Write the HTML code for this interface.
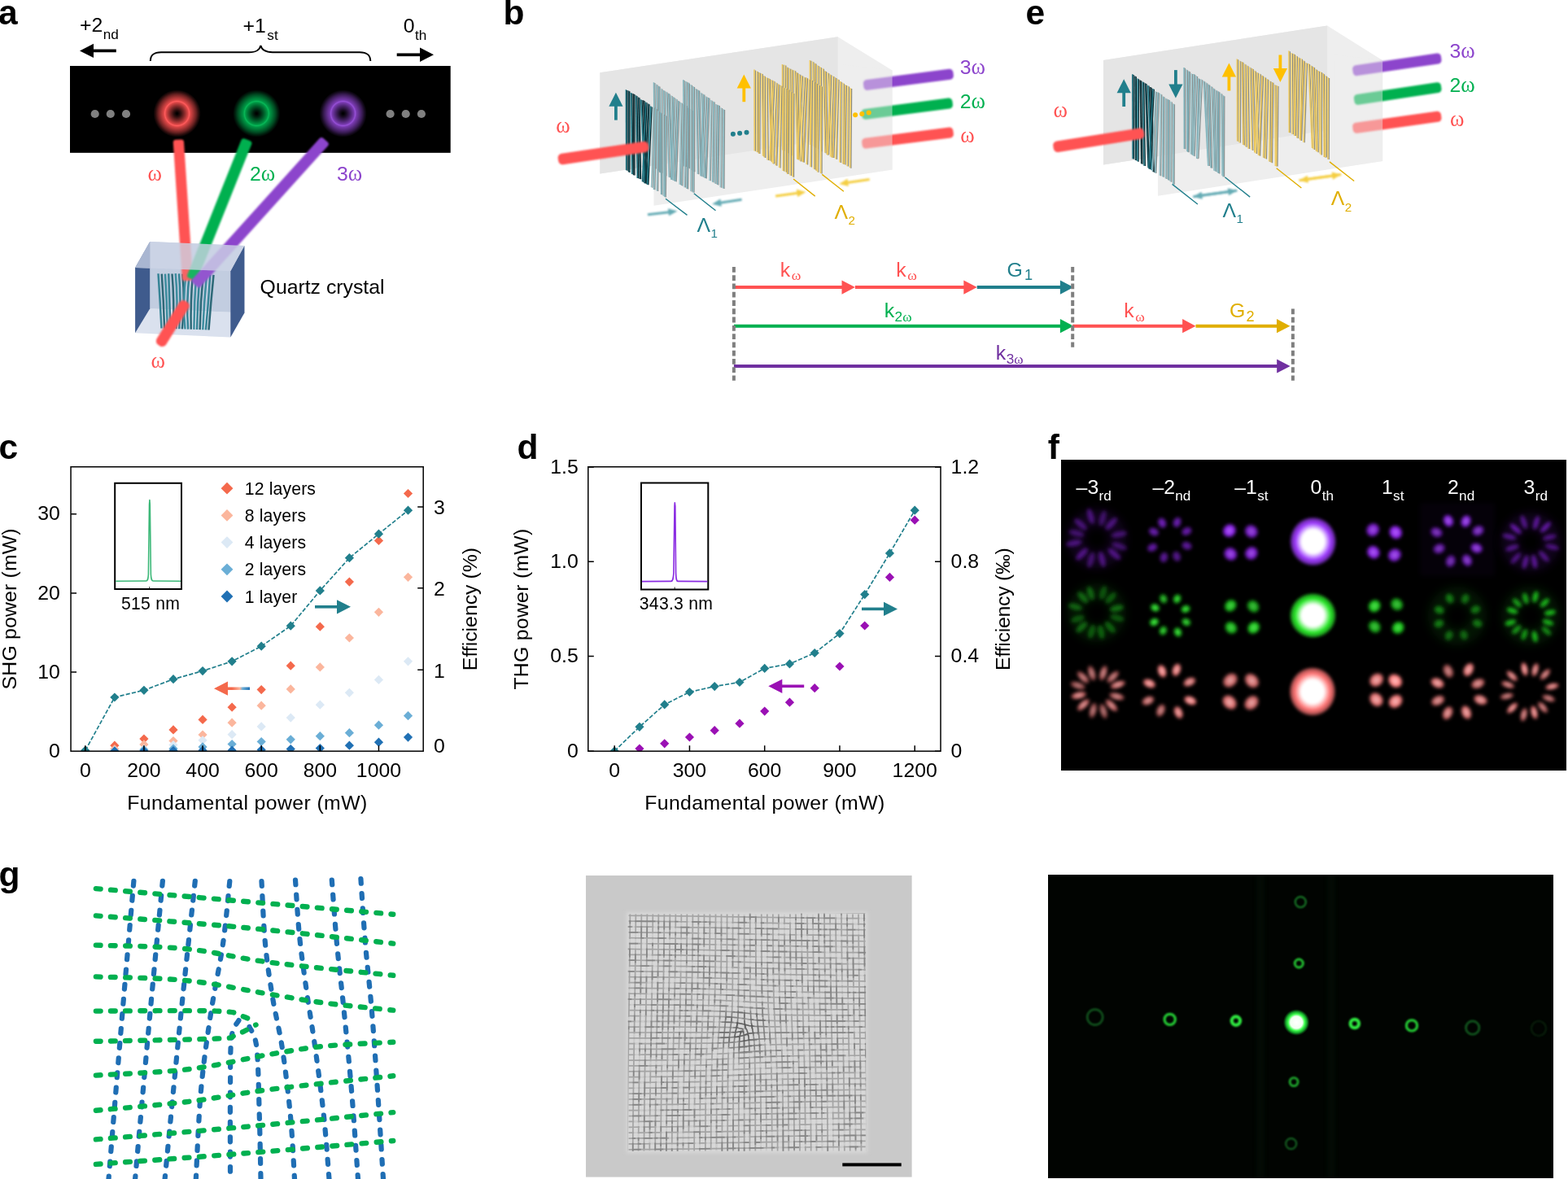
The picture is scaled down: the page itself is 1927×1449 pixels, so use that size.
<!DOCTYPE html>
<html lang="en"><head><meta charset="utf-8"><title>Figure</title>
<style>
html,body{margin:0;padding:0;background:#fff;overflow:hidden}
svg{display:block}
text{font-family:"Liberation Sans",sans-serif}
.om{font-family:"Liberation Serif",serif}
</style></head><body>
<svg width="1927" height="1449" viewBox="0 0 1927 1449">
<defs><radialGradient id="rgR"><stop offset="0" stop-color="#000000"/><stop offset="0.04" stop-color="#050101"/><stop offset="0.15" stop-color="#331010"/><stop offset="0.3" stop-color="#842a2a"/><stop offset="0.45" stop-color="#db4646"/><stop offset="0.5" stop-color="#ff5c5c"/><stop offset="0.55" stop-color="#db4646"/><stop offset="0.65" stop-color="#ad3737"/><stop offset="0.78" stop-color="#6b2222"/><stop offset="0.88" stop-color="#2d0e0e"/><stop offset="0.97" stop-color="#000000"/></radialGradient><radialGradient id="rgG"><stop offset="0" stop-color="#000000"/><stop offset="0.04" stop-color="#000301"/><stop offset="0.15" stop-color="#002310"/><stop offset="0.3" stop-color="#005b29"/><stop offset="0.45" stop-color="#009744"/><stop offset="0.5" stop-color="#08b858"/><stop offset="0.55" stop-color="#009744"/><stop offset="0.65" stop-color="#007736"/><stop offset="0.78" stop-color="#004921"/><stop offset="0.88" stop-color="#001f0e"/><stop offset="0.97" stop-color="#000000"/></radialGradient><radialGradient id="rgP"><stop offset="0" stop-color="#000000"/><stop offset="0.04" stop-color="#020104"/><stop offset="0.15" stop-color="#1c0d28"/><stop offset="0.3" stop-color="#48236a"/><stop offset="0.45" stop-color="#783aaf"/><stop offset="0.5" stop-color="#9650d6"/><stop offset="0.55" stop-color="#783aaf"/><stop offset="0.65" stop-color="#5f2e8a"/><stop offset="0.78" stop-color="#3a1c55"/><stop offset="0.88" stop-color="#190c24"/><stop offset="0.97" stop-color="#000000"/></radialGradient><filter id="b05" filterUnits="userSpaceOnUse" x="0" y="0" width="1927" height="1449"><feGaussianBlur stdDeviation="0.5"/></filter><filter id="b1" filterUnits="userSpaceOnUse" x="0" y="0" width="1927" height="1449"><feGaussianBlur stdDeviation="0.9"/></filter><filter id="b12" filterUnits="userSpaceOnUse" x="0" y="0" width="1927" height="1449"><feGaussianBlur stdDeviation="1.2"/></filter><filter id="b15" filterUnits="userSpaceOnUse" x="0" y="0" width="1927" height="1449"><feGaussianBlur stdDeviation="1.5"/></filter><filter id="b2" filterUnits="userSpaceOnUse" x="0" y="0" width="1927" height="1449"><feGaussianBlur stdDeviation="2"/></filter><filter id="b3" filterUnits="userSpaceOnUse" x="0" y="0" width="1927" height="1449"><feGaussianBlur stdDeviation="3"/></filter><filter id="b4" filterUnits="userSpaceOnUse" x="0" y="0" width="1927" height="1449"><feGaussianBlur stdDeviation="4"/></filter><filter id="b6" filterUnits="userSpaceOnUse" x="0" y="0" width="1927" height="1449"><feGaussianBlur stdDeviation="6"/></filter><linearGradient id="rb" x1="0" y1="0" x2="1" y2="0"><stop offset="0" stop-color="#f4694c"/><stop offset="0.5" stop-color="#f4694c"/><stop offset="0.72" stop-color="#fbb69d"/><stop offset="0.8" stop-color="#6aaed6"/><stop offset="1" stop-color="#2070b4"/></linearGradient><clipPath id="clipc"><rect x="87" y="573" width="434" height="350.5"/></clipPath><clipPath id="clipd"><rect x="722" y="573" width="435" height="350.5"/></clipPath><radialGradient id="z0"><stop offset="0" stop-color="#fff"/><stop offset="0.46" stop-color="#fff"/><stop offset="0.72" stop-color="#a03cff"/><stop offset="0.86" stop-color="#a03cff" stop-opacity="0.75"/><stop offset="1" stop-color="#a03cff" stop-opacity="0"/></radialGradient><radialGradient id="z1"><stop offset="0" stop-color="#fff"/><stop offset="0.46" stop-color="#fff"/><stop offset="0.72" stop-color="#2bea2b"/><stop offset="0.86" stop-color="#2bea2b" stop-opacity="0.75"/><stop offset="1" stop-color="#2bea2b" stop-opacity="0"/></radialGradient><radialGradient id="z2"><stop offset="0" stop-color="#fff"/><stop offset="0.46" stop-color="#fff"/><stop offset="0.72" stop-color="#ff7676"/><stop offset="0.86" stop-color="#ff7676" stop-opacity="0.75"/><stop offset="1" stop-color="#ff7676" stop-opacity="0"/></radialGradient><radialGradient id="gsp"><stop offset="0" stop-color="#fff"/><stop offset="0.45" stop-color="#f0fff0"/><stop offset="0.62" stop-color="#3dff4d"/><stop offset="0.8" stop-color="#18c030" stop-opacity="0.8"/><stop offset="1" stop-color="#0a6018" stop-opacity="0"/></radialGradient><clipPath id="clipc2"><ellipse cx="914" cy="1267" rx="30" ry="26"/></clipPath><clipPath id="clipc3"><ellipse cx="914" cy="1267" rx="14" ry="13"/></clipPath><clipPath id="clipm"><rect x="771.6" y="1122.5" width="292.6" height="292.6"/></clipPath><clipPath id="clipg"><rect x="1288" y="1075" width="621" height="373"/></clipPath></defs>
<text x="-2" y="29.8" font-size="42.5" font-weight="bold">a</text>
<rect x="86" y="81" width="467.7" height="106.8"/>
<circle cx="217.6" cy="139.5" r="30" fill="url(#rgR)"/>
<circle cx="315.3" cy="139.5" r="30" fill="url(#rgG)"/>
<circle cx="421.6" cy="139.5" r="30" fill="url(#rgP)"/>
<circle cx="116.7" cy="140" r="5.1" fill="#808080"/>
<circle cx="135.8" cy="140" r="5.1" fill="#808080"/>
<circle cx="155" cy="140" r="5.1" fill="#808080"/>
<circle cx="479.6" cy="140" r="5.1" fill="#808080"/>
<circle cx="498.7" cy="140" r="5.1" fill="#808080"/>
<circle cx="517.9" cy="140" r="5.1" fill="#808080"/>
<text x="98" y="39.1" font-size="24.8">+2<tspan font-size="17.2" dy="8.9" dx="0.5">nd</tspan></text>
<text x="298.5" y="40.4" font-size="24.8">+1<tspan font-size="17.2" dy="8.6" dx="1.5">st</tspan></text>
<text x="495.8" y="39.9" font-size="24.8">0<tspan font-size="17.2" dy="8.9" dx="0.5">th</tspan></text>
<g><line x1="142.8" y1="62.4" x2="114" y2="62.4" stroke="#000" stroke-width="3.7"/><polygon points="98,62.4 115,53.7 115,71.1" fill="#000"/></g>
<g><line x1="487.7" y1="67.3" x2="517" y2="67.3" stroke="#000" stroke-width="3.7"/><polygon points="533,67.3 516,76 516,58.6" fill="#000"/></g>
<path d="M184.8 75 C185 66.5 190 64.2 198 64.2 L306 64.2 C314 64.2 319 62.5 320.4 55.9 C321.8 62.5 327 64.2 335 64.2 L442 64.2 C450 64.2 455 66.5 455.3 75" fill="none" stroke="#000" stroke-width="2"/>
<polygon points="166.1,409.2 283.3,414.5 300.4,384.6 184.3,379.3" fill="#dde3ef"/><polygon points="184.3,297 300.4,302 300.4,384.6 184.3,379.3" fill="#c2cce0"/><polygon points="166.1,329 184.3,297 184.3,379.3 166.1,409.2" fill="#3f5b8d"/><polygon points="283.3,333.3 300.4,302 300.4,384.6 283.3,414.5" fill="#3f5b8d"/>
<g fill="none" stroke-width="2.5"><path d="M194.5 336.24 Q196.76 369.87 198.5 403.5" stroke="#23798b"/><path d="M198.75 336.54 Q201.07 370.08 202.12 403.62" stroke="#185a69"/><path d="M203 336.61 Q205.13 370.18 205.75 403.75" stroke="#2a8294"/><path d="M207.25 336.25 Q208.29 370.06 209.38 403.88" stroke="#23798b"/><path d="M211.5 336.52 Q214.25 370.26 213 404" stroke="#185a69"/><path d="M215.75 336.08 Q218.82 370.1 216.62 404.12" stroke="#2a8294"/><path d="M220 336.31 Q222.8 370.28 220.25 404.25" stroke="#23798b"/><path d="M224.25 336.73 Q227.42 370.55 223.88 404.38" stroke="#185a69"/><path d="M228.5 336.47 Q224.22 370.48 227.5 404.5" stroke="#2a8294"/><path d="M232.75 337.26 Q228.77 370.94 231.12 404.62" stroke="#23798b"/><path d="M237 336.6 Q233.96 370.67 234.75 404.75" stroke="#185a69"/><path d="M241.25 336.67 Q238.58 370.77 238.38 404.88" stroke="#2a8294"/><path d="M245.5 336.75 Q242.83 370.88 242 405" stroke="#23798b"/><path d="M249.75 337.59 Q246.26 371.36 245.62 405.12" stroke="#185a69"/><path d="M254 337.03 Q250.84 371.14 249.25 405.25" stroke="#2a8294"/><path d="M258.25 337.78 Q256.19 371.58 252.88 405.38" stroke="#23798b"/><path d="M262.5 337.96 Q259.11 371.73 256.5 405.5" stroke="#185a69"/></g>
<g filter="url(#b12)"><rect x="0" y="-6.6" width="173.77" height="13.2" rx="3.5" fill="#ff5252" transform="translate(230.6 345) rotate(-93.76)"/></g>
<g filter="url(#b12)"><rect x="0" y="-6.9" width="184.4" height="13.8" rx="3.5" fill="#00b050" transform="translate(235.5 343) rotate(-68.19)"/></g>
<g filter="url(#b12)"><rect x="0" y="-6.9" width="239.45" height="13.8" rx="3.5" fill="#8c44cc" transform="translate(239.5 350) rotate(-47.91)"/></g>
<polygon points="166.1,329 184.3,297 300.4,302 283.3,333.3" fill="#cdd5e6" fill-opacity="0.8"/>
<polygon points="184.3,329.7 283.3,333.3 283.3,414.5 184.3,410" fill="#c9d2e4" fill-opacity="0.12"/>
<polygon points="166.1,329 184.3,297 184.3,329.7" fill="#a9b5d0" fill-opacity="0.9"/>
<g filter="url(#b12)"><rect x="0" y="-6.75" width="63.55" height="13.5" rx="5.5" fill="#ff5252" transform="translate(195.5 424.5) rotate(-58.19)"/></g>
<text x="181.6" y="222" font-size="26.5" fill="#ff5252" class="om">ω</text>
<text x="307" y="222" font-size="24.8" fill="#00b050">2<tspan class="om" font-size="26.5">ω</tspan></text>
<text x="414" y="222" font-size="24.8" fill="#8c44cc">3<tspan class="om" font-size="26.5">ω</tspan></text>
<text x="185.6" y="451.6" font-size="26.5" fill="#ff5252" class="om">ω</text>
<text x="319.6" y="360.6" font-size="24.8">Quartz crystal</text>
<text x="618.5" y="29.8" font-size="42.5" font-weight="bold">b</text>
<polygon points="737.3,89.3 1029.6,45.2 1096.6,86.6 1096.6,208.6 803.5,252.7 803.5,203.51 737.3,213.5" fill="#eeeeee"/><polygon points="737.3,89.3 1029.6,45.2 1029.6,169.4 737.3,213.5" fill="#e5e5e5"/>
<g filter="url(#b12)"><rect x="0" y="-6.5" width="111.34" height="13" rx="4.5" fill="#8c44cc" transform="translate(1061.2 105) rotate(-7.43)"/></g>
<g filter="url(#b12)"><rect x="0" y="-6.5" width="112.62" height="13" rx="4.5" fill="#00b050" transform="translate(1059 140.9) rotate(-7.35)"/></g>
<g filter="url(#b12)"><rect x="0" y="-6.5" width="113.11" height="13" rx="4.5" fill="#ff5252" transform="translate(1059.4 176.7) rotate(-7.26)"/></g>
<polygon points="1036.6,79.6 1096.6,86.6 1096.6,208.6 1036.6,217.6" fill="#eeeeee" opacity="0.45"/>
<path d="M996.7 74.86L997 178.33M999.82 76.31L1000.92 179.99M1002.94 78.52L1002.46 181.59M1006.06 81.09L1005.98 182.91M1009.17 83.1L1010.19 186.24M1012.29 84.67L1014.97 188.24M1015.41 88.02L1017.76 190.62M1018.53 90.11L1023.27 193.74M1021.65 92.21L1018.62 190.34M1024.77 93.93L1021.73 192.86M1027.89 96L1024.78 194.09M1031.01 97.99L1028.43 195.87M1034.12 100.82L1033.41 199.99M1037.24 102.63L1036.86 201.67M1040.36 104.95L1038.97 202.47M1043.48 106.43L1042.44 204.61M1046.6 108.94L1045.88 206.73" stroke="#8f8f84" stroke-width="1.4" fill="none"/><g stroke-width="1.6" fill="none"><path d="M995.4 74.06L995.7 177.93" stroke="#ecc85f"/><path d="M998.52 75.51L999.62 179.59" stroke="#f2d475"/><path d="M1001.64 77.72L1001.16 181.19" stroke="#e3bd52"/><path d="M1004.76 80.29L1004.68 182.51" stroke="#f0cf6a"/><path d="M1007.88 82.3L1008.89 185.84" stroke="#ecc85f"/><path d="M1010.99 83.87L1013.67 187.84" stroke="#f2d475"/><path d="M1014.11 87.22L1016.46 190.22" stroke="#e3bd52"/><path d="M1017.23 89.31L1021.97 193.34" stroke="#f0cf6a"/><path d="M1020.35 91.41L1017.32 189.94" stroke="#ecc85f"/><path d="M1023.47 93.13L1020.43 192.46" stroke="#f2d475"/><path d="M1026.59 95.2L1023.48 193.69" stroke="#e3bd52"/><path d="M1029.71 97.19L1027.13 195.47" stroke="#f0cf6a"/><path d="M1032.83 100.02L1032.11 199.59" stroke="#ecc85f"/><path d="M1035.94 101.83L1035.56 201.27" stroke="#f2d475"/><path d="M1039.06 104.15L1037.67 202.07" stroke="#e3bd52"/><path d="M1042.18 105.63L1041.14 204.21" stroke="#f0cf6a"/><path d="M1045.3 108.14L1044.58 206.33" stroke="#ecc85f"/></g>
<path d="M962.8 79.82L963.1 184.82M965.77 80.58L965.04 185.61M968.74 83.37L968.59 188.26M971.71 84.69L972.85 190.87M974.67 86.19L975.3 191.69M977.64 87.33L981.09 196.21M980.61 89.87L982.78 196.58M983.58 91.76L987.28 198.93M986.55 93.53L981.21 195.84M989.52 95.3L984.51 198.51M992.49 96.18L988.21 199.67M995.46 98.13L992.58 202.42M998.42 99L997.39 205.42M1001.39 101.15L1001.33 208.22M1004.36 102.93L1004.17 209.93M1007.33 104.95L1005.91 211.83M1010.3 106.53L1010 213.51" stroke="#8f8f84" stroke-width="1.4" fill="none"/><g stroke-width="1.6" fill="none"><path d="M961.5 79.02L961.8 184.42" stroke="#ecc85f"/><path d="M964.47 79.78L963.74 185.21" stroke="#f2d475"/><path d="M967.44 82.57L967.29 187.86" stroke="#e3bd52"/><path d="M970.41 83.89L971.55 190.47" stroke="#f0cf6a"/><path d="M973.38 85.39L974 191.29" stroke="#ecc85f"/><path d="M976.34 86.53L979.79 195.81" stroke="#f2d475"/><path d="M979.31 89.07L981.48 196.18" stroke="#e3bd52"/><path d="M982.28 90.96L985.98 198.53" stroke="#f0cf6a"/><path d="M985.25 92.73L979.91 195.44" stroke="#ecc85f"/><path d="M988.22 94.5L983.21 198.11" stroke="#f2d475"/><path d="M991.19 95.38L986.91 199.27" stroke="#e3bd52"/><path d="M994.16 97.33L991.28 202.02" stroke="#f0cf6a"/><path d="M997.12 98.2L996.09 205.02" stroke="#ecc85f"/><path d="M1000.09 100.35L1000.03 207.82" stroke="#f2d475"/><path d="M1003.06 102.13L1002.87 209.53" stroke="#e3bd52"/><path d="M1006.03 104.15L1004.61 211.43" stroke="#f0cf6a"/><path d="M1009 105.73L1008.7 213.11" stroke="#ecc85f"/></g>
<path d="M928.3 86.38L928.6 185.81M931.27 88.08L931.38 187.3M934.24 89.85L933.86 189.12M937.21 91.04L938.85 192.19M940.17 93.81L940.66 194.01M943.14 95.82L944.35 197M946.11 97.07L949.78 199.72M949.08 98.72L951.77 200.98M952.05 100.09L947.04 197.6M955.02 102.14L950.98 201.52M957.99 104.18L954.77 203.72M960.96 105.7L958.99 206.4M963.92 108.22L963.67 210.5M966.89 109.04L966.55 211.68M969.86 110.46L968.87 214.07M972.83 113.32L972.38 216.02M975.8 115.09L975.5 217.69" stroke="#8f8f84" stroke-width="1.4" fill="none"/><g stroke-width="1.6" fill="none"><path d="M927 85.58L927.3 185.41" stroke="#ecc85f"/><path d="M929.97 87.28L930.08 186.9" stroke="#f2d475"/><path d="M932.94 89.05L932.56 188.72" stroke="#e3bd52"/><path d="M935.91 90.24L937.55 191.79" stroke="#f0cf6a"/><path d="M938.88 93.01L939.36 193.61" stroke="#ecc85f"/><path d="M941.84 95.02L943.05 196.6" stroke="#f2d475"/><path d="M944.81 96.27L948.48 199.32" stroke="#e3bd52"/><path d="M947.78 97.92L950.47 200.58" stroke="#f0cf6a"/><path d="M950.75 99.29L945.74 197.2" stroke="#ecc85f"/><path d="M953.72 101.34L949.68 201.12" stroke="#f2d475"/><path d="M956.69 103.38L953.47 203.32" stroke="#e3bd52"/><path d="M959.66 104.9L957.69 206" stroke="#f0cf6a"/><path d="M962.62 107.42L962.37 210.1" stroke="#ecc85f"/><path d="M965.59 108.24L965.25 211.28" stroke="#f2d475"/><path d="M968.56 109.66L967.57 213.67" stroke="#e3bd52"/><path d="M971.53 112.52L971.08 215.62" stroke="#f0cf6a"/><path d="M974.5 114.29L974.2 217.29" stroke="#ecc85f"/></g>
<path d="M841.1 98.93L842.28 204.94M844.19 100.74L843.3 204.88M847.27 102.39L847.8 207.17M850.36 104.83L851.1 209.47M853.45 106.95L853.76 211.37M856.54 109.85L858.73 214.3M859.62 111.52L862.53 216.59M862.71 114.66L866.89 218.9M865.8 116.56L862.82 216.73M868.89 119.16L864.6 217.63M871.97 120.78L868.22 219.48M875.06 123.8L873.24 222.36M878.15 125.53L876.98 224.16M881.24 128.72L879.9 225.89M884.33 130.03L882.88 227.41M887.41 133L886.63 230.69M890.5 135.02L889.98 231.9" stroke="#8d9393" stroke-width="1.4" fill="none"/><g stroke-width="1.6" fill="none"><path d="M839.8 98.13L840.98 204.54" stroke="#84b6be"/><path d="M842.89 99.94L842 204.48" stroke="#93bec6"/><path d="M845.97 101.59L846.5 206.77" stroke="#78abb4"/><path d="M849.06 104.03L849.8 209.07" stroke="#a0c6cc"/><path d="M852.15 106.15L852.46 210.97" stroke="#84b6be"/><path d="M855.24 109.05L857.43 213.9" stroke="#93bec6"/><path d="M858.33 110.72L861.23 216.19" stroke="#78abb4"/><path d="M861.41 113.86L865.59 218.5" stroke="#a0c6cc"/><path d="M864.5 115.76L861.52 216.33" stroke="#84b6be"/><path d="M867.59 118.36L863.3 217.23" stroke="#93bec6"/><path d="M870.67 119.98L866.92 219.08" stroke="#78abb4"/><path d="M873.76 123L871.94 221.96" stroke="#a0c6cc"/><path d="M876.85 124.73L875.68 223.76" stroke="#84b6be"/><path d="M879.94 127.92L878.6 225.49" stroke="#93bec6"/><path d="M883.03 129.23L881.58 227.01" stroke="#78abb4"/><path d="M886.11 132.2L885.33 230.29" stroke="#a0c6cc"/><path d="M889.2 134.22L888.68 231.5" stroke="#84b6be"/></g>
<path d="M804.8 102L806.07 207.51M807.83 104.21L809.32 209.65M810.86 106.6L811.7 212.18M813.89 109.61L814.08 212.85M816.92 111.73L818.73 216.22M819.96 113.57L823.45 218.23M822.99 115.56L827.25 220.93M826.02 118.08L829.16 222.48M829.05 120.13L825.99 221.06M832.08 122.18L828.31 222M835.11 124.7L831.21 223.37M838.14 126.86L836.48 227.08M841.17 128.83L838.7 228.46M844.21 129.9L842.51 230.61M847.24 133.28L845.58 232.46M850.27 134.72L850.12 235.47M853.3 136.73L853 236.84" stroke="#8d9393" stroke-width="1.4" fill="none"/><g stroke-width="1.6" fill="none"><path d="M803.5 101.2L804.77 207.11" stroke="#84b6be"/><path d="M806.53 103.41L808.02 209.25" stroke="#93bec6"/><path d="M809.56 105.8L810.4 211.78" stroke="#78abb4"/><path d="M812.59 108.81L812.78 212.45" stroke="#a0c6cc"/><path d="M815.62 110.93L817.43 215.82" stroke="#84b6be"/><path d="M818.66 112.77L822.15 217.83" stroke="#93bec6"/><path d="M821.69 114.76L825.95 220.53" stroke="#78abb4"/><path d="M824.72 117.28L827.86 222.08" stroke="#a0c6cc"/><path d="M827.75 119.33L824.69 220.66" stroke="#84b6be"/><path d="M830.78 121.38L827.01 221.6" stroke="#93bec6"/><path d="M833.81 123.9L829.91 222.97" stroke="#78abb4"/><path d="M836.84 126.06L835.18 226.68" stroke="#a0c6cc"/><path d="M839.88 128.03L837.4 228.06" stroke="#84b6be"/><path d="M842.91 129.1L841.21 230.21" stroke="#93bec6"/><path d="M845.94 132.48L844.28 232.06" stroke="#78abb4"/><path d="M848.97 133.92L848.82 235.07" stroke="#a0c6cc"/><path d="M852 135.93L851.7 236.44" stroke="#84b6be"/></g>
<path d="M770.7 110.97L771 209.7M773.74 112.31L773.88 211.9M776.77 114.73L778.02 214.35M779.81 116.02L780.01 215.53M782.85 118.12L784.62 219.3M785.89 120.36L787.58 220.3M788.92 123.07L793.49 225.53M791.96 124.09L796.21 226.64M795 126.21L790.79 223.78M798.04 128.27L793.75 225.63M801.07 131.36L796.83 227.24" stroke="#0c2a30" stroke-width="1.4" fill="none"/><path d="M804.11 132.55L801.85 230.75M807.15 134.13L804.79 233.31M810.19 137.17L808.62 235.03M813.22 139.34L814 239.5M816.26 140.91L816.75 241.36M819.3 142.77L818.24 242.53" stroke="#8d9393" stroke-width="1.4" fill="none"/><g stroke-width="1.6" fill="none"><path d="M769.4 110.17L769.7 209.3" stroke="#1c6f7d"/><path d="M772.44 111.51L772.58 211.5" stroke="#0f4852"/><path d="M775.48 113.93L776.72 213.95" stroke="#237f8d"/><path d="M778.51 115.22L778.71 215.13" stroke="#12343a"/><path d="M781.55 117.32L783.32 218.9" stroke="#1c6f7d"/><path d="M784.59 119.56L786.28 219.9" stroke="#0f4852"/><path d="M787.62 122.27L792.19 225.13" stroke="#237f8d"/><path d="M790.66 123.29L794.91 226.24" stroke="#12343a"/><path d="M793.7 125.41L789.49 223.38" stroke="#1c6f7d"/><path d="M796.74 127.47L792.45 225.23" stroke="#0f4852"/><path d="M799.77 130.56L795.53 226.84" stroke="#237f8d"/><path d="M802.81 131.75L800.55 230.35" stroke="#a0c6cc"/><path d="M805.85 133.33L803.49 232.91" stroke="#84b6be"/><path d="M808.89 136.37L807.32 234.63" stroke="#93bec6"/><path d="M811.92 138.54L812.7 239.1" stroke="#78abb4"/><path d="M814.96 140.11L815.45 240.96" stroke="#a0c6cc"/><path d="M818 141.97L816.94 242.13" stroke="#84b6be"/></g>
<circle cx="900.9" cy="164.7" r="3" fill="#217f8c"/>
<circle cx="909.1" cy="163.8" r="3" fill="#217f8c"/>
<circle cx="917.5" cy="162.7" r="3" fill="#217f8c"/>
<circle cx="1051.1" cy="141.2" r="3" fill="#ffc000"/>
<circle cx="1059.3" cy="139.9" r="3" fill="#ffc000"/>
<circle cx="1067.7" cy="138.6" r="3" fill="#ffc000"/>
<g><line x1="756.9" y1="147.6" x2="756.9" y2="129.8" stroke="#217f8c" stroke-width="3.8"/><polygon points="756.9,113.8 765.5,130.8 748.3,130.8" fill="#217f8c"/></g>
<g><line x1="914.3" y1="125.2" x2="914.3" y2="107.5" stroke="#ffc000" stroke-width="3.8"/><polygon points="914.3,91.5 922.9,108.5 905.7,108.5" fill="#ffc000"/></g>
<g filter="url(#b12)"><rect x="0" y="-6.75" width="112.2" height="13.5" rx="5" fill="#ff5252" transform="translate(686 196.2) rotate(-8.4)"/></g>
<text x="683.3" y="162.7" font-size="26.5" fill="#ff5252" class="om">ω</text>
<path d="M818 244.3L844.5 264.4M852.8 237.8L879.5 258.8" stroke="#217f8c" stroke-width="1.4" fill="none"/>
<path d="M975.1 220L1001.7 241.1M1010.3 214.4L1036.9 235.3" stroke="#e0ae00" stroke-width="1.4" fill="none"/>
<g filter="url(#b1)" opacity="0.8"><g><line x1="796" y1="263.8" x2="822.47" y2="260.67" stroke="#3f97a3" stroke-width="3"/><polygon points="832.4,259.5 822.02,265.36 820.94,256.22" fill="#3f97a3"/></g></g>
<g filter="url(#b1)" opacity="0.8"><g><line x1="911.5" y1="245.2" x2="885.08" y2="249.28" stroke="#3f97a3" stroke-width="3"/><polygon points="875.2,250.8 885.37,244.58 886.77,253.67" fill="#3f97a3"/></g></g>
<g filter="url(#b1)" opacity="0.8"><g><line x1="953.1" y1="241.1" x2="980.5" y2="237.28" stroke="#f2c318" stroke-width="3"/><polygon points="990.4,235.9 980.14,241.97 978.87,232.86" fill="#f2c318"/></g></g>
<g filter="url(#b1)" opacity="0.8"><g><line x1="1068.6" y1="220.4" x2="1041.19" y2="224.52" stroke="#f2c318" stroke-width="3"/><polygon points="1031.3,226 1041.5,219.82 1042.86,228.92" fill="#f2c318"/></g></g>
<text x="856.5" y="284.7" font-size="24.8" fill="#217f8c">Λ<tspan font-size="15.2" dy="7.6" dx="0.3">1</tspan></text>
<text x="1025.5" y="268.8" font-size="24.8" fill="#e0ae00">Λ<tspan font-size="15.2" dy="7.6" dx="0.3">2</tspan></text>
<text x="1179.8" y="91" font-size="24.8" fill="#8c44cc">3<tspan class="om" font-size="26.5">ω</tspan></text>
<text x="1179.8" y="132.8" font-size="24.8" fill="#00b050">2<tspan class="om" font-size="26.5">ω</tspan></text>
<text x="1180.2" y="174.9" font-size="26.5" fill="#ff5252" class="om">ω</text>
<g><line x1="901.9" y1="353.1" x2="1035.5" y2="353.1" stroke="#ff5252" stroke-width="4"/><polygon points="1050.9,353.1 1034.5,361.7 1034.5,344.5" fill="#ff5252"/></g>
<g><line x1="1050.9" y1="353.1" x2="1185.3" y2="353.1" stroke="#ff5252" stroke-width="4"/><polygon points="1200.7,353.1 1184.3,361.7 1184.3,344.5" fill="#ff5252"/></g>
<g><line x1="1200.7" y1="353.1" x2="1303.9" y2="353.1" stroke="#217f8c" stroke-width="4"/><polygon points="1319.3,353.1 1302.9,361.7 1302.9,344.5" fill="#217f8c"/></g>
<g><line x1="901.9" y1="400.7" x2="1303.9" y2="400.7" stroke="#00b050" stroke-width="4"/><polygon points="1319.3,400.7 1302.9,409.3 1302.9,392.1" fill="#00b050"/></g>
<g><line x1="1318.2" y1="400.7" x2="1454.1" y2="400.7" stroke="#ff5252" stroke-width="4"/><polygon points="1469.5,400.7 1453.1,409.3 1453.1,392.1" fill="#ff5252"/></g>
<g><line x1="1469.5" y1="400.7" x2="1570" y2="400.7" stroke="#e0ae00" stroke-width="4"/><polygon points="1585.4,400.7 1569,409.3 1569,392.1" fill="#e0ae00"/></g>
<g><line x1="901.9" y1="450" x2="1570.2" y2="450" stroke="#7030a0" stroke-width="4"/><polygon points="1585.6,450 1569.2,458.6 1569.2,441.4" fill="#7030a0"/></g>
<path d="M901.9 328V467.8M1318.2 328V426.8M1588.9 379.4V467.8" stroke="#7f7f7f" stroke-width="4" stroke-dasharray="6.8 3.47" fill="none"/>
<text x="958.8" y="339.6" font-size="24.8" fill="#ff5252">k<tspan font-size="17.6" dy="4.8" dx="1.6"><tspan class="om">ω</tspan></tspan></text>
<text x="1101.3" y="339.6" font-size="24.8" fill="#ff5252">k<tspan font-size="17.6" dy="4.8" dx="1.6"><tspan class="om">ω</tspan></tspan></text>
<text x="1237.6" y="339.6" font-size="24.8" fill="#217f8c">G<tspan font-size="18.2" dy="4.5" dx="2">1</tspan></text>
<text x="1086.7" y="390.2" font-size="24.8" fill="#00b050">k<tspan font-size="17.2" dy="4.5" dx="0.5">2<tspan class="om">ω</tspan></tspan></text>
<text x="1381.2" y="390.2" font-size="24.8" fill="#ff5252">k<tspan font-size="17.6" dy="4.8" dx="1.6"><tspan class="om">ω</tspan></tspan></text>
<text x="1511" y="390.2" font-size="24.8" fill="#e0ae00">G<tspan font-size="18.2" dy="4.5" dx="1.2">2</tspan></text>
<text x="1223.8" y="442" font-size="24.8" fill="#7030a0">k<tspan font-size="17.2" dy="4.5" dx="0.5">3<tspan class="om">ω</tspan></tspan></text>
<text x="1260.5" y="29.8" font-size="42.5" font-weight="bold">e</text>
<polygon points="1356,74 1631.1,31.4 1699.2,74.2 1699.2,197.9 1423.1,240.8 1423.1,192.21 1356,202.6" fill="#eeeeee"/><polygon points="1356,74 1631.1,31.4 1631.1,160 1356,202.6" fill="#e5e5e5"/>
<g filter="url(#b12)"><rect x="0" y="-6.5" width="109.87" height="13" rx="4.5" fill="#8c44cc" transform="translate(1662.5 87.3) rotate(-8.37)"/></g>
<g filter="url(#b12)"><rect x="0" y="-6.5" width="108.19" height="13" rx="4.5" fill="#00b050" transform="translate(1664.2 123) rotate(-8.5)"/></g>
<g filter="url(#b12)"><rect x="0" y="-6.5" width="109.77" height="13" rx="4.5" fill="#ff5252" transform="translate(1662.5 157.9) rotate(-8.01)"/></g>
<polygon points="1639.2,67.2 1699.2,74.2 1699.2,197.9 1639.2,206.9" fill="#eeeeee" opacity="0.45"/>
<path d="M1585.3 63.32L1585.6 163.29M1588.31 65.74L1589.15 165.11M1591.33 67.11L1592.05 167.06M1594.34 69.24L1592.4 167.1M1597.35 71.38L1595.22 169.94M1600.36 72.65L1598.63 171.33M1603.38 75.31L1599.47 173.01M1606.39 77.85L1603.22 175.29M1609.4 78.96L1613.96 182.43M1612.41 81.31L1615.59 183.99M1615.42 83.11L1618.89 186.05M1618.44 85.71L1620.18 187.17M1621.45 87.71L1623.64 189.18M1624.46 88.98L1624.35 190.55M1627.47 91.16L1628.68 193.4M1630.49 93.81L1630.27 193.56M1633.5 95.97L1633.2 196.08" stroke="#8f8f84" stroke-width="1.4" fill="none"/><g stroke-width="1.6" fill="none"><path d="M1584 62.52L1584.3 162.89" stroke="#ecc85f"/><path d="M1587.01 64.94L1587.85 164.71" stroke="#f2d475"/><path d="M1590.03 66.31L1590.75 166.66" stroke="#e3bd52"/><path d="M1593.04 68.44L1591.1 166.7" stroke="#f0cf6a"/><path d="M1596.05 70.58L1593.92 169.54" stroke="#ecc85f"/><path d="M1599.06 71.85L1597.33 170.93" stroke="#f2d475"/><path d="M1602.08 74.51L1598.17 172.61" stroke="#e3bd52"/><path d="M1605.09 77.05L1601.92 174.89" stroke="#f0cf6a"/><path d="M1608.1 78.16L1612.66 182.03" stroke="#ecc85f"/><path d="M1611.11 80.51L1614.29 183.59" stroke="#f2d475"/><path d="M1614.12 82.31L1617.59 185.65" stroke="#e3bd52"/><path d="M1617.14 84.91L1618.88 186.77" stroke="#f0cf6a"/><path d="M1620.15 86.91L1622.34 188.78" stroke="#ecc85f"/><path d="M1623.16 88.18L1623.05 190.15" stroke="#f2d475"/><path d="M1626.17 90.36L1627.38 193" stroke="#e3bd52"/><path d="M1629.19 93.01L1628.97 193.16" stroke="#f0cf6a"/><path d="M1632.2 95.17L1631.9 195.68" stroke="#ecc85f"/></g>
<path d="M1521.6 73.19L1521.9 173.84M1524.69 75.31L1524.3 175.53M1527.77 76.75L1529.28 178.48M1530.86 79.29L1532.05 180.75M1533.95 81.3L1535.57 183.04M1537.04 83.19L1539.78 184.93M1540.12 84.94L1543.39 187.73M1543.21 87.55L1547.77 190.96M1546.3 89.83L1543.21 187.72M1549.39 91.22L1544.45 188.95M1552.47 93.54L1548.64 191.6M1555.56 95.5L1553.82 194.21M1558.65 97.81L1556.44 195.5M1561.74 99.94L1560.92 199M1564.83 101.77L1563.56 200.24M1567.91 104.75L1568.69 204.36M1571 106.01L1569.95 204.57" stroke="#8f8f84" stroke-width="1.4" fill="none"/><g stroke-width="1.6" fill="none"><path d="M1520.3 72.39L1520.6 173.44" stroke="#ecc85f"/><path d="M1523.39 74.51L1523 175.13" stroke="#f2d475"/><path d="M1526.47 75.95L1527.98 178.08" stroke="#e3bd52"/><path d="M1529.56 78.49L1530.75 180.35" stroke="#f0cf6a"/><path d="M1532.65 80.5L1534.27 182.64" stroke="#ecc85f"/><path d="M1535.74 82.39L1538.48 184.53" stroke="#f2d475"/><path d="M1538.83 84.14L1542.09 187.33" stroke="#e3bd52"/><path d="M1541.91 86.75L1546.47 190.56" stroke="#f0cf6a"/><path d="M1545 89.03L1541.91 187.32" stroke="#ecc85f"/><path d="M1548.09 90.42L1543.15 188.55" stroke="#f2d475"/><path d="M1551.17 92.74L1547.34 191.2" stroke="#e3bd52"/><path d="M1554.26 94.7L1552.52 193.81" stroke="#f0cf6a"/><path d="M1557.35 97.01L1555.14 195.1" stroke="#ecc85f"/><path d="M1560.44 99.14L1559.62 198.6" stroke="#f2d475"/><path d="M1563.53 100.97L1562.26 199.84" stroke="#e3bd52"/><path d="M1566.61 103.95L1567.39 203.96" stroke="#f0cf6a"/><path d="M1569.7 105.21L1568.65 204.17" stroke="#ecc85f"/></g>
<path d="M1456.4 83.7L1456.7 183.34M1459.42 86.19L1460.27 186.47M1462.45 88.31L1460.97 187.14M1465.47 91.02L1464.65 189.82M1468.5 91.8L1466.62 191.04M1471.52 93.91L1468.16 192.11M1474.55 97.17L1472.17 195.28M1477.57 98.21L1472.85 194.6M1480.6 100.36L1486.04 204.05M1483.62 102.37L1486.32 204.08M1486.65 104.63L1489.54 206.76M1489.67 106.73L1493.18 210.06M1492.7 109.4L1494.86 210.92M1495.72 111.52L1497.31 212.18M1498.75 113.14L1498.75 213.45M1501.77 115.5L1503.24 216.18M1504.8 118.14L1504.5 217.61" stroke="#8d9393" stroke-width="1.4" fill="none"/><g stroke-width="1.6" fill="none"><path d="M1455.1 82.9L1455.4 182.94" stroke="#84b6be"/><path d="M1458.12 85.39L1458.97 186.07" stroke="#93bec6"/><path d="M1461.15 87.51L1459.67 186.74" stroke="#78abb4"/><path d="M1464.17 90.22L1463.35 189.42" stroke="#a0c6cc"/><path d="M1467.2 91L1465.32 190.64" stroke="#84b6be"/><path d="M1470.22 93.11L1466.86 191.71" stroke="#93bec6"/><path d="M1473.25 96.37L1470.87 194.88" stroke="#78abb4"/><path d="M1476.27 97.41L1471.55 194.2" stroke="#a0c6cc"/><path d="M1479.3 99.56L1484.74 203.65" stroke="#84b6be"/><path d="M1482.33 101.57L1485.02 203.68" stroke="#93bec6"/><path d="M1485.35 103.83L1488.24 206.36" stroke="#78abb4"/><path d="M1488.38 105.93L1491.88 209.66" stroke="#a0c6cc"/><path d="M1491.4 108.6L1493.56 210.52" stroke="#84b6be"/><path d="M1494.42 110.72L1496.01 211.78" stroke="#93bec6"/><path d="M1497.45 112.34L1497.45 213.05" stroke="#78abb4"/><path d="M1500.47 114.7L1501.94 215.78" stroke="#a0c6cc"/><path d="M1503.5 117.34L1503.2 217.21" stroke="#84b6be"/></g>
<path d="M1393.1 91.96L1393.4 195.53M1396.24 94.21L1396.92 197.29M1399.39 97.29L1399.13 198.69M1402.53 99.36L1404.04 201.67M1405.67 101.28L1407.31 204.05M1408.82 102.99L1412.5 206.67M1411.96 105.64L1416.38 209.28M1415.11 107.8L1418.61 211.71M1418.25 109.8L1413.3 207.95" stroke="#0c2a30" stroke-width="1.4" fill="none"/><path d="M1421.39 113.05L1417.57 210.91M1424.54 114.21L1420.89 212.93M1427.68 116.18L1426.56 216.25M1430.82 119.26L1430.24 217.77M1433.97 121.58L1433.86 219.95M1437.11 123.08L1437.04 221.67M1440.26 125.46L1439.63 223.76M1443.4 128.37L1443.1 226.66" stroke="#8d9393" stroke-width="1.4" fill="none"/><g stroke-width="1.6" fill="none"><path d="M1391.8 91.16L1392.1 195.13" stroke="#1c6f7d"/><path d="M1394.94 93.41L1395.62 196.89" stroke="#0f4852"/><path d="M1398.09 96.49L1397.83 198.29" stroke="#237f8d"/><path d="M1401.23 98.56L1402.74 201.27" stroke="#12343a"/><path d="M1404.38 100.48L1406.01 203.65" stroke="#1c6f7d"/><path d="M1407.52 102.19L1411.2 206.27" stroke="#0f4852"/><path d="M1410.66 104.84L1415.08 208.88" stroke="#237f8d"/><path d="M1413.81 107L1417.31 211.31" stroke="#12343a"/><path d="M1416.95 109L1412 207.55" stroke="#1c6f7d"/><path d="M1420.09 112.25L1416.27 210.51" stroke="#93bec6"/><path d="M1423.24 113.41L1419.59 212.53" stroke="#78abb4"/><path d="M1426.38 115.38L1425.26 215.85" stroke="#a0c6cc"/><path d="M1429.52 118.46L1428.94 217.37" stroke="#84b6be"/><path d="M1432.67 120.78L1432.56 219.55" stroke="#93bec6"/><path d="M1435.81 122.28L1435.74 221.27" stroke="#78abb4"/><path d="M1438.96 124.66L1438.33 223.36" stroke="#a0c6cc"/><path d="M1442.1 127.57L1441.8 226.26" stroke="#84b6be"/></g>
<g><line x1="1381.2" y1="131" x2="1381.2" y2="113.3" stroke="#217f8c" stroke-width="3.8"/><polygon points="1381.2,97.3 1389.8,114.3 1372.6,114.3" fill="#217f8c"/></g>
<g><line x1="1444.9" y1="86.1" x2="1444.9" y2="104.6" stroke="#217f8c" stroke-width="3.8"/><polygon points="1444.9,120.6 1436.3,103.6 1453.5,103.6" fill="#217f8c"/></g>
<g><line x1="1510.4" y1="111.5" x2="1510.4" y2="93.4" stroke="#ffc000" stroke-width="3.8"/><polygon points="1510.4,77.4 1519,94.4 1501.8,94.4" fill="#ffc000"/></g>
<g><line x1="1573.4" y1="67.5" x2="1573.4" y2="85" stroke="#ffc000" stroke-width="3.8"/><polygon points="1573.4,101 1564.8,84 1582,84" fill="#ffc000"/></g>
<g filter="url(#b12)"><rect x="0" y="-6.75" width="112.9" height="13.5" rx="5" fill="#ff5252" transform="translate(1294.5 181) rotate(-9.02)"/></g>
<text x="1294.4" y="144.4" font-size="26.5" fill="#ff5252" class="om">ω</text>
<path d="M1440.6 226.4L1471.9 251M1505.4 217.8L1536.2 242.1" stroke="#217f8c" stroke-width="1.4" fill="none"/>
<path d="M1568.7 206.8L1599.4 231M1634 198.9L1664.2 222.5" stroke="#e0ae00" stroke-width="1.4" fill="none"/>
<g filter="url(#b1)" opacity="0.8"><g><line x1="1466.3" y1="241.7" x2="1510.4" y2="235.58" stroke="#3f97a3" stroke-width="3"/><polygon points="1520.3,234.2 1510.04,240.27 1508.77,231.16" fill="#3f97a3"/></g><g><line x1="1520.3" y1="234.2" x2="1476.2" y2="240.32" stroke="#3f97a3" stroke-width="3"/><polygon points="1466.3,241.7 1476.56,235.63 1477.83,244.74" fill="#3f97a3"/></g></g>
<g filter="url(#b1)" opacity="0.8"><g><line x1="1596.5" y1="221.7" x2="1638.29" y2="215.96" stroke="#f2c318" stroke-width="3"/><polygon points="1648.2,214.6 1637.93,220.65 1636.68,211.54" fill="#f2c318"/></g><g><line x1="1648.2" y1="214.6" x2="1606.41" y2="220.34" stroke="#f2c318" stroke-width="3"/><polygon points="1596.5,221.7 1606.77,215.65 1608.02,224.76" fill="#f2c318"/></g></g>
<text x="1502.5" y="266.8" font-size="24.8" fill="#217f8c">Λ<tspan font-size="15.2" dy="7.6" dx="0.3">1</tspan></text>
<text x="1635.8" y="252.4" font-size="24.8" fill="#e0ae00">Λ<tspan font-size="15.2" dy="7.6" dx="0.3">2</tspan></text>
<text x="1781.4" y="70.6" font-size="24.8" fill="#8c44cc">3<tspan class="om" font-size="26.5">ω</tspan></text>
<text x="1781.4" y="113" font-size="24.8" fill="#00b050">2<tspan class="om" font-size="26.5">ω</tspan></text>
<text x="1782" y="155" font-size="26.5" fill="#ff5252" class="om">ω</text>
<text x="-1.5" y="564" font-size="42.5" font-weight="bold">c</text>
<g clip-path="url(#clipc)"><path d="M140.87 910.6 l5.6 5.6 l-5.6 5.6 l-5.6 -5.6 z" fill="#f4694c"/><path d="M176.93 902.5 l5.6 5.6 l-5.6 5.6 l-5.6 -5.6 z" fill="#f4694c"/><path d="M213 891.3 l5.6 5.6 l-5.6 5.6 l-5.6 -5.6 z" fill="#f4694c"/><path d="M249.06 878.8 l5.6 5.6 l-5.6 5.6 l-5.6 -5.6 z" fill="#f4694c"/><path d="M285.12 863.6 l5.6 5.6 l-5.6 5.6 l-5.6 -5.6 z" fill="#f4694c"/><path d="M321.19 842 l5.6 5.6 l-5.6 5.6 l-5.6 -5.6 z" fill="#f4694c"/><path d="M357.25 812.6 l5.6 5.6 l-5.6 5.6 l-5.6 -5.6 z" fill="#f4694c"/><path d="M393.32 764.6 l5.6 5.6 l-5.6 5.6 l-5.6 -5.6 z" fill="#f4694c"/><path d="M429.38 709.5 l5.6 5.6 l-5.6 5.6 l-5.6 -5.6 z" fill="#f4694c"/><path d="M465.45 658.8 l5.6 5.6 l-5.6 5.6 l-5.6 -5.6 z" fill="#f4694c"/><path d="M501.51 600.9 l5.6 5.6 l-5.6 5.6 l-5.6 -5.6 z" fill="#f4694c"/><path d="M140.87 915 l5.6 5.6 l-5.6 5.6 l-5.6 -5.6 z" fill="#fbb69d"/><path d="M176.93 909.3 l5.6 5.6 l-5.6 5.6 l-5.6 -5.6 z" fill="#fbb69d"/><path d="M213 904.9 l5.6 5.6 l-5.6 5.6 l-5.6 -5.6 z" fill="#fbb69d"/><path d="M249.06 897.4 l5.6 5.6 l-5.6 5.6 l-5.6 -5.6 z" fill="#fbb69d"/><path d="M285.12 882.6 l5.6 5.6 l-5.6 5.6 l-5.6 -5.6 z" fill="#fbb69d"/><path d="M321.19 861.6 l5.6 5.6 l-5.6 5.6 l-5.6 -5.6 z" fill="#fbb69d"/><path d="M357.25 841.3 l5.6 5.6 l-5.6 5.6 l-5.6 -5.6 z" fill="#fbb69d"/><path d="M393.32 814.3 l5.6 5.6 l-5.6 5.6 l-5.6 -5.6 z" fill="#fbb69d"/><path d="M429.38 778.4 l5.6 5.6 l-5.6 5.6 l-5.6 -5.6 z" fill="#fbb69d"/><path d="M465.45 746.7 l5.6 5.6 l-5.6 5.6 l-5.6 -5.6 z" fill="#fbb69d"/><path d="M501.51 703.7 l5.6 5.6 l-5.6 5.6 l-5.6 -5.6 z" fill="#fbb69d"/><path d="M140.87 916.9 l5.6 5.6 l-5.6 5.6 l-5.6 -5.6 z" fill="#dce9f5"/><path d="M176.93 914.9 l5.6 5.6 l-5.6 5.6 l-5.6 -5.6 z" fill="#dce9f5"/><path d="M213 909.9 l5.6 5.6 l-5.6 5.6 l-5.6 -5.6 z" fill="#dce9f5"/><path d="M249.06 904.2 l5.6 5.6 l-5.6 5.6 l-5.6 -5.6 z" fill="#dce9f5"/><path d="M285.12 897.1 l5.6 5.6 l-5.6 5.6 l-5.6 -5.6 z" fill="#dce9f5"/><path d="M321.19 887.3 l5.6 5.6 l-5.6 5.6 l-5.6 -5.6 z" fill="#dce9f5"/><path d="M357.25 876.5 l5.6 5.6 l-5.6 5.6 l-5.6 -5.6 z" fill="#dce9f5"/><path d="M393.32 860.6 l5.6 5.6 l-5.6 5.6 l-5.6 -5.6 z" fill="#dce9f5"/><path d="M429.38 845.7 l5.6 5.6 l-5.6 5.6 l-5.6 -5.6 z" fill="#dce9f5"/><path d="M465.45 829.8 l5.6 5.6 l-5.6 5.6 l-5.6 -5.6 z" fill="#dce9f5"/><path d="M501.51 807.2 l5.6 5.6 l-5.6 5.6 l-5.6 -5.6 z" fill="#dce9f5"/><path d="M140.87 917.4 l5.6 5.6 l-5.6 5.6 l-5.6 -5.6 z" fill="#6aaed6"/><path d="M176.93 915.9 l5.6 5.6 l-5.6 5.6 l-5.6 -5.6 z" fill="#6aaed6"/><path d="M213 914.4 l5.6 5.6 l-5.6 5.6 l-5.6 -5.6 z" fill="#6aaed6"/><path d="M249.06 912.3 l5.6 5.6 l-5.6 5.6 l-5.6 -5.6 z" fill="#6aaed6"/><path d="M285.12 908.9 l5.6 5.6 l-5.6 5.6 l-5.6 -5.6 z" fill="#6aaed6"/><path d="M321.19 905.9 l5.6 5.6 l-5.6 5.6 l-5.6 -5.6 z" fill="#6aaed6"/><path d="M357.25 903.2 l5.6 5.6 l-5.6 5.6 l-5.6 -5.6 z" fill="#6aaed6"/><path d="M393.32 899.1 l5.6 5.6 l-5.6 5.6 l-5.6 -5.6 z" fill="#6aaed6"/><path d="M429.38 895.1 l5.6 5.6 l-5.6 5.6 l-5.6 -5.6 z" fill="#6aaed6"/><path d="M465.45 885.6 l5.6 5.6 l-5.6 5.6 l-5.6 -5.6 z" fill="#6aaed6"/><path d="M501.51 874.1 l5.6 5.6 l-5.6 5.6 l-5.6 -5.6 z" fill="#6aaed6"/><path d="M104.8 917.4 l5.6 5.6 l-5.6 5.6 l-5.6 -5.6 z" fill="#2070b4"/><path d="M140.87 917.4 l5.6 5.6 l-5.6 5.6 l-5.6 -5.6 z" fill="#2070b4"/><path d="M176.93 917.4 l5.6 5.6 l-5.6 5.6 l-5.6 -5.6 z" fill="#2070b4"/><path d="M213 917 l5.6 5.6 l-5.6 5.6 l-5.6 -5.6 z" fill="#2070b4"/><path d="M249.06 916.7 l5.6 5.6 l-5.6 5.6 l-5.6 -5.6 z" fill="#2070b4"/><path d="M285.12 916.6 l5.6 5.6 l-5.6 5.6 l-5.6 -5.6 z" fill="#2070b4"/><path d="M321.19 916 l5.6 5.6 l-5.6 5.6 l-5.6 -5.6 z" fill="#2070b4"/><path d="M357.25 915 l5.6 5.6 l-5.6 5.6 l-5.6 -5.6 z" fill="#2070b4"/><path d="M393.32 914 l5.6 5.6 l-5.6 5.6 l-5.6 -5.6 z" fill="#2070b4"/><path d="M429.38 910.6 l5.6 5.6 l-5.6 5.6 l-5.6 -5.6 z" fill="#2070b4"/><path d="M465.45 906.6 l5.6 5.6 l-5.6 5.6 l-5.6 -5.6 z" fill="#2070b4"/><path d="M501.51 900.5 l5.6 5.6 l-5.6 5.6 l-5.6 -5.6 z" fill="#2070b4"/><polyline points="104.8,922.3 140.87,857 176.93,848.3 213,834.7 249.06,824.6 285.12,812.8 321.19,794.2 357.25,769.2 393.32,725.9 429.38,685.7 465.45,656.2 501.51,627.2" fill="none" stroke="#217f8c" stroke-width="1.7" stroke-dasharray="5.2 2.2"/><path d="M104.8 916.7 l5.6 5.6 l-5.6 5.6 l-5.6 -5.6 z" fill="#217f8c"/><path d="M140.87 851.4 l5.6 5.6 l-5.6 5.6 l-5.6 -5.6 z" fill="#217f8c"/><path d="M176.93 842.7 l5.6 5.6 l-5.6 5.6 l-5.6 -5.6 z" fill="#217f8c"/><path d="M213 829.1 l5.6 5.6 l-5.6 5.6 l-5.6 -5.6 z" fill="#217f8c"/><path d="M249.06 819 l5.6 5.6 l-5.6 5.6 l-5.6 -5.6 z" fill="#217f8c"/><path d="M285.12 807.2 l5.6 5.6 l-5.6 5.6 l-5.6 -5.6 z" fill="#217f8c"/><path d="M321.19 788.6 l5.6 5.6 l-5.6 5.6 l-5.6 -5.6 z" fill="#217f8c"/><path d="M357.25 763.6 l5.6 5.6 l-5.6 5.6 l-5.6 -5.6 z" fill="#217f8c"/><path d="M393.32 720.3 l5.6 5.6 l-5.6 5.6 l-5.6 -5.6 z" fill="#217f8c"/><path d="M429.38 680.1 l5.6 5.6 l-5.6 5.6 l-5.6 -5.6 z" fill="#217f8c"/><path d="M465.45 650.6 l5.6 5.6 l-5.6 5.6 l-5.6 -5.6 z" fill="#217f8c"/><path d="M501.51 621.6 l5.6 5.6 l-5.6 5.6 l-5.6 -5.6 z" fill="#217f8c"/></g>
<rect x="87.05" y="573.75" width="433.15" height="349.45" fill="none" stroke="#000" stroke-width="1.5"/>
<text x="73.9" y="930.9" font-size="24.8" text-anchor="end">0</text>
<text x="73.9" y="833.75" font-size="24.8" text-anchor="end">10</text>
<text x="73.9" y="736.6" font-size="24.8" text-anchor="end">20</text>
<text x="73.9" y="639.45" font-size="24.8" text-anchor="end">30</text>
<text x="533" y="924.6" font-size="24.8">0</text>
<text x="533" y="832.5" font-size="24.8">1</text>
<text x="533" y="732.1" font-size="24.8">2</text>
<text x="533" y="632.4" font-size="24.8">3</text>
<text x="104.8" y="954.6" font-size="24.8" text-anchor="middle">0</text>
<text x="176.93" y="954.6" font-size="24.8" text-anchor="middle">200</text>
<text x="249.06" y="954.6" font-size="24.8" text-anchor="middle">400</text>
<text x="321.19" y="954.6" font-size="24.8" text-anchor="middle">600</text>
<text x="393.32" y="954.6" font-size="24.8" text-anchor="middle">800</text>
<text x="465.45" y="954.6" font-size="24.8" text-anchor="middle">1000</text>
<path d="M87.05 826.05h7M87.05 728.9h7M87.05 631.75h7M520.2 823.2h-7M520.2 722.8h-7M520.2 623.1h-7M104.8 923.2v-7M176.93 923.2v-7M249.06 923.2v-7M321.19 923.2v-7M393.32 923.2v-7M465.45 923.2v-7" stroke="#000" stroke-width="1.5" fill="none"/>
<text x="303.9" y="994.6" font-size="24.8" text-anchor="middle" letter-spacing="0.4">Fundamental power (mW)</text>
<text x="0" y="0" font-size="24.8" text-anchor="middle" letter-spacing="0.18" transform="translate(19.8 748.3) rotate(-90)">SHG power (mW)</text>
<text x="0" y="0" font-size="24.8" text-anchor="middle" transform="translate(585.6 748.6) rotate(-90)">Efficiency (%)</text>
<rect x="141.2" y="593.8" width="81.8" height="130.2" fill="#fff" stroke="#000" stroke-width="2"/>
<path d="M142.2 714.2 L179.5 714 C181.5 714 182 712 182.4 706 L183.5 620 L183.9 614.5 L184.3 620 L185.4 706 C185.8 712 186.3 714 188.3 714 L222 714.2" fill="none" stroke="#3cb878" stroke-width="1.6" stroke-linejoin="round"/>
<path d="M183.7 724v-3" stroke="#000" stroke-width="0.8"/>
<text x="185" y="748.7" font-size="21.2" text-anchor="middle" letter-spacing="0.25">515 nm</text>
<path d="M279 592.8 l7.4 7.4 l-7.4 7.4 l-7.4 -7.4 z" fill="#f4694c"/>
<text x="300.8" y="607.7" font-size="21.2" letter-spacing="0.15">12 layers</text>
<path d="M279 626 l7.4 7.4 l-7.4 7.4 l-7.4 -7.4 z" fill="#fbb69d"/>
<text x="300.8" y="640.9" font-size="21.2" letter-spacing="0.15">8 layers</text>
<path d="M279 659.2 l7.4 7.4 l-7.4 7.4 l-7.4 -7.4 z" fill="#dce9f5"/>
<text x="300.8" y="674.1" font-size="21.2" letter-spacing="0.15">4 layers</text>
<path d="M279 692.4 l7.4 7.4 l-7.4 7.4 l-7.4 -7.4 z" fill="#6aaed6"/>
<text x="300.8" y="707.3" font-size="21.2" letter-spacing="0.15">2 layers</text>
<path d="M279 725.6 l7.4 7.4 l-7.4 7.4 l-7.4 -7.4 z" fill="#2070b4"/>
<text x="300.8" y="740.5" font-size="21.2" letter-spacing="0.15">1 layer</text>
<g><line x1="387" y1="745.8" x2="415" y2="745.8" stroke="#217f8c" stroke-width="3.6"/><polygon points="431,745.8 414,754.4 414,737.2" fill="#217f8c"/></g>
<g fill="url(#rb)"><path d="M263 846.2 l17 -8.6 v6.8 h27 v3.6 h-27 v6.8 z"/></g>
<text x="635.5" y="564" font-size="42.5" font-weight="bold">d</text>
<g clip-path="url(#clipd)"><path d="M785.95 914.4 l5.6 5.6 l-5.6 5.6 l-5.6 -5.6 z" fill="#9a10b4"/><path d="M816.7 908.2 l5.6 5.6 l-5.6 5.6 l-5.6 -5.6 z" fill="#9a10b4"/><path d="M847.45 900.4 l5.6 5.6 l-5.6 5.6 l-5.6 -5.6 z" fill="#9a10b4"/><path d="M878.2 892.1 l5.6 5.6 l-5.6 5.6 l-5.6 -5.6 z" fill="#9a10b4"/><path d="M908.95 883.6 l5.6 5.6 l-5.6 5.6 l-5.6 -5.6 z" fill="#9a10b4"/><path d="M939.7 868.5 l5.6 5.6 l-5.6 5.6 l-5.6 -5.6 z" fill="#9a10b4"/><path d="M970.45 857.6 l5.6 5.6 l-5.6 5.6 l-5.6 -5.6 z" fill="#9a10b4"/><path d="M1001.2 840.1 l5.6 5.6 l-5.6 5.6 l-5.6 -5.6 z" fill="#9a10b4"/><path d="M1031.95 813.4 l5.6 5.6 l-5.6 5.6 l-5.6 -5.6 z" fill="#9a10b4"/><path d="M1062.7 763.4 l5.6 5.6 l-5.6 5.6 l-5.6 -5.6 z" fill="#9a10b4"/><path d="M1093.45 703.8 l5.6 5.6 l-5.6 5.6 l-5.6 -5.6 z" fill="#9a10b4"/><path d="M1124.2 633.6 l5.6 5.6 l-5.6 5.6 l-5.6 -5.6 z" fill="#9a10b4"/><polyline points="755.2,923 785.95,893.3 816.7,865.9 847.45,850.5 878.2,843.6 908.95,838.5 939.7,821.4 970.45,815.9 1001.2,802.5 1031.95,778.6 1062.7,730.6 1093.45,679.9 1124.2,627.2" fill="none" stroke="#217f8c" stroke-width="1.7" stroke-dasharray="5.2 2.2"/><path d="M755.2 917.4 l5.6 5.6 l-5.6 5.6 l-5.6 -5.6 z" fill="#217f8c"/><path d="M785.95 887.7 l5.6 5.6 l-5.6 5.6 l-5.6 -5.6 z" fill="#217f8c"/><path d="M816.7 860.3 l5.6 5.6 l-5.6 5.6 l-5.6 -5.6 z" fill="#217f8c"/><path d="M847.45 844.9 l5.6 5.6 l-5.6 5.6 l-5.6 -5.6 z" fill="#217f8c"/><path d="M878.2 838 l5.6 5.6 l-5.6 5.6 l-5.6 -5.6 z" fill="#217f8c"/><path d="M908.95 832.9 l5.6 5.6 l-5.6 5.6 l-5.6 -5.6 z" fill="#217f8c"/><path d="M939.7 815.8 l5.6 5.6 l-5.6 5.6 l-5.6 -5.6 z" fill="#217f8c"/><path d="M970.45 810.3 l5.6 5.6 l-5.6 5.6 l-5.6 -5.6 z" fill="#217f8c"/><path d="M1001.2 796.9 l5.6 5.6 l-5.6 5.6 l-5.6 -5.6 z" fill="#217f8c"/><path d="M1031.95 773 l5.6 5.6 l-5.6 5.6 l-5.6 -5.6 z" fill="#217f8c"/><path d="M1062.7 725 l5.6 5.6 l-5.6 5.6 l-5.6 -5.6 z" fill="#217f8c"/><path d="M1093.45 674.3 l5.6 5.6 l-5.6 5.6 l-5.6 -5.6 z" fill="#217f8c"/><path d="M1124.2 621.6 l5.6 5.6 l-5.6 5.6 l-5.6 -5.6 z" fill="#217f8c"/></g>
<rect x="722.8" y="573.75" width="433.2" height="349.45" fill="none" stroke="#000" stroke-width="1.5"/>
<text x="710.8" y="930.8" font-size="24.8" text-anchor="end">0</text>
<text x="1168.6" y="930.8" font-size="24.8">0</text>
<text x="710.8" y="814" font-size="24.8" text-anchor="end">0.5</text>
<text x="1168.6" y="814" font-size="24.8">0.4</text>
<text x="710.8" y="697.8" font-size="24.8" text-anchor="end">1.0</text>
<text x="1168.6" y="697.8" font-size="24.8">0.8</text>
<text x="710.8" y="581.5" font-size="24.8" text-anchor="end">1.5</text>
<text x="1168.6" y="581.5" font-size="24.8">1.2</text>
<text x="755.2" y="955" font-size="24.8" text-anchor="middle">0</text>
<text x="847.45" y="955" font-size="24.8" text-anchor="middle">300</text>
<text x="939.7" y="955" font-size="24.8" text-anchor="middle">600</text>
<text x="1031.95" y="955" font-size="24.8" text-anchor="middle">900</text>
<text x="1124.2" y="955" font-size="24.8" text-anchor="middle">1200</text>
<path d="M722.8 923.2h7M1156 923.2h-7M722.8 806.4h7M1156 806.4h-7M722.8 690.2h7M1156 690.2h-7M722.8 573.9h7M1156 573.9h-7M755.2 923.2v-7M847.45 923.2v-7M939.7 923.2v-7M1031.95 923.2v-7M1124.2 923.2v-7" stroke="#000" stroke-width="1.5" fill="none"/>
<text x="939.9" y="994.8" font-size="24.8" text-anchor="middle" letter-spacing="0.4">Fundamental power (mW)</text>
<text x="0" y="0" font-size="24.8" text-anchor="middle" letter-spacing="0.28" transform="translate(648.6 748.5) rotate(-90)">THG power (mW)</text>
<text x="0" y="0" font-size="24.8" text-anchor="middle" letter-spacing="-0.25" transform="translate(1241 748.7) rotate(-90)">Efficiency (‰)</text>
<rect x="788" y="593.5" width="82.3" height="131" fill="#fff" stroke="#000" stroke-width="2"/>
<path d="M789 714.6 L824.5 714.4 C826.8 714.4 827.4 712 827.9 704 L829 622 L829.3 617.8 L829.8 622 L830.6 704 C830.9 712 831.3 714.4 833.3 714.4 L869.3 714.6" fill="none" stroke="#8a2be2" stroke-width="1.6" stroke-linejoin="round"/>
<path d="M829.2 724.5v-3" stroke="#000" stroke-width="0.8"/>
<text x="831" y="748.9" font-size="21.2" text-anchor="middle" letter-spacing="0.25">343.3 nm</text>
<g><line x1="1059" y1="748.4" x2="1087" y2="748.4" stroke="#217f8c" stroke-width="3.6"/><polygon points="1103,748.4 1086,757 1086,739.8" fill="#217f8c"/></g>
<g><line x1="988.2" y1="843.3" x2="960.3" y2="843.3" stroke="#9a10b4" stroke-width="3.6"/><polygon points="944.3,843.3 961.3,834.7 961.3,851.9" fill="#9a10b4"/></g>
<text x="1287.7" y="564" font-size="42.5" font-weight="bold">f</text>
<rect x="1304" y="565" width="621" height="382"/>
<text x="1322.6" y="606.6" font-size="24.8" fill="#fff">–3<tspan font-size="17.2" dy="8.2" dx="0.3">rd</tspan></text>
<text x="1416.4" y="606.6" font-size="24.8" fill="#fff">–2<tspan font-size="17.2" dy="8.2" dx="0.3">nd</tspan></text>
<text x="1517.3" y="606.6" font-size="24.8" fill="#fff">–1<tspan font-size="17.2" dy="8.2" dx="0.3">st</tspan></text>
<text x="1610.6" y="606.6" font-size="24.8" fill="#fff">0<tspan font-size="17.2" dy="8.2" dx="0.3">th</tspan></text>
<text x="1698" y="606.6" font-size="24.8" fill="#fff">1<tspan font-size="17.2" dy="8.2" dx="0.3">st</tspan></text>
<text x="1779" y="606.6" font-size="24.8" fill="#fff">2<tspan font-size="17.2" dy="8.2" dx="0.3">nd</tspan></text>
<text x="1872.6" y="606.6" font-size="24.8" fill="#fff">3<tspan font-size="17.2" dy="8.2" dx="0.3">rd</tspan></text>
<rect x="1745" y="618" width="92" height="90" fill="#2a0a48" opacity="0.13" filter="url(#b3)"/>
<circle cx="1348" cy="662" r="26" fill="none" stroke="#3a0e62" stroke-width="20" opacity="0.3" filter="url(#b6)"/>
<circle cx="1348" cy="753" r="26" fill="none" stroke="#0e4a0e" stroke-width="20" opacity="0.3" filter="url(#b6)"/>
<circle cx="1791" cy="757" r="26" fill="none" stroke="#0e4a0e" stroke-width="20" opacity="0.3" filter="url(#b6)"/>
<circle cx="1881" cy="757" r="26" fill="none" stroke="#0e4a0e" stroke-width="20" opacity="0.3" filter="url(#b6)"/>
<circle cx="1881" cy="666" r="26" fill="none" stroke="#3a0e62" stroke-width="20" opacity="0.3" filter="url(#b6)"/>
<g fill="#9a28ff" filter="url(#b2)"><ellipse cx="1375.62" cy="671.25" rx="9.9" ry="3.74" transform="rotate(18.65 1375.62 671.25)" opacity="0.36"/><ellipse cx="1369.45" cy="680.92" rx="9.9" ry="3.74" transform="rotate(41.68 1369.45 680.92)" opacity="0.46"/><ellipse cx="1354.37" cy="687.43" rx="9.9" ry="3.74" transform="rotate(76.36 1354.37 687.43)" opacity="0.44"/><ellipse cx="1340.73" cy="688.31" rx="9.9" ry="3.74" transform="rotate(105.85 1340.73 688.31)" opacity="0.37"/><ellipse cx="1329.62" cy="680.95" rx="9.9" ry="3.74" transform="rotate(134.45 1329.62 680.95)" opacity="0.46"/><ellipse cx="1319.79" cy="667.54" rx="9.9" ry="3.74" transform="rotate(168.96 1319.79 667.54)" opacity="0.43"/><ellipse cx="1323.04" cy="655.46" rx="9.9" ry="3.74" transform="rotate(194.56 1323.04 655.46)" opacity="0.36"/><ellipse cx="1328" cy="644.31" rx="9.9" ry="3.74" transform="rotate(221.22 1328 644.31)" opacity="0.4"/><ellipse cx="1340.31" cy="634.41" rx="9.9" ry="3.74" transform="rotate(254.04 1340.31 634.41)" opacity="0.43"/><ellipse cx="1355.1" cy="637.08" rx="9.9" ry="3.74" transform="rotate(285.48 1355.1 637.08)" opacity="0.35"/><ellipse cx="1365.74" cy="643.58" rx="9.9" ry="3.74" transform="rotate(313.6 1365.74 643.58)" opacity="0.43"/><ellipse cx="1375.44" cy="656.7" rx="9.9" ry="3.74" transform="rotate(348.99 1375.44 656.7)" opacity="0.38"/></g>
<g fill="#9a28ff" filter="url(#b2)"><ellipse cx="1458.57" cy="670.72" rx="6.16" ry="4.62" transform="rotate(20.4 1458.57 670.72)" opacity="0.58"/><ellipse cx="1446.09" cy="683.86" rx="6.16" ry="4.62" transform="rotate(68.33 1446.09 683.86)" opacity="0.52"/><ellipse cx="1430.4" cy="684.98" rx="6.16" ry="4.62" transform="rotate(108.61 1430.4 684.98)" opacity="0.56"/><ellipse cx="1416.21" cy="672.89" rx="6.16" ry="4.62" transform="rotate(155.37 1416.21 672.89)" opacity="0.61"/><ellipse cx="1417.97" cy="653.67" rx="6.16" ry="4.62" transform="rotate(205.19 1417.97 653.67)" opacity="0.64"/><ellipse cx="1428.2" cy="642.68" rx="6.16" ry="4.62" transform="rotate(244.7 1428.2 642.68)" opacity="0.69"/><ellipse cx="1446.61" cy="641.92" rx="6.16" ry="4.62" transform="rotate(292.69 1446.61 641.92)" opacity="0.65"/><ellipse cx="1458.39" cy="652.96" rx="6.16" ry="4.62" transform="rotate(334.01 1458.39 652.96)" opacity="0.63"/></g>
<g fill="#9a28ff" filter="url(#b2)"><ellipse cx="1537.88" cy="679.93" rx="8.02" ry="7.32" transform="rotate(132.89 1537.88 679.93)" opacity="0.82"/><ellipse cx="1512.3" cy="680.94" rx="8.02" ry="7.32" transform="rotate(222.24 1512.3 680.94)" opacity="0.82"/><ellipse cx="1510.92" cy="652.23" rx="8.02" ry="7.32" transform="rotate(318.34 1510.92 652.23)" opacity="0.93"/><ellipse cx="1537.82" cy="653.1" rx="8.02" ry="7.32" transform="rotate(402.78 1537.82 653.1)" opacity="0.78"/></g>
<g fill="#e0c0ff" filter="url(#b2)"><ellipse cx="1537.88" cy="679.93" rx="3.4" ry="3.1" transform="rotate(132.89 1537.88 679.93)" opacity="0.33"/><ellipse cx="1512.3" cy="680.94" rx="3.4" ry="3.1" transform="rotate(222.24 1512.3 680.94)" opacity="0.33"/><ellipse cx="1510.92" cy="652.23" rx="3.4" ry="3.1" transform="rotate(318.34 1510.92 652.23)" opacity="0.37"/><ellipse cx="1537.82" cy="653.1" rx="3.4" ry="3.1" transform="rotate(402.78 1537.82 653.1)" opacity="0.31"/></g>
<g fill="#9a28ff" filter="url(#b2)"><ellipse cx="1713.88" cy="682.09" rx="8.02" ry="7.32" transform="rotate(140.35 1713.88 682.09)" opacity="0.85"/><ellipse cx="1687.87" cy="678.74" rx="8.02" ry="7.32" transform="rotate(226.09 1687.87 678.74)" opacity="0.9"/><ellipse cx="1687.15" cy="651.26" rx="8.02" ry="7.32" transform="rotate(317.76 1687.15 651.26)" opacity="0.81"/><ellipse cx="1715.23" cy="654.26" rx="8.02" ry="7.32" transform="rotate(410.16 1715.23 654.26)" opacity="0.94"/></g>
<g fill="#e0c0ff" filter="url(#b2)"><ellipse cx="1713.88" cy="682.09" rx="3.4" ry="3.1" transform="rotate(140.35 1713.88 682.09)" opacity="0.34"/><ellipse cx="1687.87" cy="678.74" rx="3.4" ry="3.1" transform="rotate(226.09 1687.87 678.74)" opacity="0.36"/><ellipse cx="1687.15" cy="651.26" rx="3.4" ry="3.1" transform="rotate(317.76 1687.15 651.26)" opacity="0.32"/><ellipse cx="1715.23" cy="654.26" rx="3.4" ry="3.1" transform="rotate(410.16 1715.23 654.26)" opacity="0.38"/></g>
<g fill="#9a28ff" filter="url(#b2)"><ellipse cx="1814.64" cy="673.6" rx="7.26" ry="5.72" transform="rotate(21.09 1814.64 673.6)" opacity="0.76"/><ellipse cx="1802.95" cy="688.57" rx="7.26" ry="5.72" transform="rotate(64.08 1802.95 688.57)" opacity="0.69"/><ellipse cx="1782.68" cy="689.69" rx="7.26" ry="5.72" transform="rotate(108.96 1782.68 689.69)" opacity="0.6"/><ellipse cx="1768.59" cy="674.25" rx="7.26" ry="5.72" transform="rotate(156.97 1768.59 674.25)" opacity="0.62"/><ellipse cx="1765.43" cy="654.2" rx="7.26" ry="5.72" transform="rotate(201.9 1765.43 654.2)" opacity="0.63"/><ellipse cx="1779.99" cy="640.04" rx="7.26" ry="5.72" transform="rotate(245.29 1779.99 640.04)" opacity="0.84"/><ellipse cx="1801.53" cy="640.63" rx="7.26" ry="5.72" transform="rotate(293.12 1801.53 640.63)" opacity="0.84"/><ellipse cx="1816.46" cy="652.26" rx="7.26" ry="5.72" transform="rotate(333.87 1816.46 652.26)" opacity="0.67"/></g>
<g fill="#e0c0ff" filter="url(#b2)"><ellipse cx="1814.64" cy="673.6" rx="3.3" ry="2.6" transform="rotate(21.09 1814.64 673.6)" opacity="0.3"/><ellipse cx="1802.95" cy="688.57" rx="3.3" ry="2.6" transform="rotate(64.08 1802.95 688.57)" opacity="0.28"/><ellipse cx="1782.68" cy="689.69" rx="3.3" ry="2.6" transform="rotate(108.96 1782.68 689.69)" opacity="0.24"/><ellipse cx="1768.59" cy="674.25" rx="3.3" ry="2.6" transform="rotate(156.97 1768.59 674.25)" opacity="0.25"/><ellipse cx="1765.43" cy="654.2" rx="3.3" ry="2.6" transform="rotate(201.9 1765.43 654.2)" opacity="0.25"/><ellipse cx="1779.99" cy="640.04" rx="3.3" ry="2.6" transform="rotate(245.29 1779.99 640.04)" opacity="0.33"/><ellipse cx="1801.53" cy="640.63" rx="3.3" ry="2.6" transform="rotate(293.12 1801.53 640.63)" opacity="0.34"/><ellipse cx="1816.46" cy="652.26" rx="3.3" ry="2.6" transform="rotate(333.87 1816.46 652.26)" opacity="0.27"/></g>
<g fill="#9a28ff" filter="url(#b2)"><ellipse cx="1907.7" cy="672.37" rx="8.8" ry="3.08" transform="rotate(12.81 1907.7 672.37)" opacity="0.46"/><ellipse cx="1897.35" cy="683.61" rx="8.8" ry="3.08" transform="rotate(46.64 1897.35 683.61)" opacity="0.48"/><ellipse cx="1885.64" cy="690.17" rx="8.8" ry="3.08" transform="rotate(78.99 1885.64 690.17)" opacity="0.55"/><ellipse cx="1874.59" cy="690.78" rx="8.8" ry="3.08" transform="rotate(104.67 1874.59 690.78)" opacity="0.53"/><ellipse cx="1862.85" cy="686.08" rx="8.8" ry="3.08" transform="rotate(132.54 1862.85 686.08)" opacity="0.45"/><ellipse cx="1858.5" cy="673.23" rx="8.8" ry="3.08" transform="rotate(162.87 1858.5 673.23)" opacity="0.48"/><ellipse cx="1854.7" cy="659.61" rx="8.8" ry="3.08" transform="rotate(194.26 1854.7 659.61)" opacity="0.5"/><ellipse cx="1862.76" cy="649.93" rx="8.8" ry="3.08" transform="rotate(221.91 1862.76 649.93)" opacity="0.62"/><ellipse cx="1872.76" cy="641.65" rx="8.8" ry="3.08" transform="rotate(251.5 1872.76 641.65)" opacity="0.5"/><ellipse cx="1887.97" cy="642.46" rx="8.8" ry="3.08" transform="rotate(286.29 1887.97 642.46)" opacity="0.56"/><ellipse cx="1899.46" cy="647.83" rx="8.8" ry="3.08" transform="rotate(314.98 1899.46 647.83)" opacity="0.6"/><ellipse cx="1904.29" cy="660.34" rx="8.8" ry="3.08" transform="rotate(345.65 1904.29 660.34)" opacity="0.45"/></g>
<ellipse cx="1613.7" cy="665.5" rx="29.5" ry="31" fill="url(#z0)" filter="url(#b15)"/>
<g fill="#22e622" filter="url(#b2)"><ellipse cx="1372.84" cy="759.47" rx="8.8" ry="3.96" transform="rotate(14.7 1372.84 759.47)" opacity="0.31"/><ellipse cx="1364.24" cy="770.78" rx="8.8" ry="3.96" transform="rotate(47.93 1364.24 770.78)" opacity="0.36"/><ellipse cx="1353.17" cy="776.74" rx="8.8" ry="3.96" transform="rotate(78.19 1353.17 776.74)" opacity="0.36"/><ellipse cx="1341.59" cy="776.16" rx="8.8" ry="3.96" transform="rotate(105.93 1341.59 776.16)" opacity="0.34"/><ellipse cx="1329.45" cy="770.72" rx="8.8" ry="3.96" transform="rotate(136.63 1329.45 770.72)" opacity="0.39"/><ellipse cx="1324.47" cy="760.59" rx="8.8" ry="3.96" transform="rotate(162.26 1324.47 760.59)" opacity="0.31"/><ellipse cx="1321.39" cy="745.79" rx="8.8" ry="3.96" transform="rotate(195.05 1321.39 745.79)" opacity="0.37"/><ellipse cx="1330.86" cy="734.28" rx="8.8" ry="3.96" transform="rotate(227.19 1330.86 734.28)" opacity="0.39"/><ellipse cx="1340.36" cy="729.12" rx="8.8" ry="3.96" transform="rotate(251.81 1340.36 729.12)" opacity="0.38"/><ellipse cx="1355.62" cy="728.42" rx="8.8" ry="3.96" transform="rotate(286.81 1355.62 728.42)" opacity="0.31"/><ellipse cx="1365.15" cy="734.91" rx="8.8" ry="3.96" transform="rotate(313.13 1365.15 734.91)" opacity="0.33"/><ellipse cx="1372.36" cy="747.63" rx="8.8" ry="3.96" transform="rotate(347.48 1372.36 747.63)" opacity="0.41"/></g>
<g fill="#22e622" filter="url(#b2)"><ellipse cx="1457.81" cy="764.52" rx="5.5" ry="4.4" transform="rotate(23.07 1457.81 764.52)" opacity="0.8"/><ellipse cx="1447.51" cy="776.96" rx="5.5" ry="4.4" transform="rotate(65.15 1447.51 776.96)" opacity="0.87"/><ellipse cx="1429.43" cy="775.05" rx="5.5" ry="4.4" transform="rotate(113.73 1429.43 775.05)" opacity="0.79"/><ellipse cx="1418.49" cy="764.55" rx="5.5" ry="4.4" transform="rotate(156.12 1418.49 764.55)" opacity="0.91"/><ellipse cx="1419.54" cy="746.91" rx="5.5" ry="4.4" transform="rotate(206.47 1419.54 746.91)" opacity="0.88"/><ellipse cx="1429.83" cy="735.94" rx="5.5" ry="4.4" transform="rotate(248.33 1429.83 735.94)" opacity="0.72"/><ellipse cx="1446.65" cy="736.03" rx="5.5" ry="4.4" transform="rotate(293.9 1446.65 736.03)" opacity="0.83"/><ellipse cx="1457.11" cy="748.51" rx="5.5" ry="4.4" transform="rotate(338.79 1457.11 748.51)" opacity="0.86"/></g>
<g fill="#b0ffb0" filter="url(#b2)"><ellipse cx="1457.81" cy="764.52" rx="2.5" ry="2" transform="rotate(23.07 1457.81 764.52)" opacity="0.32"/><ellipse cx="1447.51" cy="776.96" rx="2.5" ry="2" transform="rotate(65.15 1447.51 776.96)" opacity="0.35"/><ellipse cx="1429.43" cy="775.05" rx="2.5" ry="2" transform="rotate(113.73 1429.43 775.05)" opacity="0.32"/><ellipse cx="1418.49" cy="764.55" rx="2.5" ry="2" transform="rotate(156.12 1418.49 764.55)" opacity="0.36"/><ellipse cx="1419.54" cy="746.91" rx="2.5" ry="2" transform="rotate(206.47 1419.54 746.91)" opacity="0.35"/><ellipse cx="1429.83" cy="735.94" rx="2.5" ry="2" transform="rotate(248.33 1429.83 735.94)" opacity="0.29"/><ellipse cx="1446.65" cy="736.03" rx="2.5" ry="2" transform="rotate(293.9 1446.65 736.03)" opacity="0.33"/><ellipse cx="1457.11" cy="748.51" rx="2.5" ry="2" transform="rotate(338.79 1457.11 748.51)" opacity="0.34"/></g>
<g fill="#22e622" filter="url(#b2)"><ellipse cx="1540.71" cy="771.43" rx="7.67" ry="6.61" transform="rotate(134.62 1540.71 771.43)" opacity="0.88"/><ellipse cx="1512.96" cy="771.47" rx="7.67" ry="6.61" transform="rotate(224.73 1512.96 771.47)" opacity="0.79"/><ellipse cx="1512.29" cy="744.41" rx="7.67" ry="6.61" transform="rotate(312.48 1512.29 744.41)" opacity="0.8"/><ellipse cx="1540.11" cy="745.24" rx="7.67" ry="6.61" transform="rotate(407.34 1540.11 745.24)" opacity="0.71"/></g>
<g fill="#b0ffb0" filter="url(#b2)"><ellipse cx="1540.71" cy="771.43" rx="3.25" ry="2.8" transform="rotate(134.62 1540.71 771.43)" opacity="0.35"/><ellipse cx="1512.96" cy="771.47" rx="3.25" ry="2.8" transform="rotate(224.73 1512.96 771.47)" opacity="0.32"/><ellipse cx="1512.29" cy="744.41" rx="3.25" ry="2.8" transform="rotate(312.48 1512.29 744.41)" opacity="0.32"/><ellipse cx="1540.11" cy="745.24" rx="3.25" ry="2.8" transform="rotate(407.34 1540.11 745.24)" opacity="0.28"/></g>
<g fill="#22e622" filter="url(#b2)"><ellipse cx="1718.19" cy="771.52" rx="7.67" ry="6.84" transform="rotate(133.07 1718.19 771.52)" opacity="0.86"/><ellipse cx="1689.37" cy="770.23" rx="7.67" ry="6.84" transform="rotate(227.79 1689.37 770.23)" opacity="0.73"/><ellipse cx="1689.27" cy="744.89" rx="7.67" ry="6.84" transform="rotate(312.18 1689.27 744.89)" opacity="0.87"/><ellipse cx="1716.63" cy="742.82" rx="7.67" ry="6.84" transform="rotate(402.04 1716.63 742.82)" opacity="0.73"/></g>
<g fill="#b0ffb0" filter="url(#b2)"><ellipse cx="1718.19" cy="771.52" rx="3.25" ry="2.9" transform="rotate(133.07 1718.19 771.52)" opacity="0.34"/><ellipse cx="1689.37" cy="770.23" rx="3.25" ry="2.9" transform="rotate(227.79 1689.37 770.23)" opacity="0.29"/><ellipse cx="1689.27" cy="744.89" rx="3.25" ry="2.9" transform="rotate(312.18 1689.27 744.89)" opacity="0.35"/><ellipse cx="1716.63" cy="742.82" rx="3.25" ry="2.9" transform="rotate(402.04 1716.63 742.82)" opacity="0.29"/></g>
<g fill="#22e622" filter="url(#b2)"><ellipse cx="1815.65" cy="766.15" rx="6.05" ry="4.62" transform="rotate(19.35 1815.65 766.15)" opacity="0.45"/><ellipse cx="1799.13" cy="780.38" rx="6.05" ry="4.62" transform="rotate(71.02 1799.13 780.38)" opacity="0.39"/><ellipse cx="1780.72" cy="780.95" rx="6.05" ry="4.62" transform="rotate(114.37 1780.72 780.95)" opacity="0.4"/><ellipse cx="1768.35" cy="766.42" rx="6.05" ry="4.62" transform="rotate(158.97 1768.35 766.42)" opacity="0.47"/><ellipse cx="1768.77" cy="749.65" rx="6.05" ry="4.62" transform="rotate(199.45 1768.77 749.65)" opacity="0.49"/><ellipse cx="1781.66" cy="735.58" rx="6.05" ry="4.62" transform="rotate(246.36 1781.66 735.58)" opacity="0.47"/><ellipse cx="1800.73" cy="735.97" rx="6.05" ry="4.62" transform="rotate(293.55 1800.73 735.97)" opacity="0.43"/><ellipse cx="1813.36" cy="749.05" rx="6.05" ry="4.62" transform="rotate(338.81 1813.36 749.05)" opacity="0.45"/></g>
<g fill="#22e622" filter="url(#b2)"><ellipse cx="1902.39" cy="764.85" rx="7.15" ry="3.3" transform="rotate(18.72 1902.39 764.85)" opacity="0.72"/><ellipse cx="1900.54" cy="775.36" rx="7.15" ry="3.3" transform="rotate(42.26 1900.54 775.36)" opacity="0.55"/><ellipse cx="1886.23" cy="782.26" rx="7.15" ry="3.3" transform="rotate(78.04 1886.23 782.26)" opacity="0.75"/><ellipse cx="1873.36" cy="779.8" rx="7.15" ry="3.3" transform="rotate(109 1873.36 779.8)" opacity="0.63"/><ellipse cx="1863.81" cy="773.82" rx="7.15" ry="3.3" transform="rotate(136.67 1863.81 773.82)" opacity="0.61"/><ellipse cx="1856.25" cy="765.25" rx="7.15" ry="3.3" transform="rotate(162.83 1856.25 765.25)" opacity="0.75"/><ellipse cx="1858.65" cy="750.61" rx="7.15" ry="3.3" transform="rotate(197.38 1858.65 750.61)" opacity="0.76"/><ellipse cx="1864.45" cy="740.99" rx="7.15" ry="3.3" transform="rotate(225.09 1864.45 740.99)" opacity="0.65"/><ellipse cx="1874.84" cy="735.6" rx="7.15" ry="3.3" transform="rotate(254.36 1874.84 735.6)" opacity="0.68"/><ellipse cx="1886.94" cy="733.55" rx="7.15" ry="3.3" transform="rotate(283.88 1886.94 733.55)" opacity="0.76"/><ellipse cx="1898.4" cy="740.89" rx="7.15" ry="3.3" transform="rotate(316.16 1898.4 740.89)" opacity="0.75"/><ellipse cx="1905.01" cy="752.92" rx="7.15" ry="3.3" transform="rotate(348.96 1905.01 752.92)" opacity="0.77"/></g>
<ellipse cx="1613.5" cy="756.5" rx="29.5" ry="28.5" fill="url(#z1)" filter="url(#b15)"/>
<g fill="#ff8080" filter="url(#b2)"><ellipse cx="1372.51" cy="855.86" rx="9.35" ry="3.96" transform="rotate(13.89 1372.51 855.86)" opacity="0.66"/><ellipse cx="1366" cy="866.95" rx="9.35" ry="3.96" transform="rotate(44.57 1366 866.95)" opacity="0.72"/><ellipse cx="1356.09" cy="873.94" rx="9.35" ry="3.96" transform="rotate(73.07 1356.09 873.94)" opacity="0.56"/><ellipse cx="1343.27" cy="873.2" rx="9.35" ry="3.96" transform="rotate(103.42 1343.27 873.2)" opacity="0.59"/><ellipse cx="1331.44" cy="866.22" rx="9.35" ry="3.96" transform="rotate(136.95 1331.44 866.22)" opacity="0.75"/><ellipse cx="1325.73" cy="854.63" rx="9.35" ry="3.96" transform="rotate(168.65 1325.73 854.63)" opacity="0.77"/><ellipse cx="1324.8" cy="842.45" rx="9.35" ry="3.96" transform="rotate(197.46 1324.8 842.45)" opacity="0.57"/><ellipse cx="1331.02" cy="832.43" rx="9.35" ry="3.96" transform="rotate(224.65 1331.02 832.43)" opacity="0.63"/><ellipse cx="1341.77" cy="827.31" rx="9.35" ry="3.96" transform="rotate(252.79 1341.77 827.31)" opacity="0.62"/><ellipse cx="1355.91" cy="827.18" rx="9.35" ry="3.96" transform="rotate(287.3 1355.91 827.18)" opacity="0.66"/><ellipse cx="1367.73" cy="831.81" rx="9.35" ry="3.96" transform="rotate(316.14 1367.73 831.81)" opacity="0.63"/><ellipse cx="1373.77" cy="841.57" rx="9.35" ry="3.96" transform="rotate(341.35 1373.77 841.57)" opacity="0.76"/></g>
<g fill="#ffd8d8" filter="url(#b2)"><ellipse cx="1372.51" cy="855.86" rx="5.1" ry="2.16" transform="rotate(13.89 1372.51 855.86)" opacity="0.4"/><ellipse cx="1366" cy="866.95" rx="5.1" ry="2.16" transform="rotate(44.57 1366 866.95)" opacity="0.43"/><ellipse cx="1356.09" cy="873.94" rx="5.1" ry="2.16" transform="rotate(73.07 1356.09 873.94)" opacity="0.34"/><ellipse cx="1343.27" cy="873.2" rx="5.1" ry="2.16" transform="rotate(103.42 1343.27 873.2)" opacity="0.36"/><ellipse cx="1331.44" cy="866.22" rx="5.1" ry="2.16" transform="rotate(136.95 1331.44 866.22)" opacity="0.45"/><ellipse cx="1325.73" cy="854.63" rx="5.1" ry="2.16" transform="rotate(168.65 1325.73 854.63)" opacity="0.46"/><ellipse cx="1324.8" cy="842.45" rx="5.1" ry="2.16" transform="rotate(197.46 1324.8 842.45)" opacity="0.34"/><ellipse cx="1331.02" cy="832.43" rx="5.1" ry="2.16" transform="rotate(224.65 1331.02 832.43)" opacity="0.38"/><ellipse cx="1341.77" cy="827.31" rx="5.1" ry="2.16" transform="rotate(252.79 1341.77 827.31)" opacity="0.37"/><ellipse cx="1355.91" cy="827.18" rx="5.1" ry="2.16" transform="rotate(287.3 1355.91 827.18)" opacity="0.4"/><ellipse cx="1367.73" cy="831.81" rx="5.1" ry="2.16" transform="rotate(316.14 1367.73 831.81)" opacity="0.38"/><ellipse cx="1373.77" cy="841.57" rx="5.1" ry="2.16" transform="rotate(341.35 1373.77 841.57)" opacity="0.46"/></g>
<g fill="#ff8080" filter="url(#b2)"><ellipse cx="1462.84" cy="860.92" rx="7.7" ry="4.73" transform="rotate(22.68 1462.84 860.92)" opacity="0.91"/><ellipse cx="1448.23" cy="875.68" rx="7.7" ry="4.73" transform="rotate(65.82 1448.23 875.68)" opacity="0.84"/><ellipse cx="1426.49" cy="873.16" rx="7.7" ry="4.73" transform="rotate(113.79 1426.49 873.16)" opacity="0.65"/><ellipse cx="1410.95" cy="861.16" rx="7.7" ry="4.73" transform="rotate(156.57 1410.95 861.16)" opacity="0.71"/><ellipse cx="1412.49" cy="839.96" rx="7.7" ry="4.73" transform="rotate(202.51 1412.49 839.96)" opacity="0.88"/><ellipse cx="1428.08" cy="824.86" rx="7.7" ry="4.73" transform="rotate(251.06 1428.08 824.86)" opacity="0.92"/><ellipse cx="1445.93" cy="823.19" rx="7.7" ry="4.73" transform="rotate(289 1445.93 823.19)" opacity="0.89"/><ellipse cx="1461.91" cy="838.09" rx="7.7" ry="4.73" transform="rotate(334.71 1461.91 838.09)" opacity="0.8"/></g>
<g fill="#ffd8d8" filter="url(#b2)"><ellipse cx="1462.84" cy="860.92" rx="4.2" ry="2.58" transform="rotate(22.68 1462.84 860.92)" opacity="0.55"/><ellipse cx="1448.23" cy="875.68" rx="4.2" ry="2.58" transform="rotate(65.82 1448.23 875.68)" opacity="0.5"/><ellipse cx="1426.49" cy="873.16" rx="4.2" ry="2.58" transform="rotate(113.79 1426.49 873.16)" opacity="0.39"/><ellipse cx="1410.95" cy="861.16" rx="4.2" ry="2.58" transform="rotate(156.57 1410.95 861.16)" opacity="0.43"/><ellipse cx="1412.49" cy="839.96" rx="4.2" ry="2.58" transform="rotate(202.51 1412.49 839.96)" opacity="0.53"/><ellipse cx="1428.08" cy="824.86" rx="4.2" ry="2.58" transform="rotate(251.06 1428.08 824.86)" opacity="0.55"/><ellipse cx="1445.93" cy="823.19" rx="4.2" ry="2.58" transform="rotate(289 1445.93 823.19)" opacity="0.53"/><ellipse cx="1461.91" cy="838.09" rx="4.2" ry="2.58" transform="rotate(334.71 1461.91 838.09)" opacity="0.48"/></g>
<g fill="#ff8080" filter="url(#b2)"><ellipse cx="1538.03" cy="863.74" rx="9.44" ry="7.32" transform="rotate(135.45 1538.03 863.74)" opacity="0.8"/><ellipse cx="1511.09" cy="863.14" rx="9.44" ry="7.32" transform="rotate(225.58 1511.09 863.14)" opacity="0.85"/><ellipse cx="1511.97" cy="836.16" rx="9.44" ry="7.32" transform="rotate(317.84 1511.97 836.16)" opacity="0.78"/><ellipse cx="1538.45" cy="836.55" rx="9.44" ry="7.32" transform="rotate(406.03 1538.45 836.55)" opacity="0.8"/></g>
<g fill="#ffd8d8" filter="url(#b2)"><ellipse cx="1538.03" cy="863.74" rx="4.8" ry="3.72" transform="rotate(135.45 1538.03 863.74)" opacity="0.48"/><ellipse cx="1511.09" cy="863.14" rx="4.8" ry="3.72" transform="rotate(225.58 1511.09 863.14)" opacity="0.51"/><ellipse cx="1511.97" cy="836.16" rx="4.8" ry="3.72" transform="rotate(317.84 1511.97 836.16)" opacity="0.47"/><ellipse cx="1538.45" cy="836.55" rx="4.8" ry="3.72" transform="rotate(406.03 1538.45 836.55)" opacity="0.48"/></g>
<g fill="#ff8080" filter="url(#b2)"><ellipse cx="1715.02" cy="861.91" rx="8.85" ry="7.32" transform="rotate(138.25 1715.02 861.91)" opacity="0.93"/><ellipse cx="1691.45" cy="859.76" rx="8.85" ry="7.32" transform="rotate(228.24 1691.45 859.76)" opacity="0.89"/><ellipse cx="1691.64" cy="835.72" rx="8.85" ry="7.32" transform="rotate(318.24 1691.64 835.72)" opacity="0.87"/><ellipse cx="1714.66" cy="836.76" rx="8.85" ry="7.32" transform="rotate(402.36 1714.66 836.76)" opacity="1"/></g>
<g fill="#ffd8d8" filter="url(#b2)"><ellipse cx="1715.02" cy="861.91" rx="4.5" ry="3.72" transform="rotate(138.25 1715.02 861.91)" opacity="0.56"/><ellipse cx="1691.45" cy="859.76" rx="4.5" ry="3.72" transform="rotate(228.24 1691.45 859.76)" opacity="0.53"/><ellipse cx="1691.64" cy="835.72" rx="4.5" ry="3.72" transform="rotate(318.24 1691.64 835.72)" opacity="0.52"/><ellipse cx="1714.66" cy="836.76" rx="4.5" ry="3.72" transform="rotate(402.36 1714.66 836.76)" opacity="0.6"/></g>
<g fill="#ff8080" filter="url(#b2)"><ellipse cx="1819.51" cy="860.13" rx="8.36" ry="5.5" transform="rotate(19.82 1819.51 860.13)" opacity="0.8"/><ellipse cx="1802.07" cy="875.54" rx="8.36" ry="5.5" transform="rotate(67.33 1802.07 875.54)" opacity="0.84"/><ellipse cx="1779.14" cy="876.34" rx="8.36" ry="5.5" transform="rotate(114.96 1779.14 876.34)" opacity="0.77"/><ellipse cx="1767.13" cy="861.12" rx="8.36" ry="5.5" transform="rotate(155.39 1767.13 861.12)" opacity="0.73"/><ellipse cx="1766.58" cy="839.37" rx="8.36" ry="5.5" transform="rotate(203.18 1766.58 839.37)" opacity="0.84"/><ellipse cx="1779.83" cy="824.77" rx="8.36" ry="5.5" transform="rotate(245.36 1779.83 824.77)" opacity="0.64"/><ellipse cx="1804.82" cy="823.05" rx="8.36" ry="5.5" transform="rotate(296.48 1804.82 823.05)" opacity="0.87"/><ellipse cx="1816.36" cy="840.13" rx="8.36" ry="5.5" transform="rotate(338.43 1816.36 840.13)" opacity="0.72"/></g>
<g fill="#ffd8d8" filter="url(#b2)"><ellipse cx="1819.51" cy="860.13" rx="4.56" ry="3" transform="rotate(19.82 1819.51 860.13)" opacity="0.48"/><ellipse cx="1802.07" cy="875.54" rx="4.56" ry="3" transform="rotate(67.33 1802.07 875.54)" opacity="0.51"/><ellipse cx="1779.14" cy="876.34" rx="4.56" ry="3" transform="rotate(114.96 1779.14 876.34)" opacity="0.46"/><ellipse cx="1767.13" cy="861.12" rx="4.56" ry="3" transform="rotate(155.39 1767.13 861.12)" opacity="0.44"/><ellipse cx="1766.58" cy="839.37" rx="4.56" ry="3" transform="rotate(203.18 1766.58 839.37)" opacity="0.51"/><ellipse cx="1779.83" cy="824.77" rx="4.56" ry="3" transform="rotate(245.36 1779.83 824.77)" opacity="0.38"/><ellipse cx="1804.82" cy="823.05" rx="4.56" ry="3" transform="rotate(296.48 1804.82 823.05)" opacity="0.52"/><ellipse cx="1816.36" cy="840.13" rx="4.56" ry="3" transform="rotate(338.43 1816.36 840.13)" opacity="0.43"/></g>
<g fill="#ff8080" filter="url(#b2)"><ellipse cx="1903.31" cy="858.14" rx="8.25" ry="3.52" transform="rotate(18.67 1903.31 858.14)" opacity="0.65"/><ellipse cx="1896.02" cy="869.34" rx="8.25" ry="3.52" transform="rotate(48.99 1896.02 869.34)" opacity="0.68"/><ellipse cx="1885.48" cy="875.57" rx="8.25" ry="3.52" transform="rotate(76.21 1885.48 875.57)" opacity="0.89"/><ellipse cx="1872.75" cy="878.26" rx="8.25" ry="3.52" transform="rotate(102.85 1872.75 878.26)" opacity="0.73"/><ellipse cx="1858.5" cy="870.12" rx="8.25" ry="3.52" transform="rotate(135.81 1858.5 870.12)" opacity="0.83"/><ellipse cx="1851.87" cy="855.61" rx="8.25" ry="3.52" transform="rotate(168.39 1851.87 855.61)" opacity="0.66"/><ellipse cx="1853.16" cy="841.51" rx="8.25" ry="3.52" transform="rotate(198.05 1853.16 841.51)" opacity="0.73"/><ellipse cx="1858.19" cy="830.73" rx="8.25" ry="3.52" transform="rotate(222.52 1858.19 830.73)" opacity="0.8"/><ellipse cx="1873.58" cy="822.38" rx="8.25" ry="3.52" transform="rotate(258.5 1873.58 822.38)" opacity="0.91"/><ellipse cx="1886.66" cy="823.16" rx="8.25" ry="3.52" transform="rotate(285.53 1886.66 823.16)" opacity="0.81"/><ellipse cx="1898.98" cy="828.83" rx="8.25" ry="3.52" transform="rotate(313.07 1898.98 828.83)" opacity="0.73"/><ellipse cx="1907.45" cy="843.61" rx="8.25" ry="3.52" transform="rotate(347.25 1907.45 843.61)" opacity="0.82"/></g>
<g fill="#ffd8d8" filter="url(#b2)"><ellipse cx="1903.31" cy="858.14" rx="4.5" ry="1.92" transform="rotate(18.67 1903.31 858.14)" opacity="0.39"/><ellipse cx="1896.02" cy="869.34" rx="4.5" ry="1.92" transform="rotate(48.99 1896.02 869.34)" opacity="0.41"/><ellipse cx="1885.48" cy="875.57" rx="4.5" ry="1.92" transform="rotate(76.21 1885.48 875.57)" opacity="0.53"/><ellipse cx="1872.75" cy="878.26" rx="4.5" ry="1.92" transform="rotate(102.85 1872.75 878.26)" opacity="0.44"/><ellipse cx="1858.5" cy="870.12" rx="4.5" ry="1.92" transform="rotate(135.81 1858.5 870.12)" opacity="0.5"/><ellipse cx="1851.87" cy="855.61" rx="4.5" ry="1.92" transform="rotate(168.39 1851.87 855.61)" opacity="0.39"/><ellipse cx="1853.16" cy="841.51" rx="4.5" ry="1.92" transform="rotate(198.05 1853.16 841.51)" opacity="0.44"/><ellipse cx="1858.19" cy="830.73" rx="4.5" ry="1.92" transform="rotate(222.52 1858.19 830.73)" opacity="0.48"/><ellipse cx="1873.58" cy="822.38" rx="4.5" ry="1.92" transform="rotate(258.5 1873.58 822.38)" opacity="0.55"/><ellipse cx="1886.66" cy="823.16" rx="4.5" ry="1.92" transform="rotate(285.53 1886.66 823.16)" opacity="0.49"/><ellipse cx="1898.98" cy="828.83" rx="4.5" ry="1.92" transform="rotate(313.07 1898.98 828.83)" opacity="0.44"/><ellipse cx="1907.45" cy="843.61" rx="4.5" ry="1.92" transform="rotate(347.25 1907.45 843.61)" opacity="0.49"/></g>
<ellipse cx="1613" cy="850" rx="29.5" ry="31" fill="url(#z2)" filter="url(#b15)"/>
<text x="-1.5" y="1089" font-size="42.5" font-weight="bold">g</text>
<path d="M164.4 1082.8C162 1110.67 155.15 1188.97 150 1250C144.85 1311.03 136.25 1415.83 133.5 1449M199.9 1082.8C197.25 1110.67 189.63 1188.97 184 1250C178.37 1311.03 169.08 1415.83 166.1 1449M239.8 1082.8C236.83 1110.67 228.2 1188.97 222 1250C215.8 1311.03 205.83 1415.83 202.6 1449M282.3 1083.2C280.92 1096 277.88 1132.87 274 1160C270.12 1187.13 263.5 1216 259 1246C254.5 1276 250.03 1306.17 247 1340C243.97 1373.83 241.83 1430.83 240.8 1449M293.5 1254C292 1257.5 286.25 1260.67 284.5 1275C282.75 1289.33 283.25 1311 283 1340C282.75 1369 283 1430.83 283 1449M306.5 1262C308 1266.33 313.45 1269.67 315.5 1288C317.55 1306.33 317.97 1345.17 318.8 1372C319.63 1398.83 320.22 1436.17 320.5 1449M321.5 1083.2C322.25 1096 323.75 1136.2 326 1160C328.25 1183.8 331.5 1204.5 335 1226C338.5 1247.5 343.33 1264.67 347 1289C350.67 1313.33 354.5 1345.33 357 1372C359.5 1398.67 361.17 1436.17 362 1449M363 1081.5C363.83 1092.92 365.75 1127.58 368 1150C370.25 1172.42 373.25 1192.83 376.5 1216C379.75 1239.17 383.92 1263 387.5 1289C391.08 1315 395.17 1345.33 398 1372C400.83 1398.67 403.42 1436.17 404.5 1449M407.8 1081.5C408.83 1094.58 411.55 1133.58 414 1160C416.45 1186.42 419.5 1210 422.5 1240C425.5 1270 429.08 1305.17 432 1340C434.92 1374.83 438.67 1430.83 440 1449M443.4 1080C444.33 1093.33 446.78 1133.33 449 1160C451.22 1186.67 454.2 1210 456.7 1240C459.2 1270 461.62 1305.17 464 1340C466.38 1374.83 469.83 1430.83 471 1449" fill="none" stroke="#1f6eb4" stroke-width="6.2" stroke-linecap="round" stroke-dasharray="5.8 12.4"/>
<path d="M117.9 1092.1L483.2 1123.7M117.9 1125.4C148.25 1127.83 239.12 1134.3 300 1140C360.88 1145.7 452.67 1156.33 483.2 1159.6M117.9 1161.6C136.45 1162.37 193.5 1162.67 229.2 1166.2C264.9 1169.73 289.77 1177.37 332.1 1182.8C374.43 1188.23 458.02 1196.13 483.2 1198.8M117.9 1200.4C136.45 1201.18 193.5 1201.5 229.2 1205.1C264.9 1208.7 303.88 1217.42 332.1 1222C360.32 1226.58 373.32 1229.33 398.5 1232.6C423.68 1235.87 469.08 1240.1 483.2 1241.6M117.9 1242.6C142.53 1242.6 235.53 1241.5 265.7 1242.6C295.87 1243.7 290.77 1246.6 298.9 1249.2C307.03 1251.8 311.9 1256.7 314.5 1258.2M117.9 1279.8C142.53 1279.25 237.2 1277.72 265.7 1276.5C294.2 1275.28 280.77 1275.33 288.9 1272.5C297.03 1269.67 310.23 1261.67 314.5 1259.5M117.9 1321.6C137 1320.33 196.8 1318.32 232.5 1314C268.2 1309.68 304.43 1300.4 332.1 1295.7C359.77 1291 373.32 1288.28 398.5 1285.8C423.68 1283.32 469.08 1281.63 483.2 1280.8M117.9 1364.8C137 1362.97 196.8 1358.12 232.5 1353.8C268.2 1349.48 290.32 1344.15 332.1 1338.9C373.88 1333.65 458.02 1325.07 483.2 1322.3M117.9 1400.4C148.25 1397.83 239.12 1390.55 300 1385C360.88 1379.45 452.67 1370.08 483.2 1367.1M117.9 1430.9C148.25 1428.67 239.12 1422.32 300 1417.5C360.88 1412.68 452.67 1404.58 483.2 1402" fill="none" stroke="#00b050" stroke-width="6.4" stroke-linecap="round" stroke-dasharray="5.7 12.5"/>
<rect x="720" y="1076" width="400.6" height="370.6" fill="#c9c9c9"/>
<rect x="770" y="1121" width="296" height="296" fill="#d8d8d8" filter="url(#b2)"/><g clip-path="url(#clipm)"><g filter="url(#b05)" fill="none" stroke="#6c6c6c" stroke-width="1.7" opacity="0.48"><path d="M746.44 1123.5L746.39 1130.5L746.33 1137.5L746.27 1144.5L746.21 1151.5L746.15 1158.5L746.08 1165.5L746.01 1172.5L745.94 1179.5L745.86 1186.5L745.79 1193.5L745.71 1200.5L745.63 1207.5L745.54 1214.5L745.46 1221.5L745.37 1228.5L745.28 1235.5L745.19 1242.5L745.1 1249.5L745.01 1256.5L744.92 1263.5L744.88 1266.49M758.74 1266.51L758.64 1273.51L758.54 1280.51L758.44 1287.51L758.34 1294.51L758.25 1301.51L758.16 1308.51L758.06 1315.51L757.98 1322.51L757.89 1329.51L757.81 1336.51L757.73 1343.51L757.65 1350.51L757.57 1357.51L757.5 1364.51L757.43 1371.51L757.37 1378.51L757.3 1385.51L757.24 1392.51L757.18 1399.51L757.13 1406.51L757.07 1413.51L757.07 1414.56M753.42 1123.5L753.36 1130.5L753.31 1137.5L753.25 1144.5L753.18 1151.5L753.12 1158.5L753.05 1165.5L752.98 1172.5L752.91 1179.5L752.83 1186.5L752.75 1193.5L752.67 1200.5L752.59 1207.5L752.5 1214.5L752.41 1221.5L752.32 1228.5L752.23 1235.5L752.14 1242.5L752.04 1249.5L751.95 1256.5L751.85 1263.5L751.81 1266.49M765.67 1266.51L765.56 1273.51L765.46 1280.51L765.36 1287.51L765.26 1294.51L765.16 1301.51L765.06 1308.51L764.97 1315.51L764.87 1322.51L764.78 1329.51L764.7 1336.51L764.62 1343.51L764.54 1350.51L764.46 1357.51L764.39 1364.51L764.32 1371.51L764.25 1378.51L764.18 1385.51L764.12 1392.51L764.06 1399.51L764.01 1406.51L763.96 1413.51L763.95 1414.56M760.4 1123.5L760.34 1130.5L760.29 1137.5L760.22 1144.5L760.16 1151.5L760.09 1158.5L760.03 1165.5L759.95 1172.5L759.88 1179.5L759.8 1186.5L759.72 1193.5L759.64 1200.5L759.55 1207.5L759.46 1214.5L759.37 1221.5L759.27 1228.5L759.18 1235.5L759.08 1242.5L758.98 1249.5L758.88 1256.5L758.78 1263.5L758.74 1266.49M772.6 1266.51L772.49 1273.51L772.38 1280.51L772.27 1287.51L772.17 1294.51L772.06 1301.51L771.96 1308.51L771.86 1315.51L771.77 1322.51L771.68 1329.51L771.59 1336.51L771.5 1343.51L771.42 1350.51L771.34 1357.51L771.27 1364.51L771.2 1371.51L771.13 1378.51L771.06 1385.51L771 1392.51L770.94 1399.51L770.89 1406.51L770.83 1413.51L770.83 1414.56M767.38 1123.5L767.32 1130.5L767.27 1137.5L767.2 1144.5L767.14 1151.5L767.07 1158.5L767 1165.5L766.93 1172.5L766.85 1179.5L766.77 1186.5L766.69 1193.5L766.6 1200.5L766.51 1207.5L766.42 1214.5L766.33 1221.5L766.23 1228.5L766.13 1235.5L766.03 1242.5L765.92 1249.5L765.82 1256.5L765.72 1263.5L765.67 1266.49M779.53 1266.51L779.41 1273.51L779.3 1280.51L779.19 1287.51L779.08 1294.51L778.97 1301.51L778.86 1308.51L778.76 1315.51L778.66 1322.51L778.56 1329.51L778.47 1336.51L778.39 1343.51L778.3 1350.51L778.22 1357.51L778.15 1364.51L778.07 1371.51L778 1378.51L777.94 1385.51L777.88 1392.51L777.82 1399.51L777.76 1406.51L777.71 1413.51L777.7 1414.56M774.36 1123.5L774.31 1130.5L774.25 1137.5L774.19 1144.5L774.12 1151.5L774.06 1158.5L773.98 1165.5L773.91 1172.5L773.83 1179.5L773.75 1186.5L773.66 1193.5L773.57 1200.5L773.48 1207.5L773.39 1214.5L773.29 1221.5L773.19 1228.5L773.08 1235.5L772.97 1242.5L772.87 1249.5L772.76 1256.5L772.65 1263.5L772.6 1266.49M786.46 1266.51L786.34 1273.51L786.22 1280.51L786.1 1287.51L785.98 1294.51L785.87 1301.51L785.76 1308.51L785.65 1315.51L785.55 1322.51L785.45 1329.51L785.36 1336.51L785.27 1343.51L785.18 1350.51L785.1 1357.51L785.02 1364.51L784.95 1371.51L784.88 1378.51L784.81 1385.51L784.75 1392.51L784.69 1399.51L784.63 1406.51L784.58 1413.51L784.57 1414.56M781.35 1123.5L781.3 1130.5L781.24 1137.5L781.17 1144.5L781.11 1151.5L781.04 1158.5L780.97 1165.5L780.89 1172.5L780.81 1179.5L780.73 1186.5L780.64 1193.5L780.55 1200.5L780.45 1207.5L780.35 1214.5L780.25 1221.5L780.14 1228.5L780.04 1235.5L779.92 1242.5L779.81 1249.5L779.7 1256.5L779.58 1263.5L779.53 1266.49M793.39 1266.51L793.26 1273.51L793.13 1280.51L793.01 1287.51L792.89 1294.51L792.77 1301.51L792.65 1308.51L792.54 1315.51L792.43 1322.51L792.33 1329.51L792.23 1336.51L792.14 1343.51L792.05 1350.51L791.97 1357.51L791.89 1364.51L791.82 1371.51L791.75 1378.51L791.68 1385.51L791.62 1392.51L791.56 1399.51L791.5 1406.51L791.45 1413.51L791.44 1414.56M788.34 1123.5L788.28 1130.5L788.23 1137.5L788.16 1144.5L788.1 1151.5L788.03 1158.5L787.96 1165.5L787.88 1172.5L787.8 1179.5L787.71 1186.5L787.62 1193.5L787.53 1200.5L787.43 1207.5L787.32 1214.5L787.22 1221.5L787.11 1228.5L786.99 1235.5L786.87 1242.5L786.76 1249.5L786.64 1256.5L786.51 1263.5L786.46 1266.49M800.32 1266.51L800.18 1273.51L800.05 1280.51L799.91 1287.51L799.79 1294.51L799.66 1301.51L799.54 1308.51L799.42 1315.51L799.31 1322.51L799.21 1329.51L799.11 1336.51L799.01 1343.51L798.92 1350.51L798.84 1357.51L798.76 1364.51L798.68 1371.51L798.61 1378.51L798.55 1385.51L798.49 1392.51L798.43 1399.51L798.37 1406.51L798.32 1413.51L798.31 1414.56M795.33 1123.5L795.28 1130.5L795.22 1137.5L795.16 1144.5L795.09 1151.5L795.02 1158.5L794.95 1165.5L794.87 1172.5L794.79 1179.5L794.7 1186.5L794.61 1193.5L794.51 1200.5L794.41 1207.5L794.3 1214.5L794.19 1221.5L794.07 1228.5L793.95 1235.5L793.83 1242.5L793.7 1249.5L793.58 1256.5L793.45 1263.5L793.39 1266.49M807.25 1266.51L807.1 1273.51L806.96 1280.51L806.82 1287.51L806.68 1294.51L806.55 1301.51L806.42 1308.51L806.3 1315.51L806.19 1322.51L806.08 1329.51L805.98 1336.51L805.88 1343.51L805.79 1350.51L805.7 1357.51L805.62 1364.51L805.55 1371.51L805.48 1378.51L805.41 1385.51L805.35 1392.51L805.29 1399.51L805.24 1406.51L805.18 1413.51L805.18 1414.56M802.33 1123.5L802.27 1130.5L802.22 1137.5L802.15 1144.5L802.09 1151.5L802.02 1158.5L801.94 1165.5L801.87 1172.5L801.78 1179.5L801.69 1186.5L801.6 1193.5L801.5 1200.5L801.39 1207.5L801.28 1214.5L801.16 1221.5L801.04 1228.5L800.91 1235.5L800.78 1242.5L800.65 1249.5L800.52 1256.5L800.38 1263.5L800.32 1266.49M814.18 1266.51L814.02 1273.51L813.87 1280.51L813.72 1287.51L813.58 1294.51L813.44 1301.51L813.3 1308.51L813.18 1315.51L813.06 1322.51L812.94 1329.51L812.84 1336.51L812.74 1343.51L812.65 1350.51L812.56 1357.51L812.48 1364.51L812.4 1371.51L812.33 1378.51L812.27 1385.51L812.21 1392.51L812.15 1399.51L812.1 1406.51L812.05 1413.51L812.04 1414.56M809.33 1123.5L809.27 1130.5L809.22 1137.5L809.16 1144.5L809.09 1151.5L809.02 1158.5L808.95 1165.5L808.87 1172.5L808.78 1179.5L808.69 1186.5L808.59 1193.5L808.49 1200.5L808.38 1207.5L808.26 1214.5L808.14 1221.5L808.01 1228.5L807.88 1235.5L807.74 1242.5L807.6 1249.5L807.46 1256.5L807.31 1263.5L807.25 1266.49M821.11 1266.51L820.94 1273.51L820.78 1280.51L820.62 1287.51L820.46 1294.51L820.32 1301.51L820.18 1308.51L820.04 1315.51L819.92 1322.51L819.8 1329.51L819.69 1336.51L819.59 1343.51L819.5 1350.51L819.41 1357.51L819.33 1364.51L819.26 1371.51L819.19 1378.51L819.12 1385.51L819.06 1392.51L819.01 1399.51L818.95 1406.51L818.91 1413.51L818.9 1414.56M816.33 1123.5L816.28 1130.5L816.22 1137.5L816.16 1144.5L816.1 1151.5L816.03 1158.5L815.95 1165.5L815.87 1172.5L815.79 1179.5L815.69 1186.5L815.59 1193.5L815.49 1200.5L815.38 1207.5L815.26 1214.5L815.13 1221.5L814.99 1228.5L814.85 1235.5L814.71 1242.5L814.56 1249.5L814.4 1256.5L814.25 1263.5L814.18 1266.49M828.04 1266.51L827.86 1273.51L827.68 1280.51L827.51 1287.51L827.35 1294.51L827.19 1301.51L827.04 1308.51L826.9 1315.51L826.77 1322.51L826.65 1329.51L826.54 1336.51L826.44 1343.51L826.35 1350.51L826.26 1357.51L826.18 1364.51L826.11 1371.51L826.04 1378.51L825.97 1385.51L825.91 1392.51L825.86 1399.51L825.81 1406.51L825.76 1413.51L825.75 1414.56M823.34 1123.5L823.28 1130.5L823.23 1137.5L823.17 1144.5L823.11 1151.5L823.04 1158.5L822.96 1165.5L822.88 1172.5L822.8 1179.5L822.7 1186.5L822.6 1193.5L822.5 1200.5L822.38 1207.5L822.25 1214.5L822.12 1221.5L821.98 1228.5L821.83 1235.5L821.68 1242.5L821.51 1249.5L821.35 1256.5L821.18 1263.5L821.11 1266.49M834.97 1266.51L834.77 1273.51L834.58 1280.51L834.4 1287.51L834.22 1294.51L834.05 1301.51L833.9 1308.51L833.75 1315.51L833.62 1322.51L833.5 1329.51L833.38 1336.51L833.28 1343.51L833.19 1350.51L833.1 1357.51L833.02 1364.51L832.95 1371.51L832.88 1378.51L832.82 1385.51L832.76 1392.51L832.71 1399.51L832.66 1406.51L832.61 1413.51L832.61 1414.56M830.34 1123.5L830.3 1130.5L830.24 1137.5L830.18 1144.5L830.12 1151.5L830.06 1158.5L829.98 1165.5L829.9 1172.5L829.82 1179.5L829.72 1186.5L829.62 1193.5L829.51 1200.5L829.39 1207.5L829.26 1214.5L829.12 1221.5L828.97 1228.5L828.82 1235.5L828.65 1242.5L828.48 1249.5L828.3 1256.5L828.12 1263.5L828.04 1266.49M841.9 1266.51L841.68 1273.51L841.47 1280.51L841.27 1287.51L841.08 1294.51L840.91 1301.51L840.74 1308.51L840.59 1315.51L840.46 1322.51L840.33 1329.51L840.22 1336.51L840.11 1343.51L840.02 1350.51L839.93 1357.51L839.86 1364.51L839.78 1371.51L839.72 1378.51L839.66 1385.51L839.6 1392.51L839.55 1399.51L839.51 1406.51L839.46 1413.51L839.46 1414.56M837.36 1123.5L837.31 1130.5L837.26 1137.5L837.2 1144.5L837.14 1151.5L837.08 1158.5L837.01 1165.5L836.93 1172.5L836.84 1179.5L836.75 1186.5L836.65 1193.5L836.54 1200.5L836.41 1207.5L836.28 1214.5L836.13 1221.5L835.98 1228.5L835.81 1235.5L835.63 1242.5L835.44 1249.5L835.25 1256.5L835.06 1263.5L834.97 1266.49M848.83 1266.51L848.59 1273.51L848.36 1280.51L848.14 1287.51L847.94 1294.51L847.75 1301.51L847.58 1308.51L847.42 1315.51L847.28 1322.51L847.15 1329.51L847.04 1336.51L846.94 1343.51L846.84 1350.51L846.76 1357.51L846.68 1364.51L846.62 1371.51L846.55 1378.51L846.5 1385.51L846.44 1392.51L846.39 1399.51L846.35 1406.51L846.31 1413.51L846.3 1414.56M844.37 1123.5L844.33 1130.5L844.28 1137.5L844.23 1144.5L844.17 1151.5L844.11 1158.5L844.04 1165.5L843.96 1172.5L843.88 1179.5L843.79 1186.5L843.68 1193.5L843.57 1200.5L843.45 1207.5L843.31 1214.5L843.16 1221.5L842.99 1228.5L842.81 1235.5L842.62 1242.5L842.42 1249.5L842.21 1256.5L841.99 1263.5L841.9 1266.49M855.76 1266.51L855.49 1273.51L855.24 1280.51L855 1287.51L854.78 1294.51L854.58 1301.51L854.4 1308.51L854.23 1315.51L854.09 1322.51L853.96 1329.51L853.85 1336.51L853.75 1343.51L853.66 1350.51L853.58 1357.51L853.51 1364.51L853.44 1371.51L853.38 1378.51L853.33 1385.51L853.28 1392.51L853.23 1399.51L853.19 1406.51L853.15 1413.51L853.15 1414.56M851.39 1123.5L851.35 1130.5L851.31 1137.5L851.26 1144.5L851.2 1151.5L851.14 1158.5L851.08 1165.5L851 1172.5L850.92 1179.5L850.83 1186.5L850.73 1193.5L850.62 1200.5L850.49 1207.5L850.35 1214.5L850.19 1221.5L850.02 1228.5L849.83 1235.5L849.62 1242.5L849.4 1249.5L849.17 1256.5L848.93 1263.5L848.83 1266.49M862.69 1266.51L862.39 1273.51L862.1 1280.51L861.84 1287.51L861.6 1294.51L861.38 1301.51L861.2 1308.51L861.03 1315.51L860.89 1322.51L860.76 1329.51L860.65 1336.51L860.55 1343.51L860.47 1350.51L860.39 1357.51L860.32 1364.51L860.26 1371.51L860.2 1378.51L860.15 1385.51L860.11 1392.51L860.07 1399.51L860.03 1406.51L859.99 1413.51L859.99 1414.56M858.42 1123.5L858.38 1130.5L858.33 1137.5L858.29 1144.5L858.24 1151.5L858.18 1158.5L858.12 1165.5L858.05 1172.5L857.97 1179.5L857.89 1186.5L857.79 1193.5L857.68 1200.5L857.55 1207.5L857.41 1214.5L857.25 1221.5L857.07 1228.5L856.87 1235.5L856.64 1242.5L856.4 1249.5L856.14 1256.5L855.88 1263.5L855.76 1266.49M869.62 1266.51L869.27 1273.51L868.95 1280.51L868.65 1287.51L868.39 1294.51L868.17 1301.51L867.98 1308.51L867.81 1315.51L867.67 1322.51L867.54 1329.51L867.44 1336.51L867.35 1343.51L867.26 1350.51L867.19 1357.51L867.13 1364.51L867.07 1371.51L867.02 1378.51L866.98 1385.51L866.93 1392.51L866.9 1399.51L866.86 1406.51L866.83 1413.51L866.83 1414.56M865.44 1123.5L865.41 1130.5L865.37 1137.5L865.33 1144.5L865.28 1151.5L865.23 1158.5L865.17 1165.5L865.11 1172.5L865.04 1179.5L864.95 1186.5L864.86 1193.5L864.75 1200.5L864.63 1207.5L864.49 1214.5L864.33 1221.5L864.14 1228.5L863.92 1235.5L863.68 1242.5L863.41 1249.5L863.12 1256.5L862.82 1263.5L862.69 1266.49M876.55 1266.51L876.14 1273.51L875.76 1280.51L875.44 1287.51L875.16 1294.51L874.92 1301.51L874.73 1308.51L874.57 1315.51L874.43 1322.51L874.31 1329.51L874.21 1336.51L874.13 1343.51L874.05 1350.51L873.99 1357.51L873.93 1364.51L873.88 1371.51L873.83 1378.51L873.79 1385.51L873.76 1392.51L873.73 1399.51L873.7 1406.51L873.67 1413.51L873.66 1414.56M872.47 1123.5L872.44 1130.5L872.41 1137.5L872.37 1144.5L872.33 1151.5L872.28 1158.5L872.23 1165.5L872.17 1172.5L872.11 1179.5L872.03 1186.5L871.94 1193.5L871.84 1200.5L871.73 1207.5L871.59 1214.5L871.43 1221.5L871.24 1228.5L871.01 1235.5L870.75 1242.5L870.45 1249.5L870.12 1256.5L869.77 1263.5L869.62 1266.49M883.48 1266.51L882.98 1273.51L882.54 1280.51L882.18 1287.51L881.88 1294.51L881.64 1301.51L881.45 1308.51L881.3 1315.51L881.17 1322.51L881.06 1329.51L880.97 1336.51L880.9 1343.51L880.83 1350.51L880.78 1357.51L880.73 1364.51L880.68 1371.51L880.64 1378.51L880.61 1385.51L880.58 1392.51L880.55 1399.51L880.52 1406.51L880.5 1413.51L880.5 1414.56M879.5 1123.5L879.48 1130.5L879.45 1137.5L879.42 1144.5L879.38 1151.5L879.34 1158.5L879.3 1165.5L879.25 1172.5L879.19 1179.5L879.12 1186.5L879.04 1193.5L878.95 1200.5L878.85 1207.5L878.72 1214.5L878.56 1221.5L878.37 1228.5L878.14 1235.5L877.86 1242.5L877.53 1249.5L877.14 1256.5L876.73 1263.5L876.55 1266.49M890.41 1266.51L889.78 1273.51L889.25 1280.51L888.85 1287.51L888.55 1294.51L888.32 1301.51L888.14 1308.51L888 1315.51L887.89 1322.51L887.8 1329.51L887.72 1336.51L887.66 1343.51L887.6 1350.51L887.56 1357.51L887.52 1364.51L887.48 1371.51L887.45 1378.51L887.42 1385.51L887.39 1392.51L887.37 1399.51L887.35 1406.51L887.33 1413.51L887.33 1414.56M886.53 1123.5L886.51 1130.5L886.49 1137.5L886.47 1144.5L886.44 1151.5L886.4 1158.5L886.37 1165.5L886.33 1172.5L886.28 1179.5L886.22 1186.5L886.16 1193.5L886.08 1200.5L885.98 1207.5L885.87 1214.5L885.73 1221.5L885.55 1228.5L885.32 1235.5L885.03 1242.5L884.66 1249.5L884.21 1256.5L883.7 1263.5L883.48 1266.49M897.34 1266.51L896.48 1273.51L895.86 1280.51L895.44 1287.51L895.15 1294.51L894.95 1301.51L894.8 1308.51L894.68 1315.51L894.59 1322.51L894.52 1329.51L894.46 1336.51L894.41 1343.51L894.37 1350.51L894.33 1357.51L894.3 1364.51L894.27 1371.51L894.25 1378.51L894.23 1385.51L894.21 1392.51L894.19 1399.51L894.18 1406.51L894.16 1413.51L894.16 1414.56M893.57 1123.5L893.55 1130.5L893.54 1137.5L893.52 1144.5L893.5 1151.5L893.47 1158.5L893.44 1165.5L893.41 1172.5L893.37 1179.5L893.33 1186.5L893.28 1193.5L893.22 1200.5L893.14 1207.5L893.05 1214.5L892.93 1221.5L892.78 1228.5L892.57 1235.5L892.28 1242.5L891.88 1249.5L891.35 1256.5L890.7 1263.5L890.41 1266.49M904.27 1266.51L902.97 1273.51L902.29 1280.51L901.92 1287.51L901.69 1294.51L901.53 1301.51L901.42 1308.51L901.34 1315.51L901.28 1322.51L901.23 1329.51L901.19 1336.51L901.15 1343.51L901.13 1350.51L901.1 1357.51L901.08 1364.51L901.06 1371.51L901.05 1378.51L901.03 1385.51L901.02 1392.51L901.01 1399.51L901 1406.51L900.99 1413.51L900.99 1414.56M900.61 1123.5L900.6 1130.5L900.59 1137.5L900.57 1144.5L900.56 1151.5L900.54 1158.5L900.52 1165.5L900.5 1172.5L900.48 1179.5L900.45 1186.5L900.42 1193.5L900.37 1200.5L900.32 1207.5L900.26 1214.5L900.17 1221.5L900.06 1228.5L899.89 1235.5L899.65 1242.5L899.27 1249.5L898.65 1256.5L897.76 1263.5L897.34 1266.49M911.19 1266.51L908.99 1273.51L908.49 1280.51L908.27 1287.51L908.15 1294.51L908.07 1301.51L908.02 1308.51L907.98 1315.51L907.95 1322.51L907.93 1329.51L907.91 1336.51L907.89 1343.51L907.88 1350.51L907.87 1357.51L907.86 1364.51L907.85 1371.51L907.85 1378.51L907.84 1385.51L907.83 1392.51L907.83 1399.51L907.82 1406.51L907.82 1413.51L907.82 1414.56M907.65 1123.5L907.64 1130.5L907.64 1137.5L907.63 1144.5L907.62 1151.5L907.62 1158.5L907.61 1165.5L907.6 1172.5L907.59 1179.5L907.57 1186.5L907.56 1193.5L907.54 1200.5L907.51 1207.5L907.48 1214.5L907.44 1221.5L907.38 1228.5L907.3 1235.5L907.17 1242.5L906.92 1249.5L906.37 1256.5L905.02 1263.5L904.27 1266.49M913.42 1266.51L914.39 1273.51L914.51 1280.51L914.55 1287.51L914.58 1294.51L914.6 1301.51L914.61 1308.51L914.61 1315.51L914.62 1322.51L914.63 1329.51L914.63 1336.51L914.63 1343.51L914.63 1350.51L914.64 1357.51L914.64 1364.51L914.64 1371.51L914.64 1378.51L914.64 1385.51L914.64 1392.51L914.65 1399.51L914.65 1406.51L914.65 1413.51L914.65 1414.56M914.68 1123.5L914.69 1130.5L914.69 1137.5L914.69 1144.5L914.69 1151.5L914.69 1158.5L914.69 1165.5L914.69 1172.5L914.7 1179.5L914.7 1186.5L914.7 1193.5L914.71 1200.5L914.71 1207.5L914.72 1214.5L914.73 1221.5L914.74 1228.5L914.76 1235.5L914.79 1242.5L914.84 1249.5L915 1256.5L916.35 1263.5L918.13 1266.49M918.13 1266.51L919.95 1273.51L920.56 1280.51L920.85 1287.51L921.02 1294.51L921.12 1301.51L921.19 1308.51L921.25 1315.51L921.29 1322.51L921.32 1329.51L921.35 1336.51L921.37 1343.51L921.39 1350.51L921.4 1357.51L921.42 1364.51L921.43 1371.51L921.44 1378.51L921.45 1385.51L921.46 1392.51L921.46 1399.51L921.47 1406.51L921.47 1413.51L921.48 1414.56M921.72 1123.5L921.73 1130.5L921.74 1137.5L921.74 1144.5L921.75 1151.5L921.76 1158.5L921.78 1165.5L921.79 1172.5L921.81 1179.5L921.82 1186.5L921.85 1193.5L921.87 1200.5L921.91 1207.5L921.95 1214.5L922.01 1221.5L922.09 1228.5L922.2 1235.5L922.38 1242.5L922.69 1249.5L923.31 1256.5L924.47 1263.5L925.06 1266.49M925.06 1266.51L926.17 1273.51L926.85 1280.51L927.25 1287.51L927.5 1294.51L927.68 1301.51L927.8 1308.51L927.89 1315.51L927.97 1322.51L928.02 1329.51L928.07 1336.51L928.11 1343.51L928.14 1350.51L928.17 1357.51L928.2 1364.51L928.22 1371.51L928.24 1378.51L928.25 1385.51L928.27 1392.51L928.28 1399.51L928.29 1406.51L928.3 1413.51L928.3 1414.56M928.76 1123.5L928.77 1130.5L928.79 1137.5L928.8 1144.5L928.82 1151.5L928.84 1158.5L928.86 1165.5L928.88 1172.5L928.91 1179.5L928.95 1186.5L928.99 1193.5L929.04 1200.5L929.1 1207.5L929.17 1214.5L929.27 1221.5L929.4 1228.5L929.58 1235.5L929.84 1242.5L930.24 1249.5L930.84 1256.5L931.63 1263.5L931.99 1266.49M931.99 1266.51L932.76 1273.51L933.35 1280.51L933.76 1287.51L934.06 1294.51L934.27 1301.51L934.43 1308.51L934.56 1315.51L934.66 1322.51L934.74 1329.51L934.8 1336.51L934.86 1343.51L934.9 1350.51L934.94 1357.51L934.98 1364.51L935.01 1371.51L935.04 1378.51L935.06 1385.51L935.08 1392.51L935.1 1399.51L935.12 1406.51L935.13 1413.51L935.13 1414.56M935.8 1123.5L935.81 1130.5L935.83 1137.5L935.86 1144.5L935.88 1151.5L935.91 1158.5L935.94 1165.5L935.97 1172.5L936.01 1179.5L936.06 1186.5L936.12 1193.5L936.19 1200.5L936.27 1207.5L936.37 1214.5L936.5 1221.5L936.66 1228.5L936.88 1235.5L937.17 1242.5L937.56 1249.5L938.07 1256.5L938.66 1263.5L938.92 1266.49M938.92 1266.51L939.5 1273.51L939.99 1280.51L940.38 1287.51L940.69 1294.51L940.92 1301.51L941.1 1308.51L941.25 1315.51L941.37 1322.51L941.46 1329.51L941.54 1336.51L941.61 1343.51L941.67 1350.51L941.72 1357.51L941.77 1364.51L941.8 1371.51L941.84 1378.51L941.87 1385.51L941.9 1392.51L941.92 1399.51L941.94 1406.51L941.96 1413.51L941.97 1414.56M942.83 1123.5L942.85 1130.5L942.88 1137.5L942.91 1144.5L942.94 1151.5L942.97 1158.5L943.01 1165.5L943.06 1172.5L943.11 1179.5L943.17 1186.5L943.24 1193.5L943.32 1200.5L943.42 1207.5L943.54 1214.5L943.69 1221.5L943.87 1228.5L944.1 1235.5L944.39 1242.5L944.75 1249.5L945.18 1256.5L945.64 1263.5L945.85 1266.49M945.85 1266.51L946.31 1273.51L946.73 1280.51L947.08 1287.51L947.37 1294.51L947.61 1301.51L947.8 1308.51L947.96 1315.51L948.09 1322.51L948.2 1329.51L948.3 1336.51L948.38 1343.51L948.44 1350.51L948.5 1357.51L948.56 1364.51L948.6 1371.51L948.64 1378.51L948.68 1385.51L948.71 1392.51L948.74 1399.51L948.77 1406.51L948.79 1413.51L948.8 1414.56M949.87 1123.5L949.89 1130.5L949.92 1137.5L949.96 1144.5L949.99 1151.5L950.04 1158.5L950.08 1165.5L950.14 1172.5L950.2 1179.5L950.27 1186.5L950.35 1193.5L950.44 1200.5L950.55 1207.5L950.69 1214.5L950.84 1221.5L951.03 1228.5L951.26 1235.5L951.54 1242.5L951.86 1249.5L952.22 1256.5L952.61 1263.5L952.78 1266.49M952.78 1266.51L953.17 1273.51L953.52 1280.51L953.84 1287.51L954.11 1294.51L954.34 1301.51L954.54 1308.51L954.7 1315.51L954.84 1322.51L954.96 1329.51L955.06 1336.51L955.15 1343.51L955.23 1350.51L955.29 1357.51L955.35 1364.51L955.41 1371.51L955.45 1378.51L955.5 1385.51L955.53 1392.51L955.57 1399.51L955.6 1406.51L955.63 1413.51L955.63 1414.56M956.9 1123.5L956.93 1130.5L956.96 1137.5L957 1144.5L957.04 1151.5L957.09 1158.5L957.15 1165.5L957.21 1172.5L957.27 1179.5L957.35 1186.5L957.44 1193.5L957.54 1200.5L957.66 1207.5L957.8 1214.5L957.96 1221.5L958.16 1228.5L958.38 1235.5L958.63 1242.5L958.92 1249.5L959.24 1256.5L959.57 1263.5L959.71 1266.49M959.71 1266.51L960.04 1273.51L960.35 1280.51L960.63 1287.51L960.89 1294.51L961.11 1301.51L961.3 1308.51L961.47 1315.51L961.61 1322.51L961.73 1329.51L961.84 1336.51L961.94 1343.51L962.02 1350.51L962.09 1357.51L962.16 1364.51L962.22 1371.51L962.27 1378.51L962.32 1385.51L962.36 1392.51L962.4 1399.51L962.43 1406.51L962.47 1413.51L962.47 1414.56M963.92 1123.5L963.96 1130.5L964 1137.5L964.04 1144.5L964.09 1151.5L964.14 1158.5L964.2 1165.5L964.27 1172.5L964.34 1179.5L964.43 1186.5L964.52 1193.5L964.63 1200.5L964.75 1207.5L964.9 1214.5L965.06 1221.5L965.24 1228.5L965.45 1235.5L965.69 1242.5L965.95 1249.5L966.23 1256.5L966.52 1263.5L966.64 1266.49M966.64 1266.51L966.93 1273.51L967.2 1280.51L967.46 1287.51L967.69 1294.51L967.9 1301.51L968.09 1308.51L968.25 1315.51L968.39 1322.51L968.52 1329.51L968.63 1336.51L968.73 1343.51L968.82 1350.51L968.9 1357.51L968.97 1364.51L969.03 1371.51L969.09 1378.51L969.14 1385.51L969.19 1392.51L969.23 1399.51L969.27 1406.51L969.3 1413.51L969.31 1414.56M970.95 1123.5L970.99 1130.5L971.03 1137.5L971.08 1144.5L971.13 1151.5L971.19 1158.5L971.25 1165.5L971.32 1172.5L971.4 1179.5L971.49 1186.5L971.59 1193.5L971.7 1200.5L971.83 1207.5L971.97 1214.5L972.13 1221.5L972.3 1228.5L972.5 1235.5L972.72 1242.5L972.96 1249.5L973.2 1256.5L973.46 1263.5L973.57 1266.49M973.57 1266.51L973.83 1273.51L974.07 1280.51L974.3 1287.51L974.52 1294.51L974.72 1301.51L974.89 1308.51L975.05 1315.51L975.2 1322.51L975.32 1329.51L975.44 1336.51L975.54 1343.51L975.63 1350.51L975.71 1357.51L975.79 1364.51L975.85 1371.51L975.91 1378.51L975.97 1385.51L976.02 1392.51L976.06 1399.51L976.11 1406.51L976.15 1413.51L976.15 1414.56M977.97 1123.5L978.01 1130.5L978.06 1137.5L978.11 1144.5L978.17 1151.5L978.23 1158.5L978.29 1165.5L978.37 1172.5L978.45 1179.5L978.54 1186.5L978.64 1193.5L978.76 1200.5L978.88 1207.5L979.02 1214.5L979.18 1221.5L979.35 1228.5L979.53 1235.5L979.73 1242.5L979.95 1249.5L980.17 1256.5L980.4 1263.5L980.5 1266.49M980.5 1266.51L980.73 1273.51L980.95 1280.51L981.16 1287.51L981.36 1294.51L981.55 1301.51L981.72 1308.51L981.87 1315.51L982.01 1322.51L982.14 1329.51L982.25 1336.51L982.36 1343.51L982.45 1350.51L982.53 1357.51L982.61 1364.51L982.68 1371.51L982.74 1378.51L982.8 1385.51L982.85 1392.51L982.9 1399.51L982.95 1406.51L982.99 1413.51L983 1414.56M984.99 1123.5L985.03 1130.5L985.08 1137.5L985.14 1144.5L985.2 1151.5L985.26 1158.5L985.33 1165.5L985.41 1172.5L985.49 1179.5L985.58 1186.5L985.69 1193.5L985.8 1200.5L985.92 1207.5L986.06 1214.5L986.21 1221.5L986.37 1228.5L986.54 1235.5L986.73 1242.5L986.93 1249.5L987.13 1256.5L987.34 1263.5L987.43 1266.49M987.43 1266.51L987.64 1273.51L987.84 1280.51L988.04 1287.51L988.22 1294.51L988.39 1301.51L988.56 1308.51L988.7 1315.51L988.84 1322.51L988.96 1329.51L989.08 1336.51L989.18 1343.51L989.28 1350.51L989.36 1357.51L989.44 1364.51L989.51 1371.51L989.58 1378.51L989.64 1385.51L989.69 1392.51L989.75 1399.51L989.79 1406.51L989.84 1413.51L989.84 1414.56M992 1123.5L992.05 1130.5L992.1 1137.5L992.16 1144.5L992.22 1151.5L992.29 1158.5L992.36 1165.5L992.44 1172.5L992.52 1179.5L992.62 1186.5L992.72 1193.5L992.83 1200.5L992.95 1207.5L993.08 1214.5L993.23 1221.5L993.38 1228.5L993.55 1235.5L993.72 1242.5L993.9 1249.5L994.09 1256.5L994.28 1263.5L994.36 1266.49M994.36 1266.51L994.55 1273.51L994.74 1280.51L994.92 1287.51L995.09 1294.51L995.25 1301.51L995.41 1308.51L995.55 1315.51L995.68 1322.51L995.8 1329.51L995.91 1336.51L996.02 1343.51L996.11 1350.51L996.2 1357.51L996.28 1364.51L996.35 1371.51L996.42 1378.51L996.48 1385.51L996.54 1392.51L996.59 1399.51L996.64 1406.51L996.69 1413.51L996.7 1414.56M999.01 1123.5L999.06 1130.5L999.12 1137.5L999.18 1144.5L999.24 1151.5L999.31 1158.5L999.38 1165.5L999.46 1172.5L999.55 1179.5L999.64 1186.5L999.74 1193.5L999.85 1200.5L999.97 1207.5L1000.1 1214.5L1000.23 1221.5L1000.38 1228.5L1000.54 1235.5L1000.7 1242.5L1000.87 1249.5L1001.04 1256.5L1001.21 1263.5L1001.29 1266.49M1001.29 1266.51L1001.47 1273.51L1001.64 1280.51L1001.81 1287.51L1001.97 1294.51L1002.12 1301.51L1002.26 1308.51L1002.4 1315.51L1002.53 1322.51L1002.65 1329.51L1002.76 1336.51L1002.86 1343.51L1002.95 1350.51L1003.04 1357.51L1003.12 1364.51L1003.2 1371.51L1003.26 1378.51L1003.33 1385.51L1003.39 1392.51L1003.44 1399.51L1003.49 1406.51L1003.54 1413.51L1003.55 1414.56M1006.02 1123.5L1006.07 1130.5L1006.13 1137.5L1006.19 1144.5L1006.25 1151.5L1006.32 1158.5L1006.4 1165.5L1006.48 1172.5L1006.56 1179.5L1006.66 1186.5L1006.76 1193.5L1006.86 1200.5L1006.98 1207.5L1007.1 1214.5L1007.23 1221.5L1007.37 1228.5L1007.52 1235.5L1007.67 1242.5L1007.83 1249.5L1007.99 1256.5L1008.15 1263.5L1008.22 1266.49M1008.22 1266.51L1008.38 1273.51L1008.54 1280.51L1008.7 1287.51L1008.85 1294.51L1008.99 1301.51L1009.13 1308.51L1009.26 1315.51L1009.39 1322.51L1009.5 1329.51L1009.61 1336.51L1009.71 1343.51L1009.8 1350.51L1009.89 1357.51L1009.97 1364.51L1010.04 1371.51L1010.11 1378.51L1010.18 1385.51L1010.24 1392.51L1010.3 1399.51L1010.35 1406.51L1010.4 1413.51L1010.41 1414.56M1013.03 1123.5L1013.08 1130.5L1013.14 1137.5L1013.2 1144.5L1013.26 1151.5L1013.33 1158.5L1013.41 1165.5L1013.49 1172.5L1013.57 1179.5L1013.66 1186.5L1013.76 1193.5L1013.87 1200.5L1013.98 1207.5L1014.1 1214.5L1014.22 1221.5L1014.36 1228.5L1014.49 1235.5L1014.64 1242.5L1014.78 1249.5L1014.93 1256.5L1015.08 1263.5L1015.15 1266.49M1015.15 1266.51L1015.3 1273.51L1015.45 1280.51L1015.6 1287.51L1015.74 1294.51L1015.88 1301.51L1016.01 1308.51L1016.13 1315.51L1016.25 1322.51L1016.36 1329.51L1016.47 1336.51L1016.57 1343.51L1016.66 1350.51L1016.74 1357.51L1016.82 1364.51L1016.9 1371.51L1016.97 1378.51L1017.04 1385.51L1017.1 1392.51L1017.15 1399.51L1017.21 1406.51L1017.26 1413.51L1017.27 1414.56M1020.03 1123.5L1020.08 1130.5L1020.14 1137.5L1020.2 1144.5L1020.27 1151.5L1020.34 1158.5L1020.41 1165.5L1020.49 1172.5L1020.58 1179.5L1020.67 1186.5L1020.76 1193.5L1020.86 1200.5L1020.97 1207.5L1021.09 1214.5L1021.21 1221.5L1021.33 1228.5L1021.46 1235.5L1021.6 1242.5L1021.74 1249.5L1021.88 1256.5L1022.02 1263.5L1022.08 1266.49M1022.08 1266.51L1022.22 1273.51L1022.36 1280.51L1022.5 1287.51L1022.63 1294.51L1022.76 1301.51L1022.89 1308.51L1023.01 1315.51L1023.12 1322.51L1023.23 1329.51L1023.33 1336.51L1023.43 1343.51L1023.52 1350.51L1023.6 1357.51L1023.68 1364.51L1023.76 1371.51L1023.83 1378.51L1023.89 1385.51L1023.96 1392.51L1024.02 1399.51L1024.07 1406.51L1024.12 1413.51L1024.13 1414.56M1027.03 1123.5L1027.08 1130.5L1027.14 1137.5L1027.2 1144.5L1027.27 1151.5L1027.34 1158.5L1027.41 1165.5L1027.49 1172.5L1027.57 1179.5L1027.66 1186.5L1027.76 1193.5L1027.86 1200.5L1027.96 1207.5L1028.07 1214.5L1028.19 1221.5L1028.31 1228.5L1028.43 1235.5L1028.56 1242.5L1028.69 1249.5L1028.82 1256.5L1028.95 1263.5L1029.01 1266.49M1029.01 1266.51L1029.14 1273.51L1029.28 1280.51L1029.41 1287.51L1029.53 1294.51L1029.66 1301.51L1029.77 1308.51L1029.89 1315.51L1030 1322.51L1030.1 1329.51L1030.2 1336.51L1030.3 1343.51L1030.38 1350.51L1030.47 1357.51L1030.55 1364.51L1030.62 1371.51L1030.69 1378.51L1030.76 1385.51L1030.82 1392.51L1030.88 1399.51L1030.94 1406.51L1030.99 1413.51L1030.99 1414.56M1034.02 1123.5L1034.08 1130.5L1034.13 1137.5L1034.2 1144.5L1034.26 1151.5L1034.33 1158.5L1034.41 1165.5L1034.48 1172.5L1034.57 1179.5L1034.65 1186.5L1034.74 1193.5L1034.84 1200.5L1034.94 1207.5L1035.05 1214.5L1035.16 1221.5L1035.27 1228.5L1035.39 1235.5L1035.51 1242.5L1035.63 1249.5L1035.76 1256.5L1035.89 1263.5L1035.94 1266.49M1035.94 1266.51L1036.07 1273.51L1036.19 1280.51L1036.31 1287.51L1036.43 1294.51L1036.55 1301.51L1036.66 1308.51L1036.77 1315.51L1036.88 1322.51L1036.98 1329.51L1037.08 1336.51L1037.17 1343.51L1037.26 1350.51L1037.34 1357.51L1037.42 1364.51L1037.49 1371.51L1037.56 1378.51L1037.63 1385.51L1037.69 1392.51L1037.75 1399.51L1037.8 1406.51L1037.86 1413.51L1037.86 1414.56M1041.01 1123.5L1041.07 1130.5L1041.13 1137.5L1041.19 1144.5L1041.25 1151.5L1041.32 1158.5L1041.4 1165.5L1041.47 1172.5L1041.55 1179.5L1041.64 1186.5L1041.73 1193.5L1041.82 1200.5L1041.92 1207.5L1042.02 1214.5L1042.13 1221.5L1042.24 1228.5L1042.35 1235.5L1042.46 1242.5L1042.58 1249.5L1042.7 1256.5L1042.82 1263.5L1042.87 1266.49M1042.87 1266.51L1042.99 1273.51L1043.11 1280.51L1043.22 1287.51L1043.34 1294.51L1043.45 1301.51L1043.56 1308.51L1043.66 1315.51L1043.77 1322.51L1043.86 1329.51L1043.96 1336.51L1044.05 1343.51L1044.13 1350.51L1044.21 1357.51L1044.29 1364.51L1044.36 1371.51L1044.43 1378.51L1044.5 1385.51L1044.56 1392.51L1044.62 1399.51L1044.67 1406.51L1044.73 1413.51L1044.73 1414.56M1048 1123.5L1048.06 1130.5L1048.11 1137.5L1048.18 1144.5L1048.24 1151.5L1048.31 1158.5L1048.38 1165.5L1048.46 1172.5L1048.54 1179.5L1048.62 1186.5L1048.71 1193.5L1048.8 1200.5L1048.89 1207.5L1048.99 1214.5L1049.09 1221.5L1049.2 1228.5L1049.31 1235.5L1049.41 1242.5L1049.53 1249.5L1049.64 1256.5L1049.75 1263.5L1049.8 1266.49M1049.8 1266.51L1049.91 1273.51L1050.03 1280.51L1050.14 1287.51L1050.25 1294.51L1050.35 1301.51L1050.46 1308.51L1050.56 1315.51L1050.66 1322.51L1050.75 1329.51L1050.84 1336.51L1050.93 1343.51L1051.01 1350.51L1051.09 1357.51L1051.16 1364.51L1051.24 1371.51L1051.31 1378.51L1051.37 1385.51L1051.43 1392.51L1051.49 1399.51L1051.55 1406.51L1051.6 1413.51L1051.61 1414.56M1054.99 1123.5L1055.04 1130.5L1055.1 1137.5L1055.16 1144.5L1055.23 1151.5L1055.29 1158.5L1055.37 1165.5L1055.44 1172.5L1055.52 1179.5L1055.6 1186.5L1055.68 1193.5L1055.77 1200.5L1055.86 1207.5L1055.96 1214.5L1056.06 1221.5L1056.16 1228.5L1056.26 1235.5L1056.36 1242.5L1056.47 1249.5L1056.58 1256.5L1056.68 1263.5L1056.73 1266.49M1056.73 1266.51L1056.84 1273.51L1056.94 1280.51L1057.05 1287.51L1057.15 1294.51L1057.26 1301.51L1057.36 1308.51L1057.45 1315.51L1057.55 1322.51L1057.64 1329.51L1057.73 1336.51L1057.81 1343.51L1057.89 1350.51L1057.97 1357.51L1058.04 1364.51L1058.12 1371.51L1058.18 1378.51L1058.25 1385.51L1058.31 1392.51L1058.37 1399.51L1058.42 1406.51L1058.48 1413.51L1058.49 1414.56M1061.97 1123.5L1062.02 1130.5L1062.08 1137.5L1062.14 1144.5L1062.21 1151.5L1062.28 1158.5L1062.35 1165.5L1062.42 1172.5L1062.49 1179.5L1062.57 1186.5L1062.66 1193.5L1062.74 1200.5L1062.83 1207.5L1062.92 1214.5L1063.02 1221.5L1063.11 1228.5L1063.21 1235.5L1063.31 1242.5L1063.41 1249.5L1063.51 1256.5L1063.62 1263.5L1063.66 1266.49M1063.66 1266.51L1063.76 1273.51L1063.86 1280.51L1063.97 1287.51L1064.07 1294.51L1064.16 1301.51L1064.26 1308.51L1064.35 1315.51L1064.44 1322.51L1064.53 1329.51L1064.62 1336.51L1064.7 1343.51L1064.78 1350.51L1064.85 1357.51L1064.93 1364.51L1065 1371.51L1065.06 1378.51L1065.13 1385.51L1065.19 1392.51L1065.25 1399.51L1065.3 1406.51L1065.36 1413.51L1065.36 1414.56M1068.95 1123.5L1069.01 1130.5L1069.06 1137.5L1069.12 1144.5L1069.19 1151.5L1069.25 1158.5L1069.32 1165.5L1069.39 1172.5L1069.47 1179.5L1069.55 1186.5L1069.63 1193.5L1069.71 1200.5L1069.79 1207.5L1069.88 1214.5L1069.97 1221.5L1070.06 1228.5L1070.16 1235.5L1070.25 1242.5L1070.35 1249.5L1070.45 1256.5L1070.55 1263.5L1070.59 1266.49M1070.59 1266.51L1070.69 1273.51L1070.79 1280.51L1070.88 1287.51L1070.98 1294.51L1071.07 1301.51L1071.16 1308.51L1071.25 1315.51L1071.34 1322.51L1071.43 1329.51L1071.51 1336.51L1071.59 1343.51L1071.67 1350.51L1071.74 1357.51L1071.81 1364.51L1071.88 1371.51L1071.95 1378.51L1072.01 1385.51L1072.07 1392.51L1072.13 1399.51L1072.18 1406.51L1072.24 1413.51L1072.25 1414.56M1075.93 1123.5L1075.98 1130.5L1076.04 1137.5L1076.1 1144.5L1076.16 1151.5L1076.23 1158.5L1076.3 1165.5L1076.37 1172.5L1076.44 1179.5L1076.51 1186.5L1076.59 1193.5L1076.67 1200.5L1076.76 1207.5L1076.84 1214.5L1076.93 1221.5L1077.02 1228.5L1077.11 1235.5L1077.2 1242.5L1077.29 1249.5L1077.39 1256.5L1077.48 1263.5L1077.52 1266.49M1077.52 1266.51L1077.61 1273.51L1077.71 1280.51L1077.8 1287.51L1077.89 1294.51L1077.98 1301.51L1078.07 1308.51L1078.16 1315.51L1078.24 1322.51L1078.33 1329.51L1078.41 1336.51L1078.48 1343.51L1078.56 1350.51L1078.63 1357.51L1078.7 1364.51L1078.77 1371.51L1078.83 1378.51L1078.9 1385.51L1078.96 1392.51L1079.01 1399.51L1079.07 1406.51L1079.12 1413.51L1079.13 1414.56M1082.9 1123.5L1082.96 1130.5L1083.02 1137.5L1083.07 1144.5L1083.14 1151.5L1083.2 1158.5L1083.27 1165.5L1083.34 1172.5L1083.41 1179.5L1083.48 1186.5L1083.56 1193.5L1083.63 1200.5L1083.71 1207.5L1083.8 1214.5L1083.88 1221.5L1083.97 1228.5L1084.05 1235.5L1084.14 1242.5L1084.23 1249.5L1084.32 1256.5L1084.41 1263.5L1084.45 1266.49M1084.45 1266.51L1084.54 1273.51L1084.63 1280.51L1084.72 1287.51L1084.81 1294.51L1084.89 1301.51L1084.98 1308.51L1085.06 1315.51L1085.15 1322.51L1085.23 1329.51L1085.3 1336.51L1085.38 1343.51L1085.45 1350.51L1085.52 1357.51L1085.59 1364.51L1085.66 1371.51L1085.72 1378.51L1085.78 1385.51L1085.84 1392.51L1085.9 1399.51L1085.95 1406.51L1086.01 1413.51L1086.01 1414.56"/><path d="M772.6 1097.71L779.6 1097.76L786.6 1097.82L793.6 1097.88L800.6 1097.94L807.6 1098.01L814.6 1098.07L821.6 1098.14L828.6 1098.21L835.6 1098.29L842.6 1098.36L849.6 1098.44L856.6 1098.52L863.6 1098.61L870.6 1098.69L877.6 1098.78L884.6 1098.87L891.6 1098.96L898.6 1099.05L905.6 1099.14L912.6 1099.23L913.49 1099.24M913.51 1085.39L920.51 1085.47L927.51 1085.56L934.51 1085.64L941.51 1085.72L948.51 1085.81L955.51 1085.89L962.51 1085.97L969.51 1086.05L976.51 1086.13L983.51 1086.2L990.51 1086.28L997.51 1086.35L1004.51 1086.42L1011.51 1086.48L1018.51 1086.55L1025.51 1086.61L1032.51 1086.67L1039.51 1086.73L1046.51 1086.79L1053.51 1086.85L1060.51 1086.9L1063.66 1086.92M772.6 1104.59L779.6 1104.65L786.6 1104.71L793.6 1104.77L800.6 1104.83L807.6 1104.89L814.6 1104.96L821.6 1105.03L828.6 1105.11L835.6 1105.18L842.6 1105.26L849.6 1105.34L856.6 1105.43L863.6 1105.51L870.6 1105.6L877.6 1105.69L884.6 1105.78L891.6 1105.88L898.6 1105.97L905.6 1106.07L912.6 1106.16L913.49 1106.17M913.51 1092.32L920.51 1092.4L927.51 1092.49L934.51 1092.58L941.51 1092.67L948.51 1092.75L955.51 1092.84L962.51 1092.92L969.51 1093L976.51 1093.08L983.51 1093.16L990.51 1093.24L997.51 1093.31L1004.51 1093.38L1011.51 1093.45L1018.51 1093.52L1025.51 1093.58L1032.51 1093.65L1039.51 1093.71L1046.51 1093.76L1053.51 1093.82L1060.51 1093.87L1063.66 1093.89M772.6 1111.48L779.6 1111.53L786.6 1111.59L793.6 1111.65L800.6 1111.71L807.6 1111.78L814.6 1111.85L821.6 1111.92L828.6 1112L835.6 1112.07L842.6 1112.15L849.6 1112.24L856.6 1112.32L863.6 1112.41L870.6 1112.51L877.6 1112.6L884.6 1112.69L891.6 1112.79L898.6 1112.89L905.6 1112.99L912.6 1113.09L913.49 1113.1M913.51 1099.25L920.51 1099.34L927.51 1099.43L934.51 1099.52L941.51 1099.61L948.51 1099.7L955.51 1099.79L962.51 1099.88L969.51 1099.96L976.51 1100.04L983.51 1100.12L990.51 1100.2L997.51 1100.28L1004.51 1100.35L1011.51 1100.42L1018.51 1100.49L1025.51 1100.55L1032.51 1100.62L1039.51 1100.68L1046.51 1100.74L1053.51 1100.79L1060.51 1100.85L1063.66 1100.87M772.6 1118.36L779.6 1118.41L786.6 1118.47L793.6 1118.53L800.6 1118.6L807.6 1118.66L814.6 1118.73L821.6 1118.81L828.6 1118.88L835.6 1118.96L842.6 1119.05L849.6 1119.13L856.6 1119.22L863.6 1119.31L870.6 1119.41L877.6 1119.51L884.6 1119.61L891.6 1119.71L898.6 1119.81L905.6 1119.92L912.6 1120.02L913.49 1120.03M913.51 1106.18L920.51 1106.27L927.51 1106.37L934.51 1106.46L941.51 1106.56L948.51 1106.65L955.51 1106.74L962.51 1106.83L969.51 1106.92L976.51 1107.01L983.51 1107.09L990.51 1107.17L997.51 1107.25L1004.51 1107.32L1011.51 1107.39L1018.51 1107.46L1025.51 1107.53L1032.51 1107.59L1039.51 1107.65L1046.51 1107.71L1053.51 1107.77L1060.51 1107.82L1063.66 1107.85M772.6 1125.23L779.6 1125.29L786.6 1125.35L793.6 1125.41L800.6 1125.48L807.6 1125.54L814.6 1125.61L821.6 1125.69L828.6 1125.77L835.6 1125.85L842.6 1125.93L849.6 1126.02L856.6 1126.12L863.6 1126.21L870.6 1126.31L877.6 1126.41L884.6 1126.52L891.6 1126.62L898.6 1126.73L905.6 1126.84L912.6 1126.95L913.49 1126.96M913.51 1113.11L920.51 1113.21L927.51 1113.31L934.51 1113.41L941.51 1113.5L948.51 1113.6L955.51 1113.7L962.51 1113.79L969.51 1113.88L976.51 1113.97L983.51 1114.05L990.51 1114.14L997.51 1114.22L1004.51 1114.29L1011.51 1114.37L1018.51 1114.44L1025.51 1114.51L1032.51 1114.57L1039.51 1114.63L1046.51 1114.69L1053.51 1114.75L1060.51 1114.8L1063.66 1114.83M772.6 1132.11L779.6 1132.17L786.6 1132.22L793.6 1132.29L800.6 1132.35L807.6 1132.42L814.6 1132.49L821.6 1132.57L828.6 1132.65L835.6 1132.73L842.6 1132.82L849.6 1132.91L856.6 1133.01L863.6 1133.1L870.6 1133.21L877.6 1133.31L884.6 1133.42L891.6 1133.53L898.6 1133.65L905.6 1133.76L912.6 1133.88L913.49 1133.89M913.51 1120.04L920.51 1120.14L927.51 1120.25L934.51 1120.35L941.51 1120.45L948.51 1120.55L955.51 1120.65L962.51 1120.75L969.51 1120.84L976.51 1120.94L983.51 1121.02L990.51 1121.11L997.51 1121.19L1004.51 1121.27L1011.51 1121.35L1018.51 1121.42L1025.51 1121.49L1032.51 1121.55L1039.51 1121.61L1046.51 1121.67L1053.51 1121.73L1060.51 1121.78L1063.66 1121.81M772.6 1138.98L779.6 1139.04L786.6 1139.1L793.6 1139.16L800.6 1139.22L807.6 1139.29L814.6 1139.37L821.6 1139.44L828.6 1139.52L835.6 1139.61L842.6 1139.7L849.6 1139.79L856.6 1139.89L863.6 1140L870.6 1140.1L877.6 1140.21L884.6 1140.33L891.6 1140.44L898.6 1140.56L905.6 1140.69L912.6 1140.81L913.49 1140.82M913.51 1126.97L920.51 1127.08L927.51 1127.19L934.51 1127.3L941.51 1127.4L948.51 1127.51L955.51 1127.61L962.51 1127.71L969.51 1127.81L976.51 1127.91L983.51 1128L990.51 1128.09L997.51 1128.17L1004.51 1128.25L1011.51 1128.33L1018.51 1128.4L1025.51 1128.47L1032.51 1128.54L1039.51 1128.6L1046.51 1128.66L1053.51 1128.72L1060.51 1128.77L1063.66 1128.79M772.6 1145.85L779.6 1145.91L786.6 1145.97L793.6 1146.03L800.6 1146.09L807.6 1146.16L814.6 1146.24L821.6 1146.31L828.6 1146.4L835.6 1146.48L842.6 1146.58L849.6 1146.67L856.6 1146.78L863.6 1146.88L870.6 1146.99L877.6 1147.11L884.6 1147.23L891.6 1147.35L898.6 1147.48L905.6 1147.61L912.6 1147.74L913.49 1147.75M913.51 1133.9L920.51 1134.01L927.51 1134.13L934.51 1134.24L941.51 1134.36L948.51 1134.47L955.51 1134.58L962.51 1134.68L969.51 1134.78L976.51 1134.88L983.51 1134.97L990.51 1135.06L997.51 1135.15L1004.51 1135.23L1011.51 1135.31L1018.51 1135.38L1025.51 1135.46L1032.51 1135.52L1039.51 1135.59L1046.51 1135.65L1053.51 1135.7L1060.51 1135.76L1063.66 1135.78M772.6 1152.72L779.6 1152.77L786.6 1152.83L793.6 1152.89L800.6 1152.96L807.6 1153.03L814.6 1153.1L821.6 1153.18L828.6 1153.27L835.6 1153.35L842.6 1153.45L849.6 1153.55L856.6 1153.65L863.6 1153.77L870.6 1153.88L877.6 1154L884.6 1154.13L891.6 1154.26L898.6 1154.39L905.6 1154.53L912.6 1154.67L913.49 1154.68M913.51 1140.83L920.51 1140.95L927.51 1141.07L934.51 1141.19L941.51 1141.31L948.51 1141.43L955.51 1141.54L962.51 1141.65L969.51 1141.76L976.51 1141.86L983.51 1141.95L990.51 1142.05L997.51 1142.14L1004.51 1142.22L1011.51 1142.3L1018.51 1142.37L1025.51 1142.45L1032.51 1142.51L1039.51 1142.58L1046.51 1142.64L1053.51 1142.69L1060.51 1142.75L1063.66 1142.77M772.6 1159.58L779.6 1159.64L786.6 1159.69L793.6 1159.75L800.6 1159.82L807.6 1159.89L814.6 1159.96L821.6 1160.04L828.6 1160.13L835.6 1160.22L842.6 1160.32L849.6 1160.42L856.6 1160.53L863.6 1160.64L870.6 1160.76L877.6 1160.89L884.6 1161.02L891.6 1161.16L898.6 1161.3L905.6 1161.45L912.6 1161.6L913.49 1161.61M913.51 1147.76L920.51 1147.89L927.51 1148.01L934.51 1148.14L941.51 1148.27L948.51 1148.39L955.51 1148.51L962.51 1148.62L969.51 1148.73L976.51 1148.84L983.51 1148.94L990.51 1149.04L997.51 1149.13L1004.51 1149.21L1011.51 1149.29L1018.51 1149.37L1025.51 1149.44L1032.51 1149.51L1039.51 1149.57L1046.51 1149.63L1053.51 1149.69L1060.51 1149.74L1063.66 1149.76M772.6 1166.44L779.6 1166.49L786.6 1166.55L793.6 1166.61L800.6 1166.68L807.6 1166.75L814.6 1166.82L821.6 1166.9L828.6 1166.99L835.6 1167.08L842.6 1167.18L849.6 1167.28L856.6 1167.39L863.6 1167.51L870.6 1167.64L877.6 1167.78L884.6 1167.92L891.6 1168.06L898.6 1168.21L905.6 1168.37L912.6 1168.52L913.49 1168.54M913.51 1154.69L920.51 1154.82L927.51 1154.96L934.51 1155.1L941.51 1155.23L948.51 1155.36L955.51 1155.48L962.51 1155.6L969.51 1155.72L976.51 1155.83L983.51 1155.93L990.51 1156.03L997.51 1156.12L1004.51 1156.21L1011.51 1156.29L1018.51 1156.37L1025.51 1156.44L1032.51 1156.5L1039.51 1156.57L1046.51 1156.63L1053.51 1156.68L1060.51 1156.74L1063.66 1156.76M772.6 1173.3L779.6 1173.35L786.6 1173.41L793.6 1173.47L800.6 1173.53L807.6 1173.6L814.6 1173.67L821.6 1173.75L828.6 1173.84L835.6 1173.93L842.6 1174.03L849.6 1174.14L856.6 1174.26L863.6 1174.38L870.6 1174.51L877.6 1174.65L884.6 1174.8L891.6 1174.96L898.6 1175.12L905.6 1175.28L912.6 1175.45L913.49 1175.47M913.51 1161.62L920.51 1161.76L927.51 1161.91L934.51 1162.05L941.51 1162.19L948.51 1162.33L955.51 1162.46L962.51 1162.59L969.51 1162.71L976.51 1162.82L983.51 1162.93L990.51 1163.03L997.51 1163.12L1004.51 1163.21L1011.51 1163.29L1018.51 1163.37L1025.51 1163.44L1032.51 1163.51L1039.51 1163.57L1046.51 1163.63L1053.51 1163.68L1060.51 1163.73L1063.66 1163.76M772.6 1180.15L779.6 1180.2L786.6 1180.26L793.6 1180.31L800.6 1180.38L807.6 1180.44L814.6 1180.52L821.6 1180.6L828.6 1180.68L835.6 1180.78L842.6 1180.88L849.6 1180.99L856.6 1181.11L863.6 1181.24L870.6 1181.37L877.6 1181.52L884.6 1181.68L891.6 1181.85L898.6 1182.02L905.6 1182.2L912.6 1182.38L913.49 1182.4M913.51 1168.55L920.51 1168.7L927.51 1168.86L934.51 1169.01L941.51 1169.16L948.51 1169.31L955.51 1169.45L962.51 1169.58L969.51 1169.7L976.51 1169.82L983.51 1169.93L990.51 1170.03L997.51 1170.13L1004.51 1170.22L1011.51 1170.3L1018.51 1170.37L1025.51 1170.45L1032.51 1170.51L1039.51 1170.57L1046.51 1170.63L1053.51 1170.69L1060.51 1170.74L1063.66 1170.76M772.6 1187L779.6 1187.05L786.6 1187.1L793.6 1187.16L800.6 1187.22L807.6 1187.29L814.6 1187.36L821.6 1187.44L828.6 1187.52L835.6 1187.62L842.6 1187.72L849.6 1187.83L856.6 1187.95L863.6 1188.08L870.6 1188.23L877.6 1188.38L884.6 1188.55L891.6 1188.73L898.6 1188.92L905.6 1189.11L912.6 1189.31L913.49 1189.33M913.51 1175.48L920.51 1175.65L927.51 1175.81L934.51 1175.98L941.51 1176.14L948.51 1176.29L955.51 1176.44L962.51 1176.58L969.51 1176.71L976.51 1176.83L983.51 1176.94L990.51 1177.04L997.51 1177.14L1004.51 1177.23L1011.51 1177.31L1018.51 1177.39L1025.51 1177.46L1032.51 1177.52L1039.51 1177.58L1046.51 1177.64L1053.51 1177.69L1060.51 1177.74L1063.66 1177.76M772.6 1193.85L779.6 1193.9L786.6 1193.95L793.6 1194L800.6 1194.06L807.6 1194.12L814.6 1194.19L821.6 1194.27L828.6 1194.35L835.6 1194.45L842.6 1194.55L849.6 1194.66L856.6 1194.79L863.6 1194.92L870.6 1195.07L877.6 1195.24L884.6 1195.41L891.6 1195.6L898.6 1195.81L905.6 1196.02L912.6 1196.24L913.49 1196.26M913.51 1182.41L920.51 1182.59L927.51 1182.77L934.51 1182.95L941.51 1183.12L948.51 1183.28L955.51 1183.44L962.51 1183.58L969.51 1183.72L976.51 1183.84L983.51 1183.96L990.51 1184.06L997.51 1184.16L1004.51 1184.25L1011.51 1184.33L1018.51 1184.41L1025.51 1184.48L1032.51 1184.54L1039.51 1184.6L1046.51 1184.65L1053.51 1184.7L1060.51 1184.75L1063.66 1184.77M772.6 1200.69L779.6 1200.74L786.6 1200.78L793.6 1200.83L800.6 1200.89L807.6 1200.95L814.6 1201.02L821.6 1201.09L828.6 1201.18L835.6 1201.27L842.6 1201.37L849.6 1201.48L856.6 1201.61L863.6 1201.75L870.6 1201.9L877.6 1202.07L884.6 1202.26L891.6 1202.47L898.6 1202.69L905.6 1202.92L912.6 1203.16L913.49 1203.19M913.51 1189.34L920.51 1189.54L927.51 1189.73L934.51 1189.93L941.51 1190.11L948.51 1190.29L955.51 1190.45L962.51 1190.6L969.51 1190.74L976.51 1190.87L983.51 1190.98L990.51 1191.09L997.51 1191.19L1004.51 1191.28L1011.51 1191.36L1018.51 1191.43L1025.51 1191.5L1032.51 1191.56L1039.51 1191.62L1046.51 1191.67L1053.51 1191.72L1060.51 1191.76L1063.66 1191.78M772.6 1207.53L779.6 1207.57L786.6 1207.62L793.6 1207.67L800.6 1207.72L807.6 1207.78L814.6 1207.84L821.6 1207.91L828.6 1207.99L835.6 1208.08L842.6 1208.18L849.6 1208.29L856.6 1208.41L863.6 1208.56L870.6 1208.72L877.6 1208.9L884.6 1209.1L891.6 1209.32L898.6 1209.56L905.6 1209.82L912.6 1210.09L913.49 1210.12M913.51 1196.27L920.51 1196.49L927.51 1196.7L934.51 1196.91L941.51 1197.11L948.51 1197.3L955.51 1197.47L962.51 1197.63L969.51 1197.77L976.51 1197.9L983.51 1198.02L990.51 1198.13L997.51 1198.22L1004.51 1198.31L1011.51 1198.39L1018.51 1198.46L1025.51 1198.53L1032.51 1198.59L1039.51 1198.64L1046.51 1198.69L1053.51 1198.74L1060.51 1198.78L1063.66 1198.8M772.6 1214.37L779.6 1214.41L786.6 1214.45L793.6 1214.49L800.6 1214.54L807.6 1214.59L814.6 1214.65L821.6 1214.72L828.6 1214.8L835.6 1214.88L842.6 1214.98L849.6 1215.08L856.6 1215.21L863.6 1215.35L870.6 1215.51L877.6 1215.7L884.6 1215.91L891.6 1216.15L898.6 1216.42L905.6 1216.71L912.6 1217.01L913.49 1217.05M913.51 1203.2L920.51 1203.44L927.51 1203.68L934.51 1203.91L941.51 1204.13L948.51 1204.33L955.51 1204.51L962.51 1204.67L969.51 1204.82L976.51 1204.95L983.51 1205.07L990.51 1205.18L997.51 1205.27L1004.51 1205.36L1011.51 1205.43L1018.51 1205.5L1025.51 1205.56L1032.51 1205.62L1039.51 1205.67L1046.51 1205.71L1053.51 1205.76L1060.51 1205.8L1063.66 1205.81M772.6 1221.21L779.6 1221.24L786.6 1221.27L793.6 1221.31L800.6 1221.36L807.6 1221.41L814.6 1221.46L821.6 1221.52L828.6 1221.59L835.6 1221.67L842.6 1221.76L849.6 1221.86L856.6 1221.98L863.6 1222.12L870.6 1222.29L877.6 1222.48L884.6 1222.7L891.6 1222.96L898.6 1223.25L905.6 1223.58L912.6 1223.94L913.49 1223.98M913.51 1210.13L920.51 1210.4L927.51 1210.67L934.51 1210.92L941.51 1211.16L948.51 1211.37L955.51 1211.57L962.51 1211.74L969.51 1211.89L976.51 1212.02L983.51 1212.13L990.51 1212.24L997.51 1212.33L1004.51 1212.41L1011.51 1212.48L1018.51 1212.54L1025.51 1212.6L1032.51 1212.65L1039.51 1212.7L1046.51 1212.74L1053.51 1212.78L1060.51 1212.82L1063.66 1212.83M772.6 1228.04L779.6 1228.07L786.6 1228.1L793.6 1228.13L800.6 1228.17L807.6 1228.21L814.6 1228.26L821.6 1228.32L828.6 1228.38L835.6 1228.45L842.6 1228.53L849.6 1228.63L856.6 1228.74L863.6 1228.87L870.6 1229.03L877.6 1229.22L884.6 1229.45L891.6 1229.73L898.6 1230.06L905.6 1230.44L912.6 1230.86L913.49 1230.91M913.51 1217.06L920.51 1217.37L927.51 1217.67L934.51 1217.96L941.51 1218.21L948.51 1218.44L955.51 1218.64L962.51 1218.82L969.51 1218.97L976.51 1219.1L983.51 1219.21L990.51 1219.31L997.51 1219.39L1004.51 1219.47L1011.51 1219.53L1018.51 1219.59L1025.51 1219.65L1032.51 1219.69L1039.51 1219.74L1046.51 1219.77L1053.51 1219.81L1060.51 1219.84L1063.66 1219.86M772.6 1234.87L779.6 1234.89L786.6 1234.92L793.6 1234.95L800.6 1234.98L807.6 1235.02L814.6 1235.06L821.6 1235.11L828.6 1235.16L835.6 1235.22L842.6 1235.29L849.6 1235.38L856.6 1235.48L863.6 1235.6L870.6 1235.75L877.6 1235.94L884.6 1236.17L891.6 1236.46L898.6 1236.82L905.6 1237.26L912.6 1237.78L913.49 1237.84M913.51 1223.99L920.51 1224.35L927.51 1224.7L934.51 1225.02L941.51 1225.3L948.51 1225.55L955.51 1225.75L962.51 1225.92L969.51 1226.07L976.51 1226.19L983.51 1226.3L990.51 1226.39L997.51 1226.47L1004.51 1226.54L1011.51 1226.6L1018.51 1226.65L1025.51 1226.7L1032.51 1226.74L1039.51 1226.78L1046.51 1226.81L1053.51 1226.84L1060.51 1226.87L1063.66 1226.88M772.6 1241.69L779.6 1241.71L786.6 1241.73L793.6 1241.76L800.6 1241.79L807.6 1241.81L814.6 1241.85L821.6 1241.89L828.6 1241.93L835.6 1241.98L842.6 1242.04L849.6 1242.11L856.6 1242.2L863.6 1242.31L870.6 1242.44L877.6 1242.61L884.6 1242.82L891.6 1243.11L898.6 1243.51L905.6 1244.03L912.6 1244.68L913.49 1244.77M913.51 1230.92L920.51 1231.35L927.51 1231.76L934.51 1232.13L941.51 1232.43L948.51 1232.69L955.51 1232.89L962.51 1233.06L969.51 1233.2L976.51 1233.31L983.51 1233.41L990.51 1233.49L997.51 1233.56L1004.51 1233.62L1011.51 1233.67L1018.51 1233.71L1025.51 1233.75L1032.51 1233.79L1039.51 1233.82L1046.51 1233.85L1053.51 1233.88L1060.51 1233.9L1063.66 1233.91M772.6 1248.52L779.6 1248.53L786.6 1248.55L793.6 1248.57L800.6 1248.59L807.6 1248.61L814.6 1248.63L821.6 1248.66L828.6 1248.7L835.6 1248.73L842.6 1248.78L849.6 1248.83L856.6 1248.9L863.6 1248.98L870.6 1249.09L877.6 1249.23L884.6 1249.42L891.6 1249.68L898.6 1250.08L905.6 1250.68L912.6 1251.57L913.49 1251.7M913.51 1237.85L920.51 1238.38L927.51 1238.88L934.51 1239.3L941.51 1239.62L948.51 1239.88L955.51 1240.07L962.51 1240.22L969.51 1240.35L976.51 1240.45L983.51 1240.53L990.51 1240.59L997.51 1240.65L1004.51 1240.7L1011.51 1240.74L1018.51 1240.78L1025.51 1240.81L1032.51 1240.84L1039.51 1240.87L1046.51 1240.89L1053.51 1240.91L1060.51 1240.93L1063.66 1240.94M772.6 1255.34L779.6 1255.35L786.6 1255.36L793.6 1255.37L800.6 1255.39L807.6 1255.4L814.6 1255.42L821.6 1255.43L828.6 1255.46L835.6 1255.48L842.6 1255.51L849.6 1255.54L856.6 1255.59L863.6 1255.64L870.6 1255.71L877.6 1255.81L884.6 1255.94L891.6 1256.14L898.6 1256.48L905.6 1257.09L912.6 1258.39L913.49 1258.63M913.51 1244.78L920.51 1245.49L927.51 1246.1L934.51 1246.57L941.51 1246.89L948.51 1247.13L955.51 1247.29L962.51 1247.42L969.51 1247.52L976.51 1247.6L983.51 1247.66L990.51 1247.71L997.51 1247.76L1004.51 1247.79L1011.51 1247.82L1018.51 1247.85L1025.51 1247.88L1032.51 1247.9L1039.51 1247.92L1046.51 1247.93L1053.51 1247.95L1060.51 1247.96L1063.66 1247.97M772.6 1262.17L779.6 1262.17L786.6 1262.17L793.6 1262.18L800.6 1262.18L807.6 1262.19L814.6 1262.2L821.6 1262.2L828.6 1262.21L835.6 1262.22L842.6 1262.23L849.6 1262.25L856.6 1262.26L863.6 1262.29L870.6 1262.31L877.6 1262.35L884.6 1262.41L891.6 1262.5L898.6 1262.66L905.6 1263.02L912.6 1264.59L913.49 1265.54M913.51 1251.71L920.51 1252.75L927.51 1253.52L934.51 1253.99L941.51 1254.26L948.51 1254.44L955.51 1254.56L962.51 1254.65L969.51 1254.71L976.51 1254.76L983.51 1254.8L990.51 1254.84L997.51 1254.87L1004.51 1254.89L1011.51 1254.91L1018.51 1254.93L1025.51 1254.94L1032.51 1254.96L1039.51 1254.97L1046.51 1254.98L1053.51 1254.99L1060.51 1255L1063.66 1255M772.6 1268.99L779.6 1268.99L786.6 1268.99L793.6 1268.98L800.6 1268.98L807.6 1268.98L814.6 1268.97L821.6 1268.97L828.6 1268.97L835.6 1268.96L842.6 1268.95L849.6 1268.95L856.6 1268.94L863.6 1268.92L870.6 1268.91L877.6 1268.88L884.6 1268.85L891.6 1268.8L898.6 1268.71L905.6 1268.49L912.6 1267.35L913.49 1266.45M913.51 1258.64L920.51 1260.55L927.51 1261.32L934.51 1261.59L941.51 1261.73L948.51 1261.81L955.51 1261.86L962.51 1261.89L969.51 1261.92L976.51 1261.94L983.51 1261.96L990.51 1261.97L997.51 1261.98L1004.51 1261.99L1011.51 1262L1018.51 1262.01L1025.51 1262.01L1032.51 1262.02L1039.51 1262.02L1046.51 1262.03L1053.51 1262.03L1060.51 1262.03L1063.66 1262.03M772.6 1275.81L779.6 1275.81L786.6 1275.8L793.6 1275.79L800.6 1275.78L807.6 1275.77L814.6 1275.75L821.6 1275.74L828.6 1275.72L835.6 1275.7L842.6 1275.68L849.6 1275.65L856.6 1275.61L863.6 1275.56L870.6 1275.5L877.6 1275.42L884.6 1275.31L891.6 1275.13L898.6 1274.83L905.6 1274.25L912.6 1272.81L913.49 1272.5M913.51 1272.49L920.51 1270.07L927.51 1269.49L934.51 1269.32L941.51 1269.25L948.51 1269.2L955.51 1269.17L962.51 1269.15L969.51 1269.13L976.51 1269.12L983.51 1269.11L990.51 1269.1L997.51 1269.1L1004.51 1269.09L1011.51 1269.09L1018.51 1269.08L1025.51 1269.08L1032.51 1269.08L1039.51 1269.08L1046.51 1269.07L1053.51 1269.07L1060.51 1269.07L1063.66 1269.07M772.6 1282.64L779.6 1282.63L786.6 1282.61L793.6 1282.6L800.6 1282.58L807.6 1282.56L814.6 1282.54L821.6 1282.51L828.6 1282.48L835.6 1282.44L842.6 1282.4L849.6 1282.35L856.6 1282.29L863.6 1282.22L870.6 1282.12L877.6 1281.99L884.6 1281.81L891.6 1281.56L898.6 1281.17L905.6 1280.55L912.6 1279.58L913.49 1279.43M913.51 1279.42L920.51 1278.24L927.51 1277.42L934.51 1276.98L941.51 1276.73L948.51 1276.58L955.51 1276.47L962.51 1276.4L969.51 1276.34L976.51 1276.3L983.51 1276.27L990.51 1276.24L997.51 1276.21L1004.51 1276.19L1011.51 1276.18L1018.51 1276.16L1025.51 1276.15L1032.51 1276.14L1039.51 1276.13L1046.51 1276.12L1053.51 1276.11L1060.51 1276.1L1063.66 1276.1M772.6 1289.46L779.6 1289.45L786.6 1289.43L793.6 1289.4L800.6 1289.38L807.6 1289.35L814.6 1289.32L821.6 1289.28L828.6 1289.24L835.6 1289.19L842.6 1289.14L849.6 1289.07L856.6 1288.99L863.6 1288.89L870.6 1288.76L877.6 1288.6L884.6 1288.39L891.6 1288.1L898.6 1287.71L905.6 1287.16L912.6 1286.45L913.49 1286.36M913.51 1286.35L920.51 1285.58L927.51 1284.92L934.51 1284.45L941.51 1284.13L948.51 1283.91L955.51 1283.75L962.51 1283.63L969.51 1283.54L976.51 1283.47L983.51 1283.41L990.51 1283.37L997.51 1283.33L1004.51 1283.29L1011.51 1283.26L1018.51 1283.24L1025.51 1283.22L1032.51 1283.2L1039.51 1283.18L1046.51 1283.16L1053.51 1283.15L1060.51 1283.14L1063.66 1283.13M772.6 1296.29L779.6 1296.27L786.6 1296.24L793.6 1296.21L800.6 1296.18L807.6 1296.15L814.6 1296.11L821.6 1296.06L828.6 1296.01L835.6 1295.95L842.6 1295.88L849.6 1295.8L856.6 1295.7L863.6 1295.59L870.6 1295.44L877.6 1295.26L884.6 1295.03L891.6 1294.74L898.6 1294.37L905.6 1293.9L912.6 1293.36L913.49 1293.29M913.51 1293.28L920.51 1292.71L927.51 1292.18L934.51 1291.75L941.51 1291.42L948.51 1291.17L955.51 1290.98L962.51 1290.84L969.51 1290.72L976.51 1290.63L983.51 1290.55L990.51 1290.49L997.51 1290.43L1004.51 1290.39L1011.51 1290.35L1018.51 1290.31L1025.51 1290.28L1032.51 1290.25L1039.51 1290.23L1046.51 1290.21L1053.51 1290.19L1060.51 1290.17L1063.66 1290.16M772.6 1303.12L779.6 1303.09L786.6 1303.06L793.6 1303.03L800.6 1302.99L807.6 1302.95L814.6 1302.9L821.6 1302.85L828.6 1302.79L835.6 1302.72L842.6 1302.64L849.6 1302.55L856.6 1302.44L863.6 1302.31L870.6 1302.15L877.6 1301.96L884.6 1301.73L891.6 1301.45L898.6 1301.11L905.6 1300.72L912.6 1300.27L913.49 1300.22M913.51 1300.21L920.51 1299.76L927.51 1299.32L934.51 1298.95L941.51 1298.63L948.51 1298.38L955.51 1298.17L962.51 1298.01L969.51 1297.88L976.51 1297.77L983.51 1297.67L990.51 1297.6L997.51 1297.53L1004.51 1297.47L1011.51 1297.42L1018.51 1297.38L1025.51 1297.34L1032.51 1297.31L1039.51 1297.28L1046.51 1297.25L1053.51 1297.23L1060.51 1297.2L1063.66 1297.19M772.6 1309.95L779.6 1309.92L786.6 1309.88L793.6 1309.84L800.6 1309.8L807.6 1309.75L814.6 1309.7L821.6 1309.64L828.6 1309.57L835.6 1309.5L842.6 1309.41L849.6 1309.31L856.6 1309.19L863.6 1309.05L870.6 1308.89L877.6 1308.7L884.6 1308.47L891.6 1308.21L898.6 1307.91L905.6 1307.56L912.6 1307.19L913.49 1307.15M913.51 1307.14L920.51 1306.76L927.51 1306.4L934.51 1306.07L941.51 1305.78L948.51 1305.53L955.51 1305.33L962.51 1305.15L969.51 1305.01L976.51 1304.89L983.51 1304.78L990.51 1304.7L997.51 1304.62L1004.51 1304.55L1011.51 1304.5L1018.51 1304.44L1025.51 1304.4L1032.51 1304.36L1039.51 1304.32L1046.51 1304.29L1053.51 1304.26L1060.51 1304.23L1063.66 1304.22M772.6 1316.78L779.6 1316.75L786.6 1316.71L793.6 1316.67L800.6 1316.62L807.6 1316.57L814.6 1316.51L821.6 1316.44L828.6 1316.37L835.6 1316.29L842.6 1316.19L849.6 1316.08L856.6 1315.96L863.6 1315.82L870.6 1315.66L877.6 1315.47L884.6 1315.26L891.6 1315.01L898.6 1314.74L905.6 1314.44L912.6 1314.12L913.49 1314.08M913.51 1314.07L920.51 1313.75L927.51 1313.43L934.51 1313.14L941.51 1312.88L948.51 1312.64L955.51 1312.44L962.51 1312.27L969.51 1312.12L976.51 1311.99L983.51 1311.88L990.51 1311.78L997.51 1311.7L1004.51 1311.63L1011.51 1311.56L1018.51 1311.5L1025.51 1311.45L1032.51 1311.41L1039.51 1311.36L1046.51 1311.33L1053.51 1311.29L1060.51 1311.26L1063.66 1311.25M772.6 1323.62L779.6 1323.58L786.6 1323.54L793.6 1323.49L800.6 1323.44L807.6 1323.38L814.6 1323.32L821.6 1323.25L828.6 1323.17L835.6 1323.08L842.6 1322.99L849.6 1322.88L856.6 1322.75L863.6 1322.61L870.6 1322.45L877.6 1322.27L884.6 1322.06L891.6 1321.84L898.6 1321.59L905.6 1321.32L912.6 1321.04L913.49 1321.01M913.51 1321L920.51 1320.72L927.51 1320.44L934.51 1320.18L941.51 1319.94L948.51 1319.72L955.51 1319.53L962.51 1319.36L969.51 1319.21L976.51 1319.07L983.51 1318.96L990.51 1318.86L997.51 1318.77L1004.51 1318.69L1011.51 1318.62L1018.51 1318.56L1025.51 1318.5L1032.51 1318.45L1039.51 1318.4L1046.51 1318.36L1053.51 1318.32L1060.51 1318.29L1063.66 1318.27M772.6 1330.46L779.6 1330.42L786.6 1330.37L793.6 1330.32L800.6 1330.27L807.6 1330.21L814.6 1330.14L821.6 1330.06L828.6 1329.98L835.6 1329.89L842.6 1329.79L849.6 1329.68L856.6 1329.55L863.6 1329.41L870.6 1329.26L877.6 1329.08L884.6 1328.89L891.6 1328.68L898.6 1328.46L905.6 1328.22L912.6 1327.97L913.49 1327.94M913.51 1327.93L920.51 1327.68L927.51 1327.44L934.51 1327.2L941.51 1326.98L948.51 1326.77L955.51 1326.59L962.51 1326.42L969.51 1326.27L976.51 1326.14L983.51 1326.02L990.51 1325.92L997.51 1325.83L1004.51 1325.74L1011.51 1325.67L1018.51 1325.6L1025.51 1325.54L1032.51 1325.48L1039.51 1325.43L1046.51 1325.39L1053.51 1325.35L1060.51 1325.31L1063.66 1325.29M772.6 1337.3L779.6 1337.26L786.6 1337.21L793.6 1337.16L800.6 1337.1L807.6 1337.03L814.6 1336.96L821.6 1336.89L828.6 1336.8L835.6 1336.71L842.6 1336.61L849.6 1336.5L856.6 1336.37L863.6 1336.23L870.6 1336.08L877.6 1335.92L884.6 1335.74L891.6 1335.54L898.6 1335.34L905.6 1335.12L912.6 1334.89L913.49 1334.87M913.51 1334.86L920.51 1334.64L927.51 1334.42L934.51 1334.2L941.51 1334L948.51 1333.81L955.51 1333.63L962.51 1333.47L969.51 1333.33L976.51 1333.2L983.51 1333.08L990.51 1332.97L997.51 1332.87L1004.51 1332.79L1011.51 1332.71L1018.51 1332.64L1025.51 1332.58L1032.51 1332.52L1039.51 1332.46L1046.51 1332.41L1053.51 1332.37L1060.51 1332.33L1063.66 1332.31M772.6 1344.15L779.6 1344.1L786.6 1344.05L793.6 1343.99L800.6 1343.93L807.6 1343.87L814.6 1343.8L821.6 1343.72L828.6 1343.63L835.6 1343.54L842.6 1343.44L849.6 1343.33L856.6 1343.2L863.6 1343.07L870.6 1342.92L877.6 1342.77L884.6 1342.6L891.6 1342.41L898.6 1342.22L905.6 1342.02L912.6 1341.82L913.49 1341.8M913.51 1341.79L920.51 1341.59L927.51 1341.39L934.51 1341.19L941.51 1341L948.51 1340.82L955.51 1340.66L962.51 1340.5L969.51 1340.36L976.51 1340.24L983.51 1340.12L990.51 1340.01L997.51 1339.91L1004.51 1339.83L1011.51 1339.75L1018.51 1339.67L1025.51 1339.61L1032.51 1339.54L1039.51 1339.49L1046.51 1339.44L1053.51 1339.39L1060.51 1339.34L1063.66 1339.33M772.6 1351L779.6 1350.95L786.6 1350.9L793.6 1350.84L800.6 1350.78L807.6 1350.71L814.6 1350.63L821.6 1350.56L828.6 1350.47L835.6 1350.38L842.6 1350.27L849.6 1350.16L856.6 1350.04L863.6 1349.91L870.6 1349.77L877.6 1349.62L884.6 1349.46L891.6 1349.3L898.6 1349.12L905.6 1348.94L912.6 1348.75L913.49 1348.73M913.51 1348.72L920.51 1348.54L927.51 1348.35L934.51 1348.17L941.51 1347.99L948.51 1347.83L955.51 1347.67L962.51 1347.52L969.51 1347.39L976.51 1347.26L983.51 1347.15L990.51 1347.04L997.51 1346.94L1004.51 1346.86L1011.51 1346.77L1018.51 1346.7L1025.51 1346.63L1032.51 1346.57L1039.51 1346.51L1046.51 1346.45L1053.51 1346.4L1060.51 1346.36L1063.66 1346.34M772.6 1357.85L779.6 1357.8L786.6 1357.74L793.6 1357.69L800.6 1357.62L807.6 1357.55L814.6 1357.48L821.6 1357.4L828.6 1357.31L835.6 1357.22L842.6 1357.12L849.6 1357.01L856.6 1356.89L863.6 1356.77L870.6 1356.63L877.6 1356.49L884.6 1356.34L891.6 1356.18L898.6 1356.02L905.6 1355.85L912.6 1355.68L913.49 1355.66M913.51 1355.65L920.51 1355.48L927.51 1355.31L934.51 1355.14L941.51 1354.98L948.51 1354.82L955.51 1354.67L962.51 1354.53L969.51 1354.4L976.51 1354.28L983.51 1354.17L990.51 1354.06L997.51 1353.97L1004.51 1353.88L1011.51 1353.79L1018.51 1353.72L1025.51 1353.65L1032.51 1353.58L1039.51 1353.52L1046.51 1353.47L1053.51 1353.42L1060.51 1353.37L1063.66 1353.35M772.6 1364.71L779.6 1364.65L786.6 1364.6L793.6 1364.54L800.6 1364.47L807.6 1364.4L814.6 1364.33L821.6 1364.25L828.6 1364.16L835.6 1364.07L842.6 1363.97L849.6 1363.87L856.6 1363.75L863.6 1363.63L870.6 1363.5L877.6 1363.37L884.6 1363.23L891.6 1363.08L898.6 1362.92L905.6 1362.77L912.6 1362.61L913.49 1362.59M913.51 1362.58L920.51 1362.42L927.51 1362.26L934.51 1362.11L941.51 1361.96L948.51 1361.81L955.51 1361.67L962.51 1361.53L969.51 1361.41L976.51 1361.29L983.51 1361.18L990.51 1361.08L997.51 1360.98L1004.51 1360.89L1011.51 1360.81L1018.51 1360.73L1025.51 1360.66L1032.51 1360.6L1039.51 1360.53L1046.51 1360.48L1053.51 1360.42L1060.51 1360.37L1063.66 1360.35M772.6 1371.57L779.6 1371.51L786.6 1371.46L793.6 1371.39L800.6 1371.33L807.6 1371.26L814.6 1371.18L821.6 1371.1L828.6 1371.02L835.6 1370.93L842.6 1370.83L849.6 1370.73L856.6 1370.62L863.6 1370.5L870.6 1370.38L877.6 1370.25L884.6 1370.11L891.6 1369.97L898.6 1369.83L905.6 1369.68L912.6 1369.53L913.49 1369.52M913.51 1369.51L920.51 1369.36L927.51 1369.22L934.51 1369.07L941.51 1368.93L948.51 1368.79L955.51 1368.65L962.51 1368.53L969.51 1368.41L976.51 1368.29L983.51 1368.18L990.51 1368.08L997.51 1367.99L1004.51 1367.9L1011.51 1367.82L1018.51 1367.74L1025.51 1367.67L1032.51 1367.6L1039.51 1367.54L1046.51 1367.48L1053.51 1367.43L1060.51 1367.38L1063.66 1367.35M772.6 1378.43L779.6 1378.37L786.6 1378.32L793.6 1378.25L800.6 1378.19L807.6 1378.12L814.6 1378.04L821.6 1377.97L828.6 1377.88L835.6 1377.79L842.6 1377.7L849.6 1377.6L856.6 1377.49L863.6 1377.38L870.6 1377.26L877.6 1377.14L884.6 1377.01L891.6 1376.88L898.6 1376.74L905.6 1376.6L912.6 1376.46L913.49 1376.44M913.51 1376.44L920.51 1376.3L927.51 1376.16L934.51 1376.03L941.51 1375.89L948.51 1375.76L955.51 1375.63L962.51 1375.51L969.51 1375.4L976.51 1375.29L983.51 1375.18L990.51 1375.08L997.51 1374.99L1004.51 1374.9L1011.51 1374.82L1018.51 1374.75L1025.51 1374.67L1032.51 1374.61L1039.51 1374.54L1046.51 1374.48L1053.51 1374.43L1060.51 1374.38L1063.66 1374.35M772.6 1385.29L779.6 1385.24L786.6 1385.18L793.6 1385.12L800.6 1385.05L807.6 1384.98L814.6 1384.91L821.6 1384.83L828.6 1384.75L835.6 1384.66L842.6 1384.57L849.6 1384.47L856.6 1384.37L863.6 1384.26L870.6 1384.15L877.6 1384.03L884.6 1383.91L891.6 1383.78L898.6 1383.65L905.6 1383.52L912.6 1383.39L913.49 1383.37M913.51 1383.37L920.51 1383.24L927.51 1383.11L934.51 1382.98L941.51 1382.85L948.51 1382.73L955.51 1382.61L962.51 1382.49L969.51 1382.38L976.51 1382.28L983.51 1382.17L990.51 1382.08L997.51 1381.99L1004.51 1381.9L1011.51 1381.82L1018.51 1381.74L1025.51 1381.67L1032.51 1381.61L1039.51 1381.54L1046.51 1381.48L1053.51 1381.43L1060.51 1381.37L1063.66 1381.35M772.6 1392.16L779.6 1392.11L786.6 1392.05L793.6 1391.99L800.6 1391.92L807.6 1391.85L814.6 1391.78L821.6 1391.7L828.6 1391.62L835.6 1391.53L842.6 1391.44L849.6 1391.35L856.6 1391.25L863.6 1391.14L870.6 1391.04L877.6 1390.92L884.6 1390.81L891.6 1390.69L898.6 1390.57L905.6 1390.45L912.6 1390.32L913.49 1390.3M913.51 1390.3L920.51 1390.18L927.51 1390.06L934.51 1389.93L941.51 1389.81L948.51 1389.69L955.51 1389.58L962.51 1389.47L969.51 1389.36L976.51 1389.26L983.51 1389.16L990.51 1389.07L997.51 1388.98L1004.51 1388.89L1011.51 1388.81L1018.51 1388.74L1025.51 1388.67L1032.51 1388.6L1039.51 1388.54L1046.51 1388.48L1053.51 1388.42L1060.51 1388.37L1063.66 1388.34M772.6 1399.03L779.6 1398.98L786.6 1398.92L793.6 1398.86L800.6 1398.79L807.6 1398.72L814.6 1398.65L821.6 1398.58L828.6 1398.5L835.6 1398.41L842.6 1398.32L849.6 1398.23L856.6 1398.13L863.6 1398.03L870.6 1397.93L877.6 1397.82L884.6 1397.71L891.6 1397.6L898.6 1397.48L905.6 1397.37L912.6 1397.25L913.49 1397.23M913.51 1397.23L920.51 1397.12L927.51 1397L934.51 1396.88L941.51 1396.77L948.51 1396.66L955.51 1396.55L962.51 1396.44L969.51 1396.34L976.51 1396.24L983.51 1396.14L990.51 1396.05L997.51 1395.97L1004.51 1395.88L1011.51 1395.8L1018.51 1395.73L1025.51 1395.66L1032.51 1395.59L1039.51 1395.53L1046.51 1395.47L1053.51 1395.41L1060.51 1395.36L1063.66 1395.33M772.6 1405.91L779.6 1405.85L786.6 1405.79L793.6 1405.73L800.6 1405.67L807.6 1405.6L814.6 1405.53L821.6 1405.45L828.6 1405.38L835.6 1405.29L842.6 1405.21L849.6 1405.12L856.6 1405.02L863.6 1404.93L870.6 1404.83L877.6 1404.73L884.6 1404.62L891.6 1404.51L898.6 1404.4L905.6 1404.29L912.6 1404.18L913.49 1404.16M913.51 1404.16L920.51 1404.05L927.51 1403.94L934.51 1403.83L941.51 1403.72L948.51 1403.61L955.51 1403.51L962.51 1403.41L969.51 1403.31L976.51 1403.21L983.51 1403.12L990.51 1403.03L997.51 1402.95L1004.51 1402.87L1011.51 1402.79L1018.51 1402.72L1025.51 1402.65L1032.51 1402.58L1039.51 1402.52L1046.51 1402.46L1053.51 1402.4L1060.51 1402.35L1063.66 1402.32M772.6 1412.79L779.6 1412.73L786.6 1412.67L793.6 1412.61L800.6 1412.55L807.6 1412.48L814.6 1412.41L821.6 1412.34L828.6 1412.26L835.6 1412.18L842.6 1412.09L849.6 1412.01L856.6 1411.92L863.6 1411.82L870.6 1411.73L877.6 1411.63L884.6 1411.53L891.6 1411.43L898.6 1411.32L905.6 1411.22L912.6 1411.11L913.49 1411.09M913.51 1411.09L920.51 1410.99L927.51 1410.88L934.51 1410.78L941.51 1410.67L948.51 1410.57L955.51 1410.47L962.51 1410.37L969.51 1410.28L976.51 1410.18L983.51 1410.09L990.51 1410.01L997.51 1409.93L1004.51 1409.85L1011.51 1409.77L1018.51 1409.7L1025.51 1409.63L1032.51 1409.56L1039.51 1409.5L1046.51 1409.44L1053.51 1409.38L1060.51 1409.33L1063.66 1409.31M772.6 1419.67L779.6 1419.61L786.6 1419.55L793.6 1419.49L800.6 1419.43L807.6 1419.36L814.6 1419.29L821.6 1419.22L828.6 1419.14L835.6 1419.07L842.6 1418.98L849.6 1418.9L856.6 1418.81L863.6 1418.72L870.6 1418.63L877.6 1418.54L884.6 1418.44L891.6 1418.34L898.6 1418.24L905.6 1418.14L912.6 1418.04L913.49 1418.02M913.51 1418.02L920.51 1417.92L927.51 1417.82L934.51 1417.72L941.51 1417.62L948.51 1417.52L955.51 1417.43L962.51 1417.33L969.51 1417.24L976.51 1417.15L983.51 1417.06L990.51 1416.98L997.51 1416.9L1004.51 1416.82L1011.51 1416.75L1018.51 1416.68L1025.51 1416.61L1032.51 1416.55L1039.51 1416.48L1046.51 1416.42L1053.51 1416.37L1060.51 1416.31L1063.66 1416.29M772.6 1426.55L779.6 1426.49L786.6 1426.43L793.6 1426.37L800.6 1426.31L807.6 1426.25L814.6 1426.18L821.6 1426.11L828.6 1426.03L835.6 1425.96L842.6 1425.88L849.6 1425.8L856.6 1425.71L863.6 1425.63L870.6 1425.54L877.6 1425.44L884.6 1425.35L891.6 1425.26L898.6 1425.16L905.6 1425.06L912.6 1424.97L913.49 1424.95M913.51 1424.95L920.51 1424.86L927.51 1424.76L934.51 1424.66L941.51 1424.57L948.51 1424.47L955.51 1424.38L962.51 1424.29L969.51 1424.2L976.51 1424.12L983.51 1424.03L990.51 1423.95L997.51 1423.87L1004.51 1423.8L1011.51 1423.73L1018.51 1423.66L1025.51 1423.59L1032.51 1423.52L1039.51 1423.46L1046.51 1423.4L1053.51 1423.35L1060.51 1423.29L1063.66 1423.27M772.6 1433.43L779.6 1433.38L786.6 1433.32L793.6 1433.26L800.6 1433.2L807.6 1433.13L814.6 1433.07L821.6 1433L828.6 1432.93L835.6 1432.85L842.6 1432.77L849.6 1432.69L856.6 1432.61L863.6 1432.53L870.6 1432.44L877.6 1432.35L884.6 1432.27L891.6 1432.17L898.6 1432.08L905.6 1431.99L912.6 1431.9L913.49 1431.88M913.51 1431.88L920.51 1431.79L927.51 1431.7L934.51 1431.61L941.51 1431.51L948.51 1431.42L955.51 1431.33L962.51 1431.25L969.51 1431.16L976.51 1431.08L983.51 1431L990.51 1430.92L997.51 1430.84L1004.51 1430.77L1011.51 1430.7L1018.51 1430.63L1025.51 1430.56L1032.51 1430.5L1039.51 1430.44L1046.51 1430.38L1053.51 1430.32L1060.51 1430.27L1063.66 1430.25M772.6 1440.32L779.6 1440.26L786.6 1440.21L793.6 1440.15L800.6 1440.09L807.6 1440.02L814.6 1439.96L821.6 1439.89L828.6 1439.82L835.6 1439.75L842.6 1439.67L849.6 1439.59L856.6 1439.52L863.6 1439.43L870.6 1439.35L877.6 1439.27L884.6 1439.18L891.6 1439.09L898.6 1439L905.6 1438.92L912.6 1438.83L913.49 1438.81M913.51 1438.81L920.51 1438.73L927.51 1438.64L934.51 1438.55L941.51 1438.46L948.51 1438.37L955.51 1438.29L962.51 1438.2L969.51 1438.12L976.51 1438.04L983.51 1437.96L990.51 1437.88L997.51 1437.81L1004.51 1437.74L1011.51 1437.67L1018.51 1437.6L1025.51 1437.54L1032.51 1437.47L1039.51 1437.41L1046.51 1437.36L1053.51 1437.3L1060.51 1437.25L1063.66 1437.22"/></g><path d="M837.29 1133.95v4.53M845.51 1132.84h4.53M880.66 1133.34h4.53M887.7 1133.45h4.53M894.75 1133.57h4.53M900.59 1134.88v4.53M914.68 1121.25v4.53M928.76 1121.46v4.53M936.99 1120.37h4.53M944.02 1120.47h4.53M951.05 1120.57h4.53M958.08 1120.67h4.53M963.91 1121.97v4.53M972.13 1120.86h4.53M991.99 1122.33v4.53M999 1122.41v4.53M1027.01 1122.7v4.53M775.44 1139h4.53M803.4 1139.24h4.53M824.41 1139.46h4.53M830.23 1140.74v4.53M970.97 1129.03v4.53M1028.26 1128.48h4.53M1035.26 1128.55h4.53M1048.04 1129.87v4.53M1056.23 1128.73h4.53M1063.21 1128.78h4.53M767.19 1147.01v4.53M781.16 1147.12v4.53M802.14 1147.31v4.53M859.47 1146.8h4.53M873.55 1147.02h4.53M894.71 1147.39h4.53M901.77 1147.52h4.53M922.93 1134.03h4.53M929.98 1134.15h4.53M942.87 1135.58v4.53M949.91 1135.69v4.53M958.15 1134.6h4.53M963.98 1135.9v4.53M972.21 1134.8h4.53M993.28 1135.08h4.53M1020.12 1136.6v4.53M1049.3 1135.66h4.53M1055.09 1136.92v4.53M768.33 1152.68h4.53M774.11 1153.93v4.53M781.1 1153.99v4.53M802.07 1154.17v4.53M817.28 1153.12h4.53M823.09 1154.4v4.53M837.13 1154.58v4.53M845.35 1153.47h4.53M908.82 1154.57h4.53M922.94 1140.97h4.53M956.98 1142.76v4.53M964.02 1142.87v4.53M972.26 1141.78h4.53M999.16 1143.36v4.53M1055.15 1143.91v4.53M768.26 1159.54h4.53M781.03 1160.85v4.53M789.22 1159.71h4.53M865.21 1161.87v4.53M880.53 1160.92h4.53M908.81 1161.49h4.53M921.75 1149.11v4.53M930.01 1148.04h4.53M935.87 1149.37v4.53M951.18 1148.42h4.53M957.03 1149.74v4.53M965.27 1148.65h4.53M979.34 1148.86h4.53M986.37 1148.96h4.53M992.2 1150.26v4.53M1021.45 1149.39h4.53M1028.45 1149.46h4.53M1034.24 1150.72v4.53M1063.39 1149.75h4.53M789.14 1166.56h4.53M865.15 1168.74v4.53M872.21 1168.87v4.53M893.43 1169.3v4.53M1007.5 1156.23h4.53M766.92 1174.46v4.53M796.06 1173.48h4.53M801.85 1174.74v4.53M815.86 1174.89v4.53M836.91 1175.15v4.53M887.51 1174.84h4.53M930.05 1161.94h4.53M937.12 1162.08h4.53M951.26 1162.36h4.53M985.3 1164.15v4.53M993.53 1163.05h4.53M1028.59 1163.46h4.53M766.85 1181.31v4.53M801.77 1181.59v4.53M836.83 1182v4.53M850.9 1182.21v4.53M894.56 1181.89h4.53M930.07 1168.89h4.53M943.04 1170.4v4.53M1006.45 1171.44v4.53M1014.66 1170.32h4.53M1020.47 1171.6v4.53M1027.47 1171.67v4.53M1035.66 1170.53h4.53M1048.44 1171.85v4.53M767.97 1186.97h4.53M773.74 1188.21v4.53M794.69 1188.37v4.53M802.88 1187.23h4.53M823.89 1187.45h4.53M836.73 1188.83v4.53M843.77 1188.94v4.53M880.3 1188.42h4.53M887.4 1188.59h4.53M894.52 1188.78h4.53M900.44 1190.17v4.53M908.77 1189.17h4.53M921.8 1176.88v4.53M930.1 1175.85h4.53M937.19 1176.01h4.53M943.08 1177.37v4.53M958.44 1176.47h4.53M1000.72 1177.17h4.53M1028.75 1177.48h4.53M1034.54 1178.74v4.53M1055.5 1178.91v4.53M794.6 1195.21v4.53M816.78 1194.2h4.53M908.75 1196.08h4.53M921.81 1183.82v4.53M950.23 1184.52v4.53M1006.62 1185.47v4.53M1042.82 1184.62h4.53M1055.58 1185.92v4.53M808.48 1202.16v4.53M829.5 1202.39v4.53M851.8 1201.5h4.53M857.66 1202.83v4.53M878.93 1203.31v4.53M886.06 1203.51v4.53M908.73 1202.99h4.53M958.6 1190.49h4.53M971.55 1191.98v4.53M993.88 1191.12h4.53M1021.93 1191.45h4.53M1062.64 1192.98v4.53M773.48 1208.74v4.53M795.6 1207.67h4.53M802.59 1207.73h4.53M816.57 1207.85h4.53M823.57 1207.92h4.53M901.5 1209.62h4.53M944.48 1197.16h4.53M950.4 1198.55v4.53M964.58 1198.87v4.53M971.66 1199.02v4.53M978.71 1199.14v4.53M992.79 1199.36v4.53M1013.84 1199.62v4.53M1029.03 1198.55h4.53M1036.01 1198.6h4.53M1056.95 1198.75h4.53M1063.92 1198.79h4.53M773.39 1215.58v4.53M801.28 1215.75v4.53M816.45 1214.66h4.53M836.27 1216.09v4.53M857.39 1216.43v4.53M871.57 1216.74v4.53M893.02 1217.41v4.53M900.23 1217.69v4.53M921.89 1204.69v4.53M930.26 1203.73h4.53M972.98 1204.87h4.53M987.08 1205.11h4.53M1034.92 1206.84v4.53M1062.81 1207.01v4.53M787.22 1222.48v4.53M795.39 1221.32h4.53M802.36 1221.36h4.53M885.7 1223.94v4.53M914.71 1211.37v4.53M923.13 1210.46h4.53M929.13 1211.93v4.53M943.48 1212.42v4.53M958.94 1211.62h4.53M978.97 1213.26v4.53M1014.06 1213.7v4.53M1035.02 1213.87v4.53M1048.97 1213.96v4.53M828.98 1229.59v4.53M837.18 1228.46h4.53M851.22 1228.64h4.53M857.06 1229.95v4.53M865.33 1228.89h4.53M872.42 1229.05h4.53M892.74 1230.99v4.53M901.22 1230.14h4.53M908.56 1230.55h4.53M951.97 1218.51h4.53M957.9 1219.91v4.53M980.32 1219.14h4.53M986.16 1220.45v4.53M993.18 1220.54v4.53M1007.19 1220.69v4.53M1035.13 1220.91v4.53M774.29 1234.87h4.53M787 1236.12v4.53M871 1236.97v4.53M878.12 1237.16v4.53M893.73 1236.51h4.53M901.05 1236.91h4.53M936.58 1226.31v4.53M979.29 1227.44v4.53M987.52 1226.34h4.53M1000.34 1227.7v4.53M1007.33 1227.76v4.53M1042.21 1227.99v4.53M829.86 1241.93h4.53M849.64 1243.32v4.53M877.85 1243.82v4.53M914.74 1232.19v4.53M922.13 1232.65v4.53M952.37 1232.77h4.53M973.64 1233.25h4.53M994.7 1233.52h4.53M1001.69 1233.58h4.53M765.94 1249.71v4.53M772.88 1249.72v4.53M787.97 1248.55h4.53M794.92 1248.57h4.53M801.87 1248.59h4.53M850.63 1248.84h4.53M863.43 1250.19v4.53M908.05 1250.86h4.53M914.76 1239.14v4.53M945.47 1239.73h4.53M965.61 1241.48v4.53M972.65 1241.59v4.53M993.67 1241.82v4.53M1021.56 1241.99v4.53M1028.53 1242.03v4.53M1043.64 1240.88h4.53M780.92 1255.35h4.53M787.85 1255.36h4.53M794.8 1255.37h4.53M828.33 1256.65v4.53M878.38 1255.81h4.53M899.85 1256.52h4.53M923.7 1245.69h4.53M945.82 1247.01h4.53M1000.82 1248.97v4.53M1007.79 1249.01v4.53M1022.9 1247.86h4.53M1050.7 1247.94h4.53M787.74 1262.17h4.53M835.09 1263.42v4.53M848.98 1263.45v4.53M884.98 1262.41h4.53M892 1262.5h4.53M899.07 1262.66h4.53M906.33 1263.1h4.53M916.08 1251.92h4.53M967.35 1254.68h4.53M988.28 1254.82h4.53M994.04 1256.05v4.53M1001 1256.08v4.53M1035.73 1256.16v4.53M1042.67 1256.17v4.53M1056.55 1256.19v4.53M1064.69 1255h4.53M779.49 1270.19v4.53M848.74 1270.16v4.53M855.66 1270.15v4.53M914.06 1269.7v4.53M960.69 1261.88h4.53M967.65 1261.91h4.53M974.6 1261.93h4.53M1001.18 1263.19v4.53M1049.73 1263.23v4.53M1063.59 1263.23v4.53M779.38 1277.01v4.53M786.3 1277v4.53M793.22 1276.99v4.53M807.06 1276.97v4.53M869.18 1276.71v4.53M877.23 1275.44h4.53M925.61 1270.78v4.53M933.52 1269.36h4.53M940.36 1269.27h4.53M966.75 1270.34v4.53M995.63 1269.1h4.53M1035.99 1270.28v4.53M1051.04 1269.07h4.53M1064.9 1269.07h4.53M780.46 1282.63h4.53M813.83 1283.74v4.53M821.93 1282.51h4.53M835.73 1282.45h4.53M868.88 1283.34v4.53M903.47 1280.85h4.53M926.6 1278.71v4.53M933.08 1278.25v4.53M939.74 1277.99v4.53M954.52 1276.5h4.53M973.93 1277.52v4.53M987.72 1277.45v4.53M1008.44 1277.38v4.53M1015.36 1277.37v4.53M1023.48 1276.16h4.53M1044.23 1276.12h4.53M1049.96 1277.32v4.53M1063.8 1277.3v4.53M780.36 1289.45h4.53M834.35 1290.4v4.53M841.23 1290.35v4.53M869.8 1288.8h4.53M882.13 1289.66v4.53M890.02 1288.22h4.53M895.42 1289.09v4.53M903.12 1287.45h4.53M914.55 1287.44v4.53M941.41 1284.18h4.53M946.91 1285.15v4.53M960.48 1284.86v4.53M967.32 1284.77v4.53M981.04 1284.63v4.53M989.12 1283.38h4.53M1001.71 1284.51v4.53M1036.24 1284.39v4.53M1044.35 1283.17h4.53M1058.18 1283.14h4.53M780.25 1296.27h4.53M785.95 1297.44v4.53M835.38 1295.96h4.53M849.1 1295.82h4.53M868.36 1296.69v4.53M876.33 1295.32h4.53M881.86 1296.32v4.53M896.35 1294.55h4.53M920.98 1293.88v4.53M961.96 1290.87h4.53M967.57 1291.95v4.53M975.6 1290.65h4.53M988.12 1291.71v4.53M1003.07 1290.4h4.53M1016.86 1290.33h4.53M1036.36 1291.44v4.53M1044.47 1290.22h4.53M1051.38 1290.2h4.53M785.84 1304.26v4.53M799.63 1304.19v4.53M806.52 1304.15v4.53M813.41 1304.11v4.53M821.49 1302.86h4.53M827.16 1304v4.53M854.55 1303.67v4.53M862.56 1302.35h4.53M874.91 1303.23v4.53M896.15 1301.29h4.53M902.74 1300.95h4.53M940.83 1299.86v4.53M954.24 1299.41v4.53M974.61 1298.99v4.53M989.5 1297.62h4.53M1022.69 1298.56v4.53M1037.68 1297.29h4.53M1043.38 1298.46v4.53M1050.29 1298.44v4.53M1064.1 1298.39v4.53M799.52 1311.01v4.53M814.48 1309.71h4.53M835.08 1309.52h4.53M841.92 1309.43h4.53M848.76 1309.34h4.53M861.18 1310.3v4.53M875.92 1308.78h4.53M896.01 1308.07h4.53M902.63 1307.77h4.53M908.03 1308.64v4.53M934.38 1307.28v4.53M947.73 1306.76v4.53M982.83 1304.81h4.53M989.67 1304.72h4.53M1029.7 1305.58v4.53M1037.8 1304.34h4.53M813.16 1317.72v4.53M820.03 1317.66v4.53M833.74 1317.51v4.53M869 1315.72h4.53M895.89 1314.89h4.53M901.35 1315.82v4.53M907.99 1315.53v4.53M922.44 1313.72h4.53M929.07 1313.42h4.53M935.72 1313.14h4.53M941.2 1314.09v4.53M949.1 1312.66h4.53M954.63 1313.67v4.53M968.17 1313.35v4.53M976.18 1312.02h4.53M1009.19 1312.78v4.53M1022.94 1312.67v4.53M1031.02 1311.42h4.53M1058.6 1311.28h4.53M1065.5 1311.25h4.53M786.73 1323.54h4.53M793.62 1323.5h4.53M806.17 1324.59v4.53M833.61 1324.31v4.53M841.65 1323.02h4.53M854.09 1323.99v4.53M868.87 1322.52h4.53M889.1 1321.96h4.53M901.29 1322.69v4.53M941.33 1321.15v4.53M961.55 1320.58v4.53M975.13 1320.3v4.53M989.97 1318.88h4.53M996.81 1318.79h4.53M1002.46 1319.91v4.53M1043.71 1319.58v4.53M1051.8 1318.34h4.53M1064.39 1319.47v4.53M786.64 1330.38h4.53M799.2 1331.48v4.53M807.27 1330.22h4.53M834.69 1329.92h4.53M840.33 1331.02v4.53M853.96 1330.8v4.53M861.96 1329.47h4.53M875.52 1329.17h4.53M881.07 1330.19v4.53M895.73 1328.59h4.53M907.93 1329.33v4.53M922.51 1327.65h4.53M948.16 1327.98v4.53M956.11 1326.6h4.53M1002.58 1326.97v4.53M1009.44 1326.89v4.53M1038.12 1325.45h4.53M1050.69 1326.56v4.53M779.66 1337.26h4.53M786.55 1337.22h4.53M820.89 1336.91h4.53M834.58 1336.74h4.53M855.05 1336.42h4.53M875.42 1336h4.53M895.67 1335.46h4.53M922.54 1334.61h4.53M961.8 1334.69v4.53M983.4 1333.1h4.53M1003.9 1332.81h4.53M1010.75 1332.73h4.53M1030.15 1333.74v4.53M805.87 1345.08v4.53M819.59 1344.94v4.53M834.48 1343.57h4.53M840.11 1344.67v4.53M853.75 1344.45v4.53M934.84 1342.38v4.53M941.59 1342.2v4.53M975.49 1341.45v4.53M1045.19 1339.45h4.53M1057.76 1340.56v4.53M827.55 1350.5h4.53M848.05 1350.21h4.53M854.86 1350.09h4.53M867.27 1351.04v4.53M882.04 1349.55h4.53M956.4 1347.68h4.53M793.17 1357.7h4.53M826.26 1358.54v4.53M833.1 1358.45v4.53M847.96 1357.05h4.53M853.58 1358.14v4.53M868.4 1356.7h4.53M880.78 1357.62v4.53M888.76 1356.27h4.53M909.07 1355.79h4.53M936.13 1355.13h4.53M963.26 1354.54h4.53M1016.7 1354.94v4.53M1052.24 1353.43h4.53M786.22 1364.61h4.53M793.09 1364.55h4.53M799.96 1364.49h4.53M806.82 1364.42h4.53M846.69 1365.11v4.53M860.33 1364.89v4.53M868.34 1363.57h4.53M887.52 1364.36v4.53M902.29 1362.87h4.53M909.06 1362.71h4.53M914.64 1363.76v4.53M936.17 1362.1h4.53M956.53 1361.67h4.53M983.77 1361.2h4.53M990.6 1361.09h4.53M1003.08 1362.11v4.53M1023.64 1361.88v4.53M1038.57 1360.55h4.53M798.69 1372.55v4.53M813.61 1371.21h4.53M846.62 1371.97v4.53M860.27 1371.76v4.53M895.48 1369.92h4.53M909.05 1369.64h4.53M915.84 1369.49h4.53M1004.36 1367.92h4.53M1018.06 1367.76h4.53M1038.65 1367.56h4.53M1066.16 1367.35h4.53M779.21 1378.39h4.53M784.88 1379.53v4.53M813.54 1378.07h4.53M834.09 1377.83h4.53M868.23 1377.32h4.53M895.46 1376.83h4.53M929.43 1376.15h4.53M941.83 1377.09v4.53M990.75 1375.1h4.53M996.39 1376.21v4.53M1003.23 1376.12v4.53M1010.08 1376.04v4.53M1018.13 1374.76h4.53M1023.79 1375.89v4.53M1030.65 1375.82v4.53M1059.34 1374.39h4.53M1066.22 1374.34h4.53M786.02 1385.2h4.53M806.62 1385.01h4.53M819.13 1386.06v4.53M840.87 1384.61h4.53M847.7 1384.51h4.53M853.33 1385.61v4.53M875 1384.09h4.53M888.63 1383.86h4.53M909.04 1383.48h4.53M970.32 1382.39h4.53M977.14 1382.28h4.53M989.61 1383.29v4.53M997.65 1382h4.53M1011.35 1381.84h4.53M1018.2 1381.76h4.53M1023.86 1382.89v4.53M1051.33 1382.64v4.53M1059.41 1381.39h4.53M779.08 1392.12h4.53M784.75 1393.26v4.53M813.41 1391.8h4.53M833.97 1391.57h4.53M839.61 1392.68v4.53M846.45 1392.59v4.53M874.97 1390.99h4.53M887.4 1391.96v4.53M922.65 1390.16h4.53M948.7 1390.89v4.53M956.72 1389.58h4.53M969.17 1390.57v4.53M997.71 1388.99h4.53M1018.26 1388.75h4.53M1023.92 1389.88v4.53M1037.65 1389.75v4.53M1045.72 1388.49h4.53M1066.35 1388.33h4.53M798.43 1400.01v4.53M820.21 1398.6h4.53M827.07 1398.53h4.53M839.56 1399.56v4.53M846.4 1399.47v4.53M854.44 1398.18h4.53M915.84 1397.22h4.53M997.77 1395.98h4.53M1018.32 1395.74h4.53M1023.98 1396.87v4.53M799.58 1405.69h4.53M825.82 1406.61v4.53M854.4 1405.07h4.53M860.04 1406.18v4.53M868.07 1404.88h4.53M874.9 1404.78h4.53M880.53 1405.88v4.53M922.67 1404.04h4.53M935.11 1405.02v4.53M956.79 1403.51h4.53M970.45 1403.31h4.53M989.77 1404.24v4.53M1003.47 1404.08v4.53M1010.32 1404v4.53M1025.24 1402.66h4.53M1037.77 1403.73v4.53M1044.64 1403.67v4.53M1051.52 1403.62v4.53M1065.27 1403.51v4.53M798.33 1413.77v4.53M839.47 1413.33v4.53M873.67 1412.89v4.53M880.51 1412.79v4.53M900.99 1412.48v4.53M935.13 1411.97v4.53M941.95 1411.87v4.53M956.82 1410.47h4.53M984.17 1410.1h4.53M997.87 1409.94h4.53M1010.37 1410.98v4.53M1024.09 1410.84v4.53M1032.16 1409.58h4.53M1066.52 1409.29h4.53M777.66 1420.83v4.53M791.41 1420.71v4.53M812.01 1420.52v4.53M825.72 1420.38v4.53M840.63 1419.02h4.53M866.81 1419.88v4.53M873.65 1419.79v4.53M888.52 1418.4h4.53M900.99 1419.41v4.53M915.85 1418.01h4.53M950.01 1417.52h4.53M969.32 1418.44v4.53M977.36 1417.16h4.53M1003.56 1418.03v4.53M1017.28 1417.89v4.53M1024.14 1417.82v4.53" stroke="#d8d8d8" stroke-width="2.4" opacity="0.75" fill="none" filter="url(#b05)"/><path d="M767.31 1131.07v4.16M774.29 1131.12v4.16M780.28 1132.18h11.09M787.27 1132.24h11.09M794.26 1132.3h11.09M801.26 1132.37h4.16M809.26 1131.44v4.16M816.26 1131.51v11.09M823.27 1131.59v11.09M829.28 1132.67h4.16M850.34 1132.93h11.09M858.36 1132.03v4.16M864.39 1133.13h4.16M872.43 1132.24v4.16M906.64 1133.8h11.09M921.72 1119.16v11.09M984.97 1120.04v4.16M1006.01 1120.29v11.09M1013.01 1120.36v6.93M1034.01 1120.57v4.16M1040 1121.63h6.93M1046.99 1121.69h6.93M1053.97 1121.74h6.93M1061.96 1120.8v11.09M766.25 1138.94h11.09M788.21 1138.11v11.09M795.2 1138.17v6.93M809.2 1138.31v4.16M836.24 1139.63h11.09M844.26 1138.72v11.09M865.35 1139.02v6.93M879.43 1139.24v6.93M886.48 1139.36v11.09M892.53 1140.48h4.16M899.58 1140.6h6.93M906.63 1140.72h4.16M914.68 1125.98v6.93M920.73 1127.1h6.93M928.77 1126.21v6.93M956.91 1126.63v6.93M978 1126.93v4.16M984.02 1128.02h4.16M991.03 1128.1h11.09M999.05 1127.19v6.93M1012.06 1128.34h6.93M1019.07 1128.42h6.93M1041.05 1127.61v4.16M773.18 1145.86h11.09M788.15 1144.98v6.93M795.14 1145.04v6.93M808.14 1146.18h4.16M823.15 1145.33v4.16M830.17 1145.42v4.16M836.19 1146.51h11.09M843.21 1146.6h4.16M864.31 1146.91h4.16M878.4 1147.14h6.93M906.63 1147.65h6.93M934.82 1134.26h4.16M977.04 1134.9h11.09M985.07 1133.99v11.09M998.1 1135.17h11.09M1006.11 1134.25v11.09M1027.12 1134.47v6.93M1041.11 1134.6v4.16M1062.07 1134.77v4.16M787.09 1152.84h4.16M808.08 1153.04h11.09M850.18 1153.57h11.09M865.26 1152.79v11.09M886.42 1153.16v4.16M892.49 1154.3h6.93M899.55 1154.43h4.16M927.79 1141.09h11.09M935.85 1140.21v11.09M941.89 1141.33h11.09M948.94 1141.45h6.93M977.09 1141.88h11.09M985.12 1140.98v11.09M992.14 1141.07v6.93M1005.17 1142.24h4.16M1012.18 1142.32h4.16M1019.18 1142.39h11.09M1040.17 1142.59h11.09M1062.13 1141.76v11.09M773.04 1159.59h11.09M802.01 1158.83v4.16M815.01 1159.98h6.93M822.02 1160.06h11.09M830.04 1159.15v11.09M837.06 1159.24v11.09M844.09 1159.34v4.16M850.12 1160.44h11.09M858.16 1159.55v6.93M899.54 1161.34h4.16M913.69 1147.78h6.93M941.92 1148.29h4.16M971.11 1147.76v11.09M1005.23 1149.23h4.16M1013.24 1148.31v4.16M1048.22 1148.64v11.09M765.99 1166.4h6.93M773.97 1165.45v11.09M794.94 1165.62v11.09M815.94 1165.84v11.09M828.97 1167.01h6.93M835.99 1167.1h4.16M844.02 1166.2v6.93M850.06 1167.31h4.16M858.1 1166.42v4.16M885.35 1167.95h11.09M900.52 1167.26v6.93M920.76 1154.85h4.16M928.83 1153.99v6.93M934.89 1155.12h11.09M949.02 1155.39h6.93M964.12 1154.63v6.93M970.16 1155.74h6.93M977.2 1155.85h6.93M984.24 1155.96h11.09M992.26 1155.05v11.09M998.28 1156.14h6.93M1013.31 1155.31v4.16M1019.31 1156.38h4.16M1033.31 1156.52h6.93M1041.3 1155.58v4.16M1048.29 1155.64v4.16M780.88 1172.36v11.09M807.85 1173.61h4.16M821.87 1173.77h4.16M829.89 1172.86v4.16M849.98 1174.16h4.16M857.03 1174.28h4.16M865.09 1173.41v6.93M879.23 1173.69v6.93M892.4 1175h11.09M900.49 1174.16v4.16M914.69 1160.64v4.16M920.77 1161.79h6.93M941.99 1162.22h6.93M956.12 1162.49h6.93M977.27 1162.85h4.16M998.35 1163.14h6.93M1006.37 1162.23v6.93M1012.38 1163.31h11.09M1020.39 1162.39v6.93M1048.36 1162.64v4.16M1062.33 1162.75v11.09M772.82 1180.16h6.93M793.78 1180.33h11.09M808.77 1179.46v4.16M814.77 1180.53h11.09M843.86 1179.9v4.16M856.95 1181.13h4.16M864.02 1181.27h6.93M871.09 1181.41h6.93M900.47 1181.07v6.93M906.58 1182.25h4.16M913.69 1168.57h6.93M920.78 1168.73h6.93M934.96 1169.05h11.09M949.11 1169.34h4.16M956.18 1169.48h11.09M963.24 1169.61h4.16M971.29 1168.73v11.09M978.34 1168.85v11.09M998.43 1170.15h11.09M1041.45 1169.59v11.09M1054.42 1170.7h11.09M786.7 1187.11h11.09M814.68 1187.37h11.09M849.81 1187.85h4.16M856.87 1187.98h11.09M864.93 1187.11v4.16M872.01 1187.26v6.93M913.7 1175.5h4.16M949.17 1176.33h11.09M978.42 1175.86v4.16M985.46 1175.97v11.09M1006.53 1176.25v6.93M1020.55 1176.41v4.16M1040.53 1177.6h4.16M1048.52 1176.66v11.09M1062.48 1176.76v11.09M765.69 1193.81h6.93M772.66 1193.86h6.93M786.61 1193.95h4.16M801.59 1193.07v11.09M808.58 1193.13v6.93M821.59 1194.28h11.09M828.61 1194.37h4.16M842.67 1194.57h6.93M849.71 1194.68h11.09M864.84 1193.95v6.93M871.92 1194.1v4.16M878.02 1195.27h4.16M885.14 1195.46h11.09M893.26 1194.65v6.93M899.4 1195.86h11.09M928.93 1181.81v6.93M936.04 1181.99v4.16M942.14 1183.16h6.93M957.32 1182.48v11.09M963.39 1183.62h6.93M971.45 1182.75v4.16M984.55 1183.99h6.93M998.61 1184.19h4.16M1020.64 1183.43v6.93M1026.64 1184.5h6.93M1048.6 1183.67v6.93M766.6 1199.66v4.16M780.54 1199.74v4.16M787.52 1199.79v6.93M794.5 1199.84v6.93M800.49 1200.9h6.93M815.48 1200.03v4.16M863.73 1201.77h11.09M871.82 1200.93v11.09M893.2 1201.52v4.16M913.7 1189.37h6.93M921.83 1188.57v6.93M928.96 1188.77v11.09M943.2 1189.15v11.09M950.31 1189.33v6.93M964.48 1189.64v4.16M977.6 1190.9h11.09M998.71 1191.22h6.93M1013.73 1190.38v4.16M1027.73 1190.52v4.16M1034.72 1190.58v4.16M1041.7 1190.63v6.93M1048.69 1190.69v11.09M1054.66 1191.73h4.16M766.51 1206.5v6.93M779.45 1207.58h6.93M787.43 1206.62v4.16M808.38 1206.78v11.09M835.4 1208.09h6.93M850.48 1207.31v11.09M857.53 1207.44v6.93M877.82 1208.93h4.16M885.96 1208.14v6.93M906.5 1209.89h11.09M929.01 1195.75v4.16M935.15 1196.96h4.16M985.76 1197.06v11.09M998.81 1198.25h4.16M1006.83 1197.34v4.16M1020.83 1197.48v4.16M1041.8 1197.66v4.16M1047.78 1198.71h6.93M766.42 1213.34v4.16M779.35 1214.41h11.09M787.32 1213.45v6.93M794.3 1213.5v6.93M822.25 1213.73v4.16M828.26 1214.81h6.93M843.3 1213.99v4.16M849.34 1215.1h11.09M863.47 1215.37h4.16M884.84 1215.96h4.16M907.47 1215.79v6.93M913.71 1203.24h6.93M935.22 1203.97h4.16M943.37 1203.18v4.16M950.5 1203.38v4.16M957.61 1203.56v6.93M963.7 1204.72h11.09M977.83 1204.99h4.16M998.93 1205.3h11.09M1005.94 1205.38h6.93M1012.95 1205.46h4.16M1026.93 1205.58h4.16M1040.89 1205.68h6.93M780.25 1220.24v4.16M808.14 1220.41v11.09M815.13 1220.47v6.93M829.12 1220.6v4.16M835.13 1221.68h6.93M842.15 1221.77h6.93M856.24 1222h4.16M864.31 1221.14v6.93M878.54 1221.51v4.16M891.9 1223.02h11.09M906.43 1223.68h6.93M936.32 1209.99v11.09M949.62 1211.43h4.16M970.91 1211.93h4.16M993.04 1211.27v6.93M1000.06 1211.36v11.09M1006.06 1212.43h11.09M1021.05 1211.56v6.93M1028.04 1211.62v11.09M1061.9 1212.83h4.16M765.24 1228.01h11.09M787.11 1227.1v6.93M807.02 1228.22h6.93M814 1228.27h11.09M821.98 1227.32v11.09M842.99 1227.54v6.93M878.35 1228.25v4.16M885.52 1228.5v4.16M913.72 1217.11h6.93M936.43 1217.03v4.16M942.62 1218.29h6.93M964.99 1217.87v4.16M971.07 1219.02h6.93M1013.19 1219.56h6.93M1021.17 1218.61v11.09M1028.15 1218.66v6.93M1041.1 1219.75h4.16M1048.07 1219.79h4.16M1055.03 1219.82h11.09M1061.99 1219.85h4.16M766.14 1233.85v4.16M780.04 1233.89v4.16M799.92 1234.98h6.93M814.86 1234.06v6.93M827.82 1235.16h6.93M835.82 1234.23v4.16M841.82 1235.3h11.09M848.83 1235.39h4.16M856.87 1234.49v4.16M863.92 1234.61v6.93M884.29 1236.2h11.09M906.27 1237.39h6.93M914.73 1223.05v4.16M921.04 1224.43h6.93M928.33 1224.79h11.09M942.79 1225.39h4.16M958.08 1224.82v6.93M964.17 1225.98h6.93M971.24 1226.12h4.16M992.33 1226.42h4.16M1013.32 1226.62h11.09M1020.3 1226.67h4.16M1028.27 1225.71v6.93M1035.24 1225.75v6.93M1049.17 1225.82v4.16M1056.13 1225.85v11.09M766.04 1240.68v4.16M786.89 1240.74v4.16M793.84 1240.76v6.93M799.8 1241.79h4.16M807.76 1240.82v4.16M814.72 1240.85v4.16M821.69 1240.89v6.93M834.64 1241.98h4.16M841.63 1242.04h4.16M862.69 1242.31h11.09M884.01 1242.85h6.93M892.25 1242.16v11.09M898.6 1243.59h4.16M906.12 1244.18h6.93M936.77 1231.23v4.16M957.29 1232.96h11.09M965.38 1232.12v11.09M985.49 1233.44h4.16M1006.48 1233.64h6.93M1013.46 1233.69h4.16M1020.43 1233.73h11.09M1027.4 1233.77h6.93M1034.36 1233.8h4.16M1055.23 1233.88h11.09M779.83 1247.53v6.93M807.62 1247.61v6.93M814.58 1247.63v4.16M821.53 1247.66v11.09M828.5 1247.7v11.09M835.47 1247.73v4.16M841.44 1248.78h6.93M856.42 1247.9v11.09M870.47 1248.09v4.16M884.66 1248.43v4.16M890.87 1249.72h6.93M899.22 1249.16v6.93M921.27 1238.52h4.16M928.7 1239.03h11.09M937.03 1238.43v11.09M950.43 1239.97h11.09M978.67 1240.48h4.16M1006.63 1240.72h6.93M1014.6 1239.76v4.16M1034.48 1240.85h6.93M1049.39 1239.9v6.93M1063.29 1239.94v6.93M764.84 1255.34h11.09M800.54 1254.39v6.93M806.48 1255.4h4.16M814.43 1254.42v11.09M841.24 1255.51h6.93M848.2 1255.54h11.09M855.18 1255.59h6.93M870.16 1254.71v11.09M890.38 1256.16h11.09M906.27 1256.28v6.93M914.8 1243.91v6.93M930.04 1245.3v4.16M937.4 1245.72v4.16M958.83 1246.36v11.09M965.87 1246.47v11.09M1013.75 1247.84h6.93M1028.66 1246.89v11.09M1035.61 1246.91v4.16M1041.55 1247.92h4.16M1055.45 1247.96h4.16M1062.39 1247.97h6.93M765.74 1261.16v11.09M772.67 1261.17v4.16M779.6 1261.17v6.93M792.47 1262.18h11.09M806.34 1262.19h4.16M821.21 1261.2v4.16M828.15 1261.21v4.16M855.92 1261.26v6.93M868.83 1262.31h11.09M921.95 1253.08h4.16M929.58 1253.76h11.09M936.89 1254.14h4.16M945.04 1253.36v4.16M958.15 1254.61h11.09M979.12 1254.79h4.16M1007.95 1253.9v11.09M1013.9 1254.92h6.93M1020.85 1254.94h11.09M1027.79 1254.95h11.09M1048.61 1254.98h6.93M786.42 1267.99v4.16M800.27 1267.99v11.09M806.2 1268.98h6.93M834.9 1267.97v4.16M841.82 1267.97v11.09M876.4 1267.92v4.16M882.3 1268.91h11.09M889.18 1268.89h6.93M908.96 1268.72h4.16M915.18 1258.29v6.93M924.01 1260.06v4.16M931.39 1260.5v11.09M979.35 1261.95h4.16M987.29 1260.96v11.09M994.24 1260.98v6.93M1008.12 1261v11.09M1014.05 1262h4.16M1020.99 1262.01h4.16M1027.92 1262.01h11.09M1042.79 1261.02v4.16M1055.66 1262.03h4.16M799.14 1275.78h11.09M812.97 1275.75h11.09M826.8 1275.72h11.09M840.62 1275.68h4.16M847.52 1275.65h4.16M854.42 1275.61h11.09M861.3 1275.57h11.09M881.86 1275.33h11.09M888.64 1275.17h6.93M896.33 1273.92v6.93M901.85 1274.45h6.93M913.34 1272.25h6.93M946.03 1268.21v11.09M951.93 1269.18h6.93M958.84 1269.16h11.09M973.67 1268.13v11.09M979.59 1269.12h11.09M986.51 1269.11h4.16M1001.36 1268.1v6.93M1007.28 1269.09h4.16M1015.21 1268.09v4.16M1021.13 1269.08h6.93M1028.06 1269.08h11.09M1041.91 1269.07h6.93M785.18 1282.61h4.16M800.01 1281.58v4.16M805.92 1282.56h11.09M840.42 1282.41h6.93M848.3 1281.36v6.93M875.69 1281.02v11.09M881.46 1281.87h4.16M889.18 1280.64v6.93M908.51 1279.16v11.09M914.49 1278.26v6.93M919.42 1278.28h11.09M946.51 1275.62v6.93M967.04 1275.36v11.09M979.82 1276.28h6.93M994.62 1275.22v4.16M1000.53 1276.2h6.93M1029.19 1275.14v11.09M786.07 1288.43v4.16M792.97 1288.41v4.16M799.88 1288.38v11.09M812.68 1289.32h11.09M819.58 1289.29h6.93M826.47 1289.25h4.16M848.1 1288.08v4.16M853.95 1289.01h4.16M861.79 1287.91v6.93M874.39 1288.65h6.93M907.29 1286.9h11.09M919.79 1285.56h4.16M933.6 1283.51v11.09M993.81 1283.34h4.16M1008.61 1282.28v6.93M1015.51 1282.25v11.09M1021.42 1283.23h6.93M1029.33 1282.21v6.93M1050.07 1282.16v6.93M1062.9 1283.13h6.93M806.65 1295.15v4.16M813.54 1295.11v6.93M826.31 1296.02h6.93M840.05 1295.9h4.16M853.74 1295.73h11.09M861.56 1294.62v4.16M901.69 1293.17v6.93M907.16 1293.71h11.09M913.58 1293.2h11.09M926.43 1292.19h11.09M933.95 1290.79v4.16M940.56 1290.47v6.93M947.24 1290.22v4.16M952.98 1291.02h6.93M980.25 1290.57h6.93M1007.76 1290.36h6.93M1021.55 1290.29h4.16M1056.09 1290.18h4.16M1064 1289.16v11.09M792.74 1302.03v6.93M834.03 1301.73v11.09M840.88 1301.66v6.93M881.63 1300.83v11.09M888.32 1300.58v6.93M907.08 1300.56h6.93M913.59 1300.14h6.93M926.63 1299.32h11.09M946.51 1298.41h6.93M960 1298.04h4.16M966.8 1297.91h4.16M981.45 1296.7v4.16M1001.03 1297.49h6.93M1008.91 1296.44v4.16M1014.8 1297.4h6.93M1028.58 1297.32h11.09M784.74 1309.89h11.09M791.63 1309.85h4.16M806.4 1308.76v4.16M820.15 1308.65v4.16M867.96 1307.95v4.16M887.15 1308.34h6.93M921.18 1305.73v6.93M940.04 1305.8h6.93M953.45 1305.36h11.09M960.21 1305.18h11.09M974.8 1303.92v4.16M1001.18 1304.57h11.09M1009.06 1303.52v4.16M1015.93 1303.46v11.09M1022.82 1303.42v6.93M1050.39 1303.27v6.93M1057.3 1303.25v11.09M1063.2 1304.22h6.93M778.74 1315.75v6.93M785.63 1315.71v11.09M806.28 1315.58v4.16M826.89 1315.39v6.93M839.58 1316.22h11.09M846.41 1316.12h4.16M854.22 1315v11.09M873.56 1315.55h6.93M880.3 1315.36h4.16M887.01 1315.14h6.93M960.39 1312.29h11.09M980.79 1311.9h11.09M987.63 1311.81h4.16M995.47 1310.72v4.16M1016.06 1310.52v4.16M1036.71 1310.38v6.93M1042.6 1311.34h4.16M1050.5 1310.31v6.93M813.04 1322.33v11.09M826.76 1322.19v4.16M859.88 1322.66h6.93M873.43 1322.35h6.93M880.17 1322.16h4.16M894.6 1320.73v4.16M906.96 1321.23h4.16M913.62 1320.96h4.16M920.28 1320.69h4.16M927.95 1319.43v11.09M934.63 1319.18v11.09M954.79 1318.55v11.09M980.94 1318.98h11.09M1022.06 1318.52h4.16M1028.94 1318.47h4.16M1057.49 1317.3v6.93M777.55 1330.42h6.93M792.32 1329.33v11.09M811.93 1330.15h4.16M819.79 1329.08v11.09M825.65 1330.01h6.93M847.15 1328.72v6.93M867.55 1328.33v4.16M913.62 1327.89h4.16M928.01 1326.42v6.93M941.43 1325.98v6.93M975.26 1325.16v4.16M982.08 1325.05v6.93M988.9 1324.94v11.09M1016.3 1324.62v4.16M1043.81 1324.41v11.09M1064.48 1324.29v4.16M792.22 1336.17v11.09M805.97 1336.05v11.09M811.83 1336.98h6.93M825.54 1336.83h6.93M839.21 1336.64h6.93M847.04 1335.54v4.16M860.65 1335.29v4.16M867.44 1335.15v11.09M880.98 1334.83v11.09M887.73 1334.65v11.09M900.19 1335.25h4.16M906.91 1335.04h11.09M914.63 1333.83v11.09M928.06 1333.4v11.09M941.52 1333v6.93M948.26 1332.81v4.16M955.02 1332.64v6.93M967.58 1333.35h11.09M974.38 1333.22h6.93M988.02 1332.99h4.16M994.86 1332.9h11.09M1016.41 1331.66v6.93M1023.28 1331.6v6.93M1050.79 1331.39v4.16M1057.67 1331.35v4.16M1064.57 1331.31v4.16M777.38 1344.11h11.09M785.26 1343.06v11.09M792.14 1343.01v4.16M825.44 1343.66h6.93M860.56 1342.13v6.93M874.13 1341.84v4.16M886.67 1342.52h4.16M906.9 1341.96h11.09M927.1 1341.37h11.09M954.12 1340.67h4.16M961.9 1339.52v4.16M982.31 1339.14v11.09M989.13 1339.03v11.09M994.96 1339.94h6.93M1002.81 1338.85v6.93M1008.66 1339.77h6.93M1016.51 1338.69v6.93M1023.38 1338.63v4.16M1063.65 1339.32h4.16M777.3 1350.96h11.09M797.92 1350.79h6.93M819.5 1349.58v4.16M833.19 1349.41v6.93M840.02 1349.31v4.16M859.47 1349.97h4.16M873.06 1349.7h6.93M886.61 1349.39h4.16M894.38 1348.23v6.93M901.13 1348.05v4.16M907.88 1347.87v6.93M914.63 1347.69v4.16M921.38 1347.51v4.16M928.13 1347.33v6.93M933.89 1348.16h11.09M940.65 1347.99h11.09M967.78 1347.4h4.16M982.41 1346.17v6.93M1001.9 1346.88h6.93M1009.75 1345.79v4.16M1015.61 1346.72h11.09M1029.34 1346.59h11.09M1036.21 1346.53h11.09M1044.08 1345.47v4.16M1050.96 1345.42v11.09M1057.84 1345.37v6.93M1064.73 1345.33v6.93M777.22 1357.81h11.09M784.1 1357.76h4.16M798.84 1356.64v4.16M804.7 1357.57h4.16M838.94 1357.16h4.16M873 1356.57h4.16M914.64 1354.63v6.93M940.7 1354.97h6.93M947.48 1354.82h11.09M955.27 1353.68v4.16M974.68 1354.3h11.09M982.49 1353.18v11.09M996.15 1352.99v6.93M1008.84 1353.81h6.93M1037.29 1352.54v11.09M1064.81 1352.34v4.16M811.48 1364.35h4.16M818.33 1364.28h4.16M825.18 1364.19h6.93M833.02 1363.1v4.16M838.86 1364.01h11.09M853.51 1362.8v11.09M873.94 1362.44v6.93M879.73 1363.3h4.16M893.31 1363.02h4.16M920.41 1362.4h4.16M928.19 1361.25v4.16M940.75 1361.95h4.16M947.54 1361.81h11.09M962.13 1360.54v4.16M975.75 1360.3v6.93M995.24 1361h4.16M1009.93 1359.83v4.16M1051.12 1359.44v6.93M1063.88 1360.34h11.09M777.07 1371.52h11.09M791.82 1370.41v6.93M804.55 1371.28h4.16M818.26 1371.13h6.93M825.11 1371.05h11.09M831.95 1370.96h4.16M839.79 1369.87v6.93M886.49 1370.06h11.09M927.21 1369.2h4.16M935 1368.06v11.09M940.79 1368.92h4.16M955.39 1367.66v6.93M962.19 1367.53v4.16M968 1368.42h11.09M995.32 1368.01h11.09M1009.01 1367.84h4.16M1044.32 1366.5v11.09M1050.2 1367.45h11.09M1058.07 1366.39v6.93M790.75 1378.27h11.09M798.62 1377.21v11.09M805.48 1377.14v6.93M819.19 1376.99v4.16M826.04 1376.91v4.16M839.73 1376.74v11.09M846.56 1376.64v6.93M852.39 1377.54h4.16M860.21 1376.43v6.93M873.84 1376.2v4.16M880.65 1376.08v4.16M886.46 1376.96h4.16M901.05 1375.69v11.09M906.85 1376.56h6.93M921.44 1375.29v4.16M955.44 1374.64v11.09M962.25 1374.52v11.09M968.06 1375.4h11.09M1043.39 1374.5h4.16M1050.27 1374.45h11.09M791.69 1384.14v6.93M812.27 1383.93v6.93M825.98 1383.78v6.93M832.83 1383.7v6.93M859.16 1384.31h11.09M880.62 1382.98v4.16M901.04 1382.61v6.93M913.64 1383.35h6.93M921.44 1382.22v11.09M940.86 1382.85h6.93M961.3 1382.5h6.93M1030.72 1380.62v6.93M1036.59 1381.56h11.09M1044.46 1380.5v4.16M1064.09 1381.34h6.93M797.49 1391.94h4.16M819.07 1390.73v11.09M852.29 1391.3h6.93M860.12 1390.2v4.16M879.58 1390.88h6.93M914.64 1389.28v4.16M934.07 1389.92h4.16M941.89 1388.81v4.16M962.34 1388.47v11.09M975 1389.27h6.93M981.83 1389.17h4.16M989.67 1388.08v11.09M1010.21 1387.83v4.16M1029.79 1388.62h6.93M776.82 1398.99h4.16M784.7 1397.94v4.16M790.57 1398.88h11.09M804.3 1398.75h4.16M811.16 1398.68h11.09M832.72 1397.45v4.16M859.07 1398.09h4.16M866.91 1396.99v4.16M872.73 1397.88h11.09M879.56 1397.78h11.09M886.38 1397.67h4.16M894.2 1396.56v6.93M900.01 1397.44h4.16M928.28 1395.99v11.09M935.09 1395.87v4.16M940.91 1396.76h11.09M955.55 1395.55v6.93M962.38 1395.44v11.09M969.21 1395.34v6.93M981.88 1396.15h11.09M989.72 1395.06v11.09M1003.41 1394.9v6.93M1030.85 1394.61v4.16M1036.71 1395.54h6.93M1043.58 1395.48h6.93M1051.46 1394.43v6.93M1057.33 1395.37h11.09M777.77 1404.87v11.09M783.64 1405.81h4.16M791.51 1404.75v6.93M805.24 1404.62v6.93M812.1 1404.55v4.16M818.96 1404.48v6.93M832.67 1404.33v4.16M839.51 1404.25v4.16M845.36 1405.16h6.93M887.36 1403.58v6.93M894.18 1403.47v11.09M901 1403.36v11.09M913.65 1404.15h6.93M927.29 1403.93h6.93M962.42 1402.41v6.93M976.09 1402.22v11.09M981.93 1403.13h4.16M995.62 1402.96h6.93M1016.18 1402.73h11.09M1030.9 1401.59v6.93M1058.39 1401.36v4.16M776.71 1412.75h11.09M804.19 1412.5h11.09M812.05 1411.43v4.16M818.91 1411.36v11.09M825.77 1411.29v6.93M832.62 1411.21v6.93M859 1411.87h6.93M865.84 1411.78h6.93M887.34 1410.49v6.93M893.17 1411.39h11.09M907.82 1410.18v6.93M914.65 1410.08v11.09M920.47 1410.97h6.93M927.3 1410.87h11.09M947.78 1410.57h4.16M962.45 1409.37v6.93M968.29 1410.28h11.09M975.13 1410.19h6.93M1002.52 1409.86h6.93M1017.23 1408.71v6.93M1043.7 1409.46h11.09M1051.57 1408.4v4.16M797.28 1419.45h6.93M804.14 1419.38h6.93M817.87 1419.25h11.09M845.28 1418.94h11.09M852.13 1418.86h6.93M859.97 1417.77v6.93M894.15 1417.3v4.16M906.82 1418.11h11.09M927.31 1417.81h4.16M934.14 1417.71h11.09M954.64 1417.42h4.16M983.01 1416.07v4.16M988.86 1416.99h6.93M996.71 1415.91v4.16M1009.42 1416.76h11.09M1031.01 1415.56v4.16M1036.88 1416.5h11.09M1044.75 1415.44v11.09M1051.62 1415.38v6.93M1057.5 1416.33h11.09M1064.38 1416.28h11.09" stroke="#4a4a4a" stroke-width="1.9" opacity="0.33" fill="none" filter="url(#b05)"/><g clip-path="url(#clipc2)" filter="url(#b05)" fill="none" stroke="#333" stroke-width="1.5" opacity="0.3"><path d="M883.48 1266.51L882.98 1273.51L882.54 1280.51L882.18 1287.51L881.88 1294.51M878.14 1235.5L877.86 1242.5L877.53 1249.5M890.41 1266.51L889.78 1273.51L889.25 1280.51L888.85 1287.51L888.55 1294.51M885.32 1235.5L885.03 1242.5L884.66 1249.5L884.21 1256.5L883.7 1263.5L883.48 1266.49M897.34 1266.51L896.48 1273.51L895.86 1280.51L895.44 1287.51L895.15 1294.51M892.57 1235.5L892.28 1242.5L891.88 1249.5L891.35 1256.5L890.7 1263.5L890.41 1266.49M904.27 1266.51L902.97 1273.51L902.29 1280.51L901.92 1287.51L901.69 1294.51M899.89 1235.5L899.65 1242.5L899.27 1249.5L898.65 1256.5L897.76 1263.5L897.34 1266.49M911.19 1266.51L908.99 1273.51L908.49 1280.51L908.27 1287.51L908.15 1294.51M907.3 1235.5L907.17 1242.5L906.92 1249.5L906.37 1256.5L905.02 1263.5L904.27 1266.49M913.42 1266.51L914.39 1273.51L914.51 1280.51L914.55 1287.51L914.58 1294.51M914.76 1235.5L914.79 1242.5L914.84 1249.5L915 1256.5L916.35 1263.5L918.13 1266.49M918.13 1266.51L919.95 1273.51L920.56 1280.51L920.85 1287.51L921.02 1294.51M922.2 1235.5L922.38 1242.5L922.69 1249.5L923.31 1256.5L924.47 1263.5L925.06 1266.49M925.06 1266.51L926.17 1273.51L926.85 1280.51L927.25 1287.51L927.5 1294.51M929.58 1235.5L929.84 1242.5L930.24 1249.5L930.84 1256.5L931.63 1263.5L931.99 1266.49M931.99 1266.51L932.76 1273.51L933.35 1280.51L933.76 1287.51L934.06 1294.51M936.88 1235.5L937.17 1242.5L937.56 1249.5L938.07 1256.5L938.66 1263.5L938.92 1266.49M938.92 1266.51L939.5 1273.51L939.99 1280.51L940.38 1287.51L940.69 1294.51M944.1 1235.5L944.39 1242.5L944.75 1249.5L945.18 1256.5L945.64 1263.5L945.85 1266.49M945.85 1266.51L946.31 1273.51L946.73 1280.51L947.08 1287.51L947.37 1294.51M877.6 1235.94L884.6 1236.17L891.6 1236.46L898.6 1236.82L905.6 1237.26L912.6 1237.78L913.49 1237.84M877.6 1242.61L884.6 1242.82L891.6 1243.11L898.6 1243.51L905.6 1244.03L912.6 1244.68L913.49 1244.77M877.6 1249.23L884.6 1249.42L891.6 1249.68L898.6 1250.08L905.6 1250.68L912.6 1251.57L913.49 1251.7M913.51 1237.85L920.51 1238.38L927.51 1238.88L934.51 1239.3L941.51 1239.62L948.51 1239.88M877.6 1255.81L884.6 1255.94L891.6 1256.14L898.6 1256.48L905.6 1257.09L912.6 1258.39L913.49 1258.63M913.51 1244.78L920.51 1245.49L927.51 1246.1L934.51 1246.57L941.51 1246.89L948.51 1247.13M877.6 1262.35L884.6 1262.41L891.6 1262.5L898.6 1262.66L905.6 1263.02L912.6 1264.59L913.49 1265.54M913.51 1251.71L920.51 1252.75L927.51 1253.52L934.51 1253.99L941.51 1254.26L948.51 1254.44M877.6 1268.88L884.6 1268.85L891.6 1268.8L898.6 1268.71L905.6 1268.49L912.6 1267.35L913.49 1266.45M913.51 1258.64L920.51 1260.55L927.51 1261.32L934.51 1261.59L941.51 1261.73L948.51 1261.81M877.6 1275.42L884.6 1275.31L891.6 1275.13L898.6 1274.83L905.6 1274.25L912.6 1272.81L913.49 1272.5M913.51 1272.49L920.51 1270.07L927.51 1269.49L934.51 1269.32L941.51 1269.25L948.51 1269.2M877.6 1281.99L884.6 1281.81L891.6 1281.56L898.6 1281.17L905.6 1280.55L912.6 1279.58L913.49 1279.43M913.51 1279.42L920.51 1278.24L927.51 1277.42L934.51 1276.98L941.51 1276.73L948.51 1276.58M877.6 1288.6L884.6 1288.39L891.6 1288.1L898.6 1287.71L905.6 1287.16L912.6 1286.45L913.49 1286.36M913.51 1286.35L920.51 1285.58L927.51 1284.92L934.51 1284.45L941.51 1284.13L948.51 1283.91M877.6 1295.26L884.6 1295.03L891.6 1294.74L898.6 1294.37L905.6 1293.9L912.6 1293.36L913.49 1293.29M913.51 1293.28L920.51 1292.71L927.51 1292.18L934.51 1291.75L941.51 1291.42L948.51 1291.17M948.51 1298.38"/></g><g clip-path="url(#clipc3)" filter="url(#b05)" fill="none" stroke="#222" stroke-width="1.5" opacity="0.3"><path d="M897.34 1266.51L896.48 1273.51L895.86 1280.51M904.27 1266.51L902.97 1273.51L902.29 1280.51M899.27 1249.5L898.65 1256.5L897.76 1263.5L897.34 1266.49M911.19 1266.51L908.99 1273.51L908.49 1280.51M906.92 1249.5L906.37 1256.5L905.02 1263.5L904.27 1266.49M913.42 1266.51L914.39 1273.51L914.51 1280.51M914.84 1249.5L915 1256.5L916.35 1263.5L918.13 1266.49M918.13 1266.51L919.95 1273.51L920.56 1280.51M922.69 1249.5L923.31 1256.5L924.47 1263.5L925.06 1266.49M925.06 1266.51L926.17 1273.51L926.85 1280.51M930.24 1249.5L930.84 1256.5L931.63 1263.5L931.99 1266.49M931.99 1266.51L932.76 1273.51L933.35 1280.51M898.6 1250.08L905.6 1250.68L912.6 1251.57L913.49 1251.7M898.6 1256.48L905.6 1257.09L912.6 1258.39L913.49 1258.63M898.6 1262.66L905.6 1263.02L912.6 1264.59L913.49 1265.54M913.51 1251.71L920.51 1252.75L927.51 1253.52M898.6 1268.71L905.6 1268.49L912.6 1267.35L913.49 1266.45M913.51 1258.64L920.51 1260.55L927.51 1261.32M898.6 1274.83L905.6 1274.25L912.6 1272.81L913.49 1272.5M913.51 1272.49L920.51 1270.07L927.51 1269.49M898.6 1281.17L905.6 1280.55L912.6 1279.58L913.49 1279.43M913.51 1279.42L920.51 1278.24L927.51 1277.42"/></g></g>
<rect x="1035.3" y="1429.4" width="72.4" height="4" fill="#000"/>
<rect x="1288" y="1075" width="621" height="373" fill="#010401"/>
<g clip-path="url(#clipg)"><rect x="1545" y="1075" width="8" height="372" fill="#0a2a12" opacity="0.22" filter="url(#b3)"/><rect x="1632" y="1075" width="8" height="372" fill="#0a2a12" opacity="0.22" filter="url(#b3)"/><circle cx="1593.2" cy="1256.5" r="16.5" fill="url(#gsp)"/><circle cx="1518.9" cy="1254.6" r="5.2" fill="none" stroke="#2fe83f" stroke-width="4.2" opacity="1" filter="url(#b1)"/><circle cx="1437.7" cy="1252.9" r="6.6" fill="none" stroke="#28d838" stroke-width="3.2" opacity="0.95" filter="url(#b1)"/><circle cx="1345.7" cy="1250.1" r="9.5" fill="none" stroke="#1f8a30" stroke-width="2.6" opacity="0.6" filter="url(#b1)"/><circle cx="1664.8" cy="1258" r="5.2" fill="none" stroke="#2fe83f" stroke-width="4.2" opacity="1" filter="url(#b1)"/><circle cx="1735" cy="1260.4" r="6.6" fill="none" stroke="#28d838" stroke-width="3.2" opacity="0.95" filter="url(#b1)"/><circle cx="1809.7" cy="1263.1" r="8.2" fill="none" stroke="#1f8a30" stroke-width="2.6" opacity="0.65" filter="url(#b1)"/><circle cx="1891" cy="1264" r="9" fill="none" stroke="#0f3a18" stroke-width="2.2" opacity="0.5" filter="url(#b1)"/><circle cx="1596.3" cy="1184" r="5" fill="none" stroke="#28d838" stroke-width="3" opacity="0.9" filter="url(#b1)"/><circle cx="1598.3" cy="1108.6" r="6.5" fill="none" stroke="#1f9a32" stroke-width="2.4" opacity="0.75" filter="url(#b1)"/><circle cx="1590.1" cy="1329.6" r="5" fill="none" stroke="#25c836" stroke-width="2.8" opacity="0.85" filter="url(#b1)"/><circle cx="1586.7" cy="1405.6" r="6.5" fill="none" stroke="#1f8a30" stroke-width="2.2" opacity="0.7" filter="url(#b1)"/></g>
</svg>
</body></html>
